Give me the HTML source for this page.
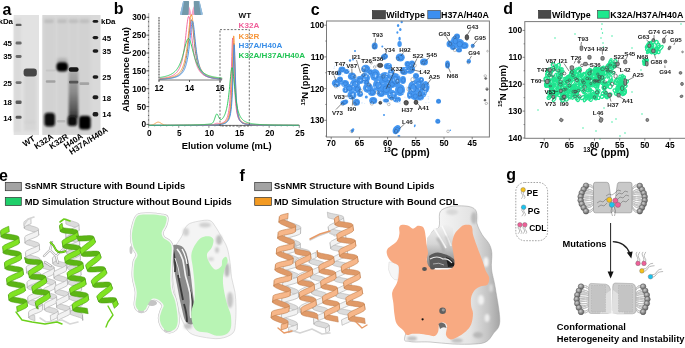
<!DOCTYPE html>
<html><head><meta charset="utf-8"><style>
html,body{margin:0;padding:0;background:#fff;width:685px;height:348px;overflow:hidden}
svg{display:block;will-change:transform}
text{font-family:"Liberation Sans",sans-serif}
</style></head><body>
<svg width="685" height="348" viewBox="0 0 685 348">
<defs>
<filter id="b1" x="-50%" y="-50%" width="200%" height="200%"><feGaussianBlur stdDeviation="1"/></filter>
<filter id="b15" x="-50%" y="-50%" width="200%" height="200%"><feGaussianBlur stdDeviation="1.5"/></filter>
<filter id="b2" x="-50%" y="-50%" width="200%" height="200%"><feGaussianBlur stdDeviation="2"/></filter>
<filter id="b05" x="-50%" y="-50%" width="200%" height="200%"><feGaussianBlur stdDeviation="0.5"/></filter>
<filter id="b07" x="-50%" y="-50%" width="200%" height="200%"><feGaussianBlur stdDeviation="0.7"/></filter>
<filter id="b03" x="-50%" y="-50%" width="200%" height="200%"><feGaussianBlur stdDeviation="0.3"/></filter>
<radialGradient id="head" cx="40%" cy="35%" r="65%"><stop offset="0" stop-color="#cfcfcf"/><stop offset="1" stop-color="#5e5e5e"/></radialGradient>
<linearGradient id="smear" x1="0" y1="0" x2="0" y2="1"><stop offset="0" stop-color="#ababab"/><stop offset="0.45" stop-color="#8a8a8a"/><stop offset="0.8" stop-color="#5a5a5a"/><stop offset="1" stop-color="#333"/></linearGradient>
</defs>

<text x="2.5" y="14.7" font-family="Liberation Sans" font-weight="bold" font-size="16">a</text>
<rect x="13.7" y="15" width="25.3" height="120" fill="#e2e2e2"/>
<rect x="42.3" y="15" width="58.2" height="120" fill="#d9d9d9"/>
<g><rect x="24" y="76" width="12.5" height="55" fill="#d6d6d6" filter="url(#b15)"/><rect x="14" y="18" width="7" height="114" fill="#dadada" filter="url(#b1)"/><rect x="15.6" y="23.7" width="6.000000000000002" height="2.3999999999999986" rx="1.3" fill="#606060" opacity="1" filter="url(#b07)"/><rect x="15.6" y="41.5" width="6.000000000000002" height="3.0" rx="1.3" fill="#6a6a6a" opacity="1" filter="url(#b07)"/><rect x="15.6" y="54.9" width="6.000000000000002" height="3.0" rx="1.3" fill="#6a6a6a" opacity="1" filter="url(#b07)"/><rect x="15.6" y="81.3" width="6.000000000000002" height="2.5999999999999943" rx="1.3" fill="#707070" opacity="1" filter="url(#b07)"/><rect x="15.6" y="100.5" width="6.000000000000002" height="3.5999999999999943" rx="1.3" fill="#5a5a5a" opacity="1" filter="url(#b07)"/><rect x="15.6" y="115.7" width="6.000000000000002" height="3.0" rx="1.3" fill="#5a5a5a" opacity="1" filter="url(#b07)"/><rect x="23.6" y="68.6" width="13.199999999999996" height="7.800000000000011" rx="3" fill="#464646" opacity="1" filter="url(#b07)"/><rect x="24.5" y="120.5" width="11.0" height="3.5" rx="2.5" fill="#d2d2d2" opacity="1" filter="url(#b1)"/><rect x="43.5" y="17" width="11.5" height="116" fill="#cdcdcd" opacity="0.55" filter="url(#b1)"/><rect x="56.5" y="17" width="11.5" height="116" fill="#cdcdcd" opacity="0.55" filter="url(#b1)"/><rect x="68.5" y="17" width="10.0" height="116" fill="#cdcdcd" opacity="0.55" filter="url(#b1)"/><rect x="79" y="17" width="11.5" height="116" fill="#cdcdcd" opacity="0.55" filter="url(#b1)"/><rect x="44" y="19.5" width="10" height="3.5" rx="2.5" fill="#bdbdbd" opacity="1" filter="url(#b1)"/><rect x="57" y="19.5" width="10" height="3.5" rx="2.5" fill="#bdbdbd" opacity="1" filter="url(#b1)"/><rect x="68.5" y="19.5" width="10.0" height="3.5" rx="2.5" fill="#bdbdbd" opacity="1" filter="url(#b1)"/><rect x="79.5" y="19.5" width="10.0" height="3.5" rx="2.5" fill="#bdbdbd" opacity="1" filter="url(#b1)"/><rect x="45.8" y="80.2" width="9.700000000000003" height="2.5999999999999943" rx="1" fill="#a2a2a2" opacity="1" filter="url(#b07)"/><rect x="45.8" y="69.5" width="9.700000000000003" height="2.0" rx="1" fill="#c6c6c6" opacity="1" filter="url(#b07)"/><rect x="44.3" y="112.8" width="10.700000000000003" height="13.700000000000003" rx="3.5" fill="#0c0c0c" opacity="1" filter="url(#b1)"/><rect x="57" y="58" width="10.5" height="6" rx="3" fill="#b0b0b0" opacity="1" filter="url(#b15)"/><rect x="56.4" y="62.2" width="11.600000000000001" height="9.200000000000003" rx="4" fill="#050505" opacity="1" filter="url(#b1)"/><rect x="57" y="120" width="8.299999999999997" height="2.5" rx="1" fill="#b8b8b8" opacity="1" filter="url(#b07)"/><rect x="68.6" y="71" width="9.8" height="47" fill="url(#smear)" filter="url(#b1)"/><rect x="68.7" y="67.3" width="9.899999999999991" height="4.5" rx="2" fill="#151515" opacity="1" filter="url(#b07)"/><rect x="69" y="80.8" width="9.299999999999997" height="2.799999999999997" rx="1" fill="#555" opacity="1" filter="url(#b07)"/><rect x="67.6" y="116" width="9.600000000000009" height="10" rx="3" fill="#080808" opacity="1" filter="url(#b1)"/><rect x="79.5" y="82.3" width="9.700000000000003" height="2.700000000000003" rx="1" fill="#a4a4a4" opacity="1" filter="url(#b07)"/><rect x="79" y="115.8" width="11.700000000000003" height="13.600000000000009" rx="3.5" fill="#030303" opacity="1" filter="url(#b1)"/><rect x="92.6" y="20.099999999999998" width="5.700000000000003" height="2.6000000000000014" rx="1.8" fill="#1e1e1e" opacity="1" filter="url(#b07)"/><rect x="92.6" y="35.9" width="5.700000000000003" height="3.4000000000000057" rx="1.8" fill="#1e1e1e" opacity="1" filter="url(#b07)"/><rect x="92.6" y="49.3" width="5.700000000000003" height="3.4000000000000057" rx="1.8" fill="#1e1e1e" opacity="1" filter="url(#b07)"/><rect x="92.6" y="75.2" width="5.700000000000003" height="3.5999999999999943" rx="1.8" fill="#1e1e1e" opacity="1" filter="url(#b07)"/><rect x="92.6" y="95.3" width="5.700000000000003" height="4.0" rx="1.8" fill="#1e1e1e" opacity="1" filter="url(#b07)"/><rect x="92.6" y="112.1" width="5.700000000000003" height="4.400000000000006" rx="1.8" fill="#1e1e1e" opacity="1" filter="url(#b07)"/></g>
<text x="13" y="24.3" font-family="Liberation Sans" font-weight="bold" font-size="7.9" text-anchor="end">kDa</text>
<text x="12" y="46" font-family="Liberation Sans" font-weight="bold" font-size="7.9" text-anchor="end">45</text>
<text x="12" y="59.2" font-family="Liberation Sans" font-weight="bold" font-size="7.9" text-anchor="end">35</text>
<text x="12" y="86.2" font-family="Liberation Sans" font-weight="bold" font-size="7.9" text-anchor="end">25</text>
<text x="12" y="104.8" font-family="Liberation Sans" font-weight="bold" font-size="7.9" text-anchor="end">18</text>
<text x="12" y="120.6" font-family="Liberation Sans" font-weight="bold" font-size="7.9" text-anchor="end">14</text>
<text x="101" y="24.4" font-family="Liberation Sans" font-weight="bold" font-size="7.9">kDa</text>
<text x="102.3" y="41.3" font-family="Liberation Sans" font-weight="bold" font-size="7.9">45</text>
<text x="102.3" y="54.4" font-family="Liberation Sans" font-weight="bold" font-size="7.9">35</text>
<text x="102.3" y="80.2" font-family="Liberation Sans" font-weight="bold" font-size="7.9">25</text>
<text x="102.3" y="101" font-family="Liberation Sans" font-weight="bold" font-size="7.9">18</text>
<text x="102.3" y="116.6" font-family="Liberation Sans" font-weight="bold" font-size="7.9">14</text>
<text transform="translate(25,147) rotate(-33)" font-family="Liberation Sans" font-weight="bold" font-size="8.2">WT</text>
<text transform="translate(36.5,149.5) rotate(-33)" font-family="Liberation Sans" font-weight="bold" font-size="8.2">K32A</text>
<text transform="translate(51.5,149.5) rotate(-33)" font-family="Liberation Sans" font-weight="bold" font-size="8.2">K32R</text>
<text transform="translate(66,149) rotate(-33)" font-family="Liberation Sans" font-weight="bold" font-size="8.2">H40A</text>
<text transform="translate(71.5,155) rotate(-33)" font-family="Liberation Sans" font-weight="bold" font-size="8.2">H37A/H40A</text>
<text x="113.8" y="13.8" font-family="Liberation Sans" font-weight="bold" font-size="16">b</text>
<line x1="148.6" y1="13" x2="148.6" y2="125.4" stroke="#bdbdbd" stroke-width="1.4"/>
<path d="M148.10,124.40h1M148.10,119.94h1M148.10,115.48h1M148.10,111.01h1M148.10,106.55h1M148.10,102.09h1M148.10,97.62h1M148.10,93.16h1M148.10,88.70h1M148.10,84.24h1M148.10,79.78h1M148.10,75.31h1M148.10,70.85h1M148.10,66.39h1M148.10,61.93h1M148.10,57.46h1M148.10,53.00h1M148.10,48.54h1M148.10,44.08h1M148.10,39.61h1M148.10,35.15h1M148.10,30.69h1M148.10,26.23h1M148.10,21.76h1M148.10,17.30h1" stroke="#444" stroke-width="0.9"/>
<line x1="146.4" y1="124.40" x2="148.6" y2="124.40" stroke="#333" stroke-width="0.8"/>
<text x="146.0" y="127.40" font-family="Liberation Sans" font-weight="bold" font-size="8.3" text-anchor="end">0</text>
<line x1="146.4" y1="106.55" x2="148.6" y2="106.55" stroke="#333" stroke-width="0.8"/>
<text x="146.0" y="109.55" font-family="Liberation Sans" font-weight="bold" font-size="8.3" text-anchor="end">50</text>
<line x1="146.4" y1="88.70" x2="148.6" y2="88.70" stroke="#333" stroke-width="0.8"/>
<text x="146.0" y="91.70" font-family="Liberation Sans" font-weight="bold" font-size="8.3" text-anchor="end">100</text>
<line x1="146.4" y1="70.85" x2="148.6" y2="70.85" stroke="#333" stroke-width="0.8"/>
<text x="146.0" y="73.85" font-family="Liberation Sans" font-weight="bold" font-size="8.3" text-anchor="end">150</text>
<line x1="146.4" y1="53.00" x2="148.6" y2="53.00" stroke="#333" stroke-width="0.8"/>
<text x="146.0" y="56.00" font-family="Liberation Sans" font-weight="bold" font-size="8.3" text-anchor="end">200</text>
<line x1="146.4" y1="35.15" x2="148.6" y2="35.15" stroke="#333" stroke-width="0.8"/>
<text x="146.0" y="38.15" font-family="Liberation Sans" font-weight="bold" font-size="8.3" text-anchor="end">250</text>
<line x1="146.4" y1="17.30" x2="148.6" y2="17.30" stroke="#333" stroke-width="0.8"/>
<text x="146.0" y="20.30" font-family="Liberation Sans" font-weight="bold" font-size="8.3" text-anchor="end">300</text>
<line x1="148.6" y1="125.4" x2="299.80" y2="125.4" stroke="#444" stroke-width="0.8"/>
<path d="M148.60,125.4v1.2M154.63,125.4v1.2M160.66,125.4v1.2M166.68,125.4v1.2M172.71,125.4v1.2M178.74,125.4v1.2M184.77,125.4v1.2M190.80,125.4v1.2M196.82,125.4v1.2M202.85,125.4v1.2M208.88,125.4v1.2M214.91,125.4v1.2M220.94,125.4v1.2M226.96,125.4v1.2M232.99,125.4v1.2M239.02,125.4v1.2M245.05,125.4v1.2M251.08,125.4v1.2M257.10,125.4v1.2M263.13,125.4v1.2M269.16,125.4v1.2M275.19,125.4v1.2M281.22,125.4v1.2M287.24,125.4v1.2M293.27,125.4v1.2M299.30,125.4v1.2" stroke="#888" stroke-width="0.6"/>
<line x1="148.60" y1="125.4" x2="148.60" y2="128.0" stroke="#999" stroke-width="0.9"/>
<text x="149.20" y="136" font-family="Liberation Sans" font-weight="bold" font-size="8.3" text-anchor="middle">0</text>
<line x1="178.74" y1="125.4" x2="178.74" y2="128.0" stroke="#999" stroke-width="0.9"/>
<text x="179.34" y="136" font-family="Liberation Sans" font-weight="bold" font-size="8.3" text-anchor="middle">5</text>
<line x1="208.88" y1="125.4" x2="208.88" y2="128.0" stroke="#999" stroke-width="0.9"/>
<text x="209.48" y="136" font-family="Liberation Sans" font-weight="bold" font-size="8.3" text-anchor="middle">10</text>
<line x1="239.02" y1="125.4" x2="239.02" y2="128.0" stroke="#999" stroke-width="0.9"/>
<text x="239.62" y="136" font-family="Liberation Sans" font-weight="bold" font-size="8.3" text-anchor="middle">15</text>
<line x1="269.16" y1="125.4" x2="269.16" y2="128.0" stroke="#999" stroke-width="0.9"/>
<text x="269.76" y="136" font-family="Liberation Sans" font-weight="bold" font-size="8.3" text-anchor="middle">20</text>
<line x1="299.30" y1="125.4" x2="299.30" y2="128.0" stroke="#999" stroke-width="0.9"/>
<text x="299.90" y="136" font-family="Liberation Sans" font-weight="bold" font-size="8.3" text-anchor="middle">25</text>
<text x="226.7" y="149" font-family="Liberation Sans" font-weight="bold" font-size="9.4" text-anchor="middle">Elution volume (mL)</text>
<text transform="translate(129,69.6) rotate(-90)" font-family="Liberation Sans" font-weight="bold" font-size="9.5" text-anchor="middle">Absorbance (mAu)</text>
<polyline points="148.60,125.37 148.90,125.37 149.20,125.37 149.50,125.37 149.81,125.37 150.11,125.37 150.41,125.37 150.71,125.37 151.01,125.37 151.31,125.37 151.61,125.37 151.92,125.37 152.22,125.37 152.52,125.37 152.82,125.37 153.12,125.37 153.42,125.37 153.72,125.37 154.03,125.37 154.33,125.37 154.63,125.37 154.93,125.37 155.23,125.37 155.53,125.37 155.83,125.37 156.13,125.37 156.44,125.37 156.74,125.37 157.04,125.37 157.34,125.37 157.64,125.37 157.94,125.37 158.24,125.37 158.55,125.37 158.85,125.37 159.15,125.37 159.45,125.37 159.75,125.37 160.05,125.37 160.35,125.37 160.66,125.36 160.96,125.36 161.26,125.36 161.56,125.36 161.86,125.36 162.16,125.36 162.46,125.36 162.77,125.36 163.07,125.36 163.37,125.36 163.67,125.36 163.97,125.36 164.27,125.36 164.57,125.36 164.88,125.36 165.18,125.36 165.48,125.36 165.78,125.36 166.08,125.36 166.38,125.36 166.68,125.36 166.99,125.36 167.29,125.36 167.59,125.36 167.89,125.36 168.19,125.36 168.49,125.36 168.79,125.36 169.10,125.35 169.40,125.35 169.70,125.35 170.00,125.35 170.30,125.35 170.60,125.35 170.90,125.35 171.20,125.35 171.51,125.35 171.81,125.35 172.11,125.35 172.41,125.35 172.71,125.35 173.01,125.35 173.31,125.35 173.62,125.35 173.92,125.35 174.22,125.35 174.52,125.35 174.82,125.35 175.12,125.35 175.42,125.34 175.73,125.34 176.03,125.34 176.33,125.34 176.63,125.34 176.93,125.34 177.23,125.34 177.53,125.34 177.84,125.34 178.14,125.34 178.44,125.34 178.74,125.34 179.04,125.34 179.34,125.34 179.64,125.34 179.95,125.33 180.25,125.33 180.55,125.33 180.85,125.33 181.15,125.33 181.45,125.33 181.75,125.33 182.06,125.33 182.36,125.33 182.66,125.33 182.96,125.33 183.26,125.33 183.56,125.33 183.86,125.32 184.17,125.32 184.47,125.32 184.77,125.32 185.07,125.32 185.37,125.32 185.67,125.32 185.97,125.32 186.27,125.32 186.58,125.32 186.88,125.31 187.18,125.31 187.48,125.31 187.78,125.31 188.08,125.31 188.38,125.31 188.69,125.31 188.99,125.31 189.29,125.30 189.59,125.30 189.89,125.30 190.19,125.30 190.49,125.30 190.80,125.30 191.10,125.30 191.40,125.30 191.70,125.29 192.00,125.29 192.30,125.29 192.60,125.29 192.91,125.29 193.21,125.29 193.51,125.28 193.81,125.28 194.11,125.28 194.41,125.28 194.71,125.28 195.02,125.27 195.32,125.27 195.62,125.27 195.92,125.27 196.22,125.27 196.52,125.26 196.82,125.26 197.13,125.26 197.43,125.26 197.73,125.26 198.03,125.25 198.33,125.25 198.63,125.25 198.93,125.24 199.24,125.24 199.54,125.24 199.84,125.24 200.14,125.23 200.44,125.23 200.74,125.23 201.04,125.22 201.34,125.22 201.65,125.22 201.95,125.21 202.25,125.21 202.55,125.21 202.85,125.20 203.15,125.20 203.45,125.20 203.76,125.19 204.06,125.19 204.36,125.18 204.66,125.18 204.96,125.17 205.26,125.17 205.56,125.16 205.87,125.16 206.17,125.15 206.47,125.15 206.77,125.14 207.07,125.14 207.37,125.13 207.67,125.12 207.98,125.12 208.28,125.11 208.58,125.10 208.88,125.10 209.18,125.09 209.48,125.08 209.78,125.07 210.09,125.06 210.39,125.06 210.69,125.05 210.99,125.04 211.29,125.03 211.59,125.02 211.89,125.01 212.20,125.00 212.50,124.98 212.80,124.97 213.10,124.96 213.40,124.95 213.70,124.93 214.00,124.92 214.31,124.90 214.61,124.89 214.91,124.87 215.21,124.85 215.51,124.84 215.81,124.82 216.11,124.80 216.42,124.78 216.72,124.75 217.02,124.73 217.32,124.71 217.62,124.68 217.92,124.65 218.22,124.62 218.52,124.59 218.83,124.56 219.13,124.53 219.43,124.49 219.73,124.45 220.03,124.41 220.33,124.36 220.63,124.32 220.94,124.26 221.24,124.21 221.54,124.15 221.84,124.09 222.14,124.02 222.44,123.95 222.74,123.87 223.05,123.78 223.35,123.69 223.65,123.58 223.95,123.47 224.25,123.35 224.55,123.22 224.85,123.07 225.16,122.91 225.46,122.73 225.76,122.53 226.06,122.31 226.36,122.06 226.66,121.78 226.96,121.47 227.27,121.11 227.57,120.71 227.87,120.24 228.17,119.70 228.47,119.08 228.77,118.36 229.07,117.50 229.38,116.49 229.68,115.28 229.98,113.82 230.28,112.04 230.58,109.85 230.88,107.13 231.18,103.73 231.49,99.44 231.79,94.01 232.09,87.17 232.39,78.72 232.69,68.76 232.99,58.09 233.29,48.60 233.59,43.10 233.90,43.75 234.20,50.27 234.50,60.20 234.80,70.85 235.10,80.54 235.40,88.66 235.70,95.20 236.01,100.38 236.31,104.48 236.61,107.73 236.91,110.33 237.21,112.42 237.51,114.13 237.81,115.54 238.12,116.71 238.42,117.68 238.72,118.51 239.02,119.21 239.32,119.82 239.62,120.34 239.92,120.79 240.23,121.19 240.53,121.54 240.83,121.84 241.13,122.11 241.43,122.36 241.73,122.57 242.03,122.77 242.34,122.94 242.64,123.10 242.94,123.25 243.24,123.38 243.54,123.50 243.84,123.61 244.14,123.71 244.45,123.80 244.75,123.88 245.05,123.96 245.35,124.03 245.65,124.10 245.95,124.16 246.25,124.22 246.56,124.27 246.86,124.32 247.16,124.37 247.46,124.42 247.76,124.46 248.06,124.50 248.36,124.53 248.66,124.57 248.97,124.60 249.27,124.63 249.57,124.66 249.87,124.69 250.17,124.71 250.47,124.74 250.77,124.76 251.08,124.78 251.38,124.80 251.68,124.82 251.98,124.84 252.28,124.86 252.58,124.87 252.88,124.89 253.19,124.91 253.49,124.92 253.79,124.94 254.09,124.95 254.39,124.96 254.69,124.97 254.99,124.99 255.30,125.00 255.60,125.01 255.90,125.02 256.20,125.03 256.50,125.04 256.80,125.05 257.10,125.06 257.41,125.07 257.71,125.07 258.01,125.08 258.31,125.09 258.61,125.10 258.91,125.10 259.21,125.11 259.52,125.12 259.82,125.12 260.12,125.13 260.42,125.14 260.72,125.14 261.02,125.15 261.32,125.15 261.63,125.16 261.93,125.16 262.23,125.17 262.53,125.17 262.83,125.18 263.13,125.18 263.43,125.19 263.73,125.19 264.04,125.20 264.34,125.20 264.64,125.20 264.94,125.21 265.24,125.21 265.54,125.21 265.84,125.22 266.15,125.22 266.45,125.22 266.75,125.23 267.05,125.23 267.35,125.23 267.65,125.24 267.95,125.24 268.26,125.24 268.56,125.25 268.86,125.25 269.16,125.25 269.46,125.25 269.76,125.26 270.06,125.26 270.37,125.26 270.67,125.26 270.97,125.26 271.27,125.27 271.57,125.27 271.87,125.27 272.17,125.27 272.48,125.27 272.78,125.28 273.08,125.28 273.38,125.28 273.68,125.28 273.98,125.28 274.28,125.29 274.59,125.29 274.89,125.29 275.19,125.29 275.49,125.29 275.79,125.29 276.09,125.30 276.39,125.30 276.70,125.30 277.00,125.30 277.30,125.30 277.60,125.30 277.90,125.30 278.20,125.31 278.50,125.31 278.80,125.31 279.11,125.31 279.41,125.31 279.71,125.31 280.01,125.31 280.31,125.31 280.61,125.31 280.91,125.32 281.22,125.32 281.52,125.32 281.82,125.32 282.12,125.32 282.42,125.32 282.72,125.32 283.02,125.32 283.33,125.32 283.63,125.32 283.93,125.33 284.23,125.33 284.53,125.33 284.83,125.33 285.13,125.33 285.44,125.33 285.74,125.33 286.04,125.33 286.34,125.33 286.64,125.33 286.94,125.33 287.24,125.33 287.55,125.34 287.85,125.34 288.15,125.34 288.45,125.34 288.75,125.34 289.05,125.34 289.35,125.34 289.66,125.34 289.96,125.34 290.26,125.34 290.56,125.34 290.86,125.34 291.16,125.34 291.46,125.34 291.77,125.34 292.07,125.34 292.37,125.35 292.67,125.35 292.97,125.35 293.27,125.35 293.57,125.35 293.87,125.35 294.18,125.35 294.48,125.35 294.78,125.35 295.08,125.35 295.38,125.35 295.68,125.35 295.98,125.35 296.29,125.35 296.59,125.35 296.89,125.35 297.19,125.35 297.49,125.35 297.79,125.35 298.09,125.35 298.40,125.36 298.70,125.36 299.00,125.36" fill="none" stroke="#777777" stroke-width="0.9"/>
<polyline points="148.60,125.36 148.90,125.36 149.20,125.36 149.50,125.36 149.81,125.36 150.11,125.36 150.41,125.36 150.71,125.36 151.01,125.36 151.31,125.36 151.61,125.36 151.92,125.36 152.22,125.36 152.52,125.36 152.82,125.36 153.12,125.36 153.42,125.36 153.72,125.36 154.03,125.36 154.33,125.36 154.63,125.36 154.93,125.36 155.23,125.36 155.53,125.36 155.83,125.35 156.13,125.35 156.44,125.35 156.74,125.35 157.04,125.35 157.34,125.35 157.64,125.35 157.94,125.35 158.24,125.35 158.55,125.35 158.85,125.35 159.15,125.35 159.45,125.35 159.75,125.35 160.05,125.35 160.35,125.35 160.66,125.35 160.96,125.35 161.26,125.35 161.56,125.35 161.86,125.35 162.16,125.35 162.46,125.35 162.77,125.35 163.07,125.34 163.37,125.34 163.67,125.34 163.97,125.34 164.27,125.34 164.57,125.34 164.88,125.34 165.18,125.34 165.48,125.34 165.78,125.34 166.08,125.34 166.38,125.34 166.68,125.34 166.99,125.34 167.29,125.34 167.59,125.34 167.89,125.34 168.19,125.34 168.49,125.34 168.79,125.33 169.10,125.33 169.40,125.33 169.70,125.33 170.00,125.33 170.30,125.33 170.60,125.33 170.90,125.33 171.20,125.33 171.51,125.33 171.81,125.33 172.11,125.33 172.41,125.33 172.71,125.33 173.01,125.33 173.31,125.32 173.62,125.32 173.92,125.32 174.22,125.32 174.52,125.32 174.82,125.32 175.12,125.32 175.42,125.32 175.73,125.32 176.03,125.32 176.33,125.32 176.63,125.32 176.93,125.31 177.23,125.31 177.53,125.31 177.84,125.31 178.14,125.31 178.44,125.31 178.74,125.31 179.04,125.31 179.34,125.31 179.64,125.31 179.95,125.30 180.25,125.30 180.55,125.30 180.85,125.30 181.15,125.30 181.45,125.30 181.75,125.30 182.06,125.30 182.36,125.29 182.66,125.29 182.96,125.29 183.26,125.29 183.56,125.29 183.86,125.29 184.17,125.29 184.47,125.29 184.77,125.28 185.07,125.28 185.37,125.28 185.67,125.28 185.97,125.28 186.27,125.28 186.58,125.27 186.88,125.27 187.18,125.27 187.48,125.27 187.78,125.27 188.08,125.27 188.38,125.26 188.69,125.26 188.99,125.26 189.29,125.26 189.59,125.26 189.89,125.25 190.19,125.25 190.49,125.25 190.80,125.25 191.10,125.25 191.40,125.24 191.70,125.24 192.00,125.24 192.30,125.24 192.60,125.23 192.91,125.23 193.21,125.23 193.51,125.23 193.81,125.22 194.11,125.22 194.41,125.22 194.71,125.22 195.02,125.21 195.32,125.21 195.62,125.21 195.92,125.20 196.22,125.20 196.52,125.20 196.82,125.19 197.13,125.19 197.43,125.19 197.73,125.18 198.03,125.18 198.33,125.17 198.63,125.17 198.93,125.17 199.24,125.16 199.54,125.16 199.84,125.15 200.14,125.15 200.44,125.14 200.74,125.14 201.04,125.13 201.34,125.13 201.65,125.12 201.95,125.12 202.25,125.11 202.55,125.11 202.85,125.10 203.15,125.09 203.45,125.09 203.76,125.08 204.06,125.08 204.36,125.07 204.66,125.06 204.96,125.05 205.26,125.05 205.56,125.04 205.87,125.03 206.17,125.02 206.47,125.01 206.77,125.00 207.07,124.99 207.37,124.98 207.67,124.97 207.98,124.96 208.28,124.95 208.58,124.94 208.88,124.93 209.18,124.92 209.48,124.91 209.78,124.89 210.09,124.88 210.39,124.86 210.69,124.85 210.99,124.83 211.29,124.81 211.59,124.78 211.89,124.76 212.20,124.72 212.50,124.68 212.80,124.63 213.10,124.56 213.40,124.49 213.70,124.40 214.00,124.29 214.31,124.18 214.61,124.05 214.91,123.91 215.21,123.78 215.51,123.65 215.81,123.53 216.11,123.42 216.42,123.35 216.72,123.29 217.02,123.27 217.32,123.27 217.62,123.29 217.92,123.33 218.22,123.38 218.52,123.44 218.83,123.49 219.13,123.53 219.43,123.56 219.73,123.57 220.03,123.56 220.33,123.54 220.63,123.50 220.94,123.44 221.24,123.36 221.54,123.27 221.84,123.17 222.14,123.05 222.44,122.92 222.74,122.77 223.05,122.62 223.35,122.44 223.65,122.25 223.95,122.04 224.25,121.80 224.55,121.54 224.85,121.25 225.16,120.93 225.46,120.57 225.76,120.17 226.06,119.72 226.36,119.20 226.66,118.61 226.96,117.94 227.27,117.17 227.57,116.28 227.87,115.24 228.17,114.02 228.47,112.59 228.77,110.88 229.07,108.84 229.38,106.37 229.68,103.38 229.98,99.73 230.28,95.27 230.58,89.80 230.88,83.15 231.18,75.22 231.49,66.13 231.79,56.40 232.09,47.23 232.39,40.46 232.69,37.94 232.99,40.46 233.29,47.23 233.59,56.40 233.90,66.13 234.20,75.22 234.50,83.15 234.80,89.80 235.10,95.27 235.40,99.73 235.70,103.38 236.01,106.37 236.31,108.84 236.61,110.88 236.91,112.59 237.21,114.02 237.51,115.24 237.81,116.28 238.12,117.17 238.42,117.94 238.72,118.61 239.02,119.20 239.32,119.72 239.62,120.17 239.92,120.57 240.23,120.93 240.53,121.25 240.83,121.54 241.13,121.80 241.43,122.04 241.73,122.25 242.03,122.44 242.34,122.62 242.64,122.78 242.94,122.93 243.24,123.06 243.54,123.19 243.84,123.30 244.14,123.41 244.45,123.51 244.75,123.60 245.05,123.68 245.35,123.76 245.65,123.84 245.95,123.91 246.25,123.97 246.56,124.03 246.86,124.09 247.16,124.14 247.46,124.19 247.76,124.24 248.06,124.28 248.36,124.33 248.66,124.36 248.97,124.40 249.27,124.44 249.57,124.47 249.87,124.50 250.17,124.53 250.47,124.56 250.77,124.59 251.08,124.62 251.38,124.64 251.68,124.66 251.98,124.69 252.28,124.71 252.58,124.73 252.88,124.75 253.19,124.77 253.49,124.79 253.79,124.80 254.09,124.82 254.39,124.84 254.69,124.85 254.99,124.87 255.30,124.88 255.60,124.89 255.90,124.91 256.20,124.92 256.50,124.93 256.80,124.94 257.10,124.95 257.41,124.96 257.71,124.97 258.01,124.98 258.31,124.99 258.61,125.00 258.91,125.01 259.21,125.02 259.52,125.03 259.82,125.04 260.12,125.05 260.42,125.05 260.72,125.06 261.02,125.07 261.32,125.08 261.63,125.08 261.93,125.09 262.23,125.09 262.53,125.10 262.83,125.11 263.13,125.11 263.43,125.12 263.73,125.12 264.04,125.13 264.34,125.13 264.64,125.14 264.94,125.14 265.24,125.15 265.54,125.15 265.84,125.16 266.15,125.16 266.45,125.17 266.75,125.17 267.05,125.17 267.35,125.18 267.65,125.18 267.95,125.19 268.26,125.19 268.56,125.19 268.86,125.20 269.16,125.20 269.46,125.20 269.76,125.21 270.06,125.21 270.37,125.21 270.67,125.22 270.97,125.22 271.27,125.22 271.57,125.22 271.87,125.23 272.17,125.23 272.48,125.23 272.78,125.23 273.08,125.24 273.38,125.24 273.68,125.24 273.98,125.24 274.28,125.25 274.59,125.25 274.89,125.25 275.19,125.25 275.49,125.25 275.79,125.26 276.09,125.26 276.39,125.26 276.70,125.26 277.00,125.26 277.30,125.27 277.60,125.27 277.90,125.27 278.20,125.27 278.50,125.27 278.80,125.27 279.11,125.28 279.41,125.28 279.71,125.28 280.01,125.28 280.31,125.28 280.61,125.28 280.91,125.29 281.22,125.29 281.52,125.29 281.82,125.29 282.12,125.29 282.42,125.29 282.72,125.29 283.02,125.29 283.33,125.30 283.63,125.30 283.93,125.30 284.23,125.30 284.53,125.30 284.83,125.30 285.13,125.30 285.44,125.30 285.74,125.31 286.04,125.31 286.34,125.31 286.64,125.31 286.94,125.31 287.24,125.31 287.55,125.31 287.85,125.31 288.15,125.31 288.45,125.31 288.75,125.32 289.05,125.32 289.35,125.32 289.66,125.32 289.96,125.32 290.26,125.32 290.56,125.32 290.86,125.32 291.16,125.32 291.46,125.32 291.77,125.32 292.07,125.32 292.37,125.33 292.67,125.33 292.97,125.33 293.27,125.33 293.57,125.33 293.87,125.33 294.18,125.33 294.48,125.33 294.78,125.33 295.08,125.33 295.38,125.33 295.68,125.33 295.98,125.33 296.29,125.33 296.59,125.33 296.89,125.34 297.19,125.34 297.49,125.34 297.79,125.34 298.09,125.34 298.40,125.34 298.70,125.34 299.00,125.34" fill="none" stroke="#f0609a" stroke-width="0.9"/>
<polyline points="148.60,125.35 148.90,125.34 149.20,125.33 149.50,125.32 149.81,125.30 150.11,125.28 150.41,125.25 150.71,125.22 151.01,125.18 151.31,125.13 151.61,125.08 151.92,125.01 152.22,124.93 152.52,124.83 152.82,124.73 153.12,124.60 153.42,124.47 153.72,124.32 154.03,124.15 154.33,123.98 154.63,123.80 154.93,123.60 155.23,123.41 155.53,123.22 155.83,123.02 156.13,122.84 156.44,122.67 156.74,122.52 157.04,122.39 157.34,122.28 157.64,122.21 157.94,122.16 158.24,122.14 158.55,122.16 158.85,122.20 159.15,122.28 159.45,122.39 159.75,122.52 160.05,122.67 160.35,122.84 160.66,123.02 160.96,123.21 161.26,123.40 161.56,123.60 161.86,123.79 162.16,123.97 162.46,124.14 162.77,124.31 163.07,124.46 163.37,124.59 163.67,124.71 163.97,124.82 164.27,124.91 164.57,124.99 164.88,125.06 165.18,125.12 165.48,125.16 165.78,125.20 166.08,125.23 166.38,125.26 166.68,125.28 166.99,125.29 167.29,125.31 167.59,125.32 167.89,125.32 168.19,125.33 168.49,125.33 168.79,125.33 169.10,125.33 169.40,125.33 169.70,125.34 170.00,125.34 170.30,125.34 170.60,125.33 170.90,125.33 171.20,125.33 171.51,125.33 171.81,125.33 172.11,125.33 172.41,125.33 172.71,125.33 173.01,125.33 173.31,125.33 173.62,125.33 173.92,125.33 174.22,125.33 174.52,125.33 174.82,125.33 175.12,125.33 175.42,125.32 175.73,125.32 176.03,125.32 176.33,125.32 176.63,125.32 176.93,125.32 177.23,125.32 177.53,125.32 177.84,125.32 178.14,125.32 178.44,125.32 178.74,125.32 179.04,125.31 179.34,125.31 179.64,125.31 179.95,125.31 180.25,125.31 180.55,125.31 180.85,125.31 181.15,125.31 181.45,125.31 181.75,125.31 182.06,125.30 182.36,125.30 182.66,125.30 182.96,125.30 183.26,125.30 183.56,125.30 183.86,125.30 184.17,125.30 184.47,125.29 184.77,125.29 185.07,125.29 185.37,125.29 185.67,125.29 185.97,125.29 186.27,125.29 186.58,125.28 186.88,125.28 187.18,125.28 187.48,125.28 187.78,125.28 188.08,125.28 188.38,125.28 188.69,125.27 188.99,125.27 189.29,125.27 189.59,125.27 189.89,125.27 190.19,125.26 190.49,125.26 190.80,125.26 191.10,125.26 191.40,125.26 191.70,125.26 192.00,125.25 192.30,125.25 192.60,125.25 192.91,125.25 193.21,125.24 193.51,125.24 193.81,125.24 194.11,125.24 194.41,125.23 194.71,125.23 195.02,125.23 195.32,125.23 195.62,125.22 195.92,125.22 196.22,125.22 196.52,125.22 196.82,125.21 197.13,125.21 197.43,125.21 197.73,125.20 198.03,125.20 198.33,125.20 198.63,125.19 198.93,125.19 199.24,125.18 199.54,125.18 199.84,125.18 200.14,125.17 200.44,125.17 200.74,125.16 201.04,125.16 201.34,125.16 201.65,125.15 201.95,125.15 202.25,125.14 202.55,125.14 202.85,125.13 203.15,125.13 203.45,125.12 203.76,125.12 204.06,125.11 204.36,125.10 204.66,125.10 204.96,125.09 205.26,125.08 205.56,125.08 205.87,125.07 206.17,125.06 206.47,125.06 206.77,125.05 207.07,125.04 207.37,125.03 207.67,125.02 207.98,125.01 208.28,125.01 208.58,125.00 208.88,124.99 209.18,124.98 209.48,124.97 209.78,124.95 210.09,124.94 210.39,124.93 210.69,124.92 210.99,124.91 211.29,124.89 211.59,124.88 211.89,124.86 212.20,124.85 212.50,124.83 212.80,124.82 213.10,124.80 213.40,124.78 213.70,124.76 214.00,124.75 214.31,124.72 214.61,124.70 214.91,124.68 215.21,124.66 215.51,124.63 215.81,124.61 216.11,124.58 216.42,124.55 216.72,124.52 217.02,124.49 217.32,124.46 217.62,124.42 217.92,124.38 218.22,124.34 218.52,124.30 218.83,124.26 219.13,124.21 219.43,124.16 219.73,124.11 220.03,124.05 220.33,123.99 220.63,123.93 220.94,123.86 221.24,123.78 221.54,123.70 221.84,123.62 222.14,123.53 222.44,123.43 222.74,123.32 223.05,123.20 223.35,123.08 223.65,122.94 223.95,122.79 224.25,122.63 224.55,122.45 224.85,122.25 225.16,122.03 225.46,121.79 225.76,121.53 226.06,121.23 226.36,120.90 226.66,120.53 226.96,120.11 227.27,119.63 227.57,119.10 227.87,118.48 228.17,117.77 228.47,116.96 228.77,116.01 229.07,114.89 229.38,113.58 229.68,112.02 229.98,110.16 230.28,107.91 230.58,105.18 230.88,101.83 231.18,97.72 231.49,92.64 231.79,86.39 232.09,78.78 232.39,69.78 232.69,59.67 232.99,49.40 233.29,40.73 233.59,35.89 233.90,36.46 234.20,42.23 234.50,51.39 234.80,61.74 235.10,71.68 235.40,80.42 235.70,87.74 236.01,93.74 236.31,98.61 236.61,102.56 236.91,105.77 237.21,108.40 237.51,110.56 237.81,112.36 238.12,113.86 238.42,115.13 238.72,116.21 239.02,117.13 239.32,117.92 239.62,118.61 239.92,119.21 240.23,119.73 240.53,120.20 240.83,120.60 241.13,120.97 241.43,121.29 241.73,121.58 242.03,121.84 242.34,122.08 242.64,122.29 242.94,122.48 243.24,122.66 243.54,122.82 243.84,122.97 244.14,123.10 244.45,123.23 244.75,123.34 245.05,123.45 245.35,123.55 245.65,123.64 245.95,123.72 246.25,123.80 246.56,123.87 246.86,123.94 247.16,124.00 247.46,124.06 247.76,124.12 248.06,124.17 248.36,124.22 248.66,124.27 248.97,124.31 249.27,124.35 249.57,124.39 249.87,124.43 250.17,124.46 250.47,124.50 250.77,124.53 251.08,124.56 251.38,124.59 251.68,124.61 251.98,124.64 252.28,124.66 252.58,124.69 252.88,124.71 253.19,124.73 253.49,124.75 253.79,124.77 254.09,124.79 254.39,124.80 254.69,124.82 254.99,124.84 255.30,124.85 255.60,124.87 255.90,124.88 256.20,124.90 256.50,124.91 256.80,124.92 257.10,124.93 257.41,124.95 257.71,124.96 258.01,124.97 258.31,124.98 258.61,124.99 258.91,125.00 259.21,125.01 259.52,125.02 259.82,125.03 260.12,125.03 260.42,125.04 260.72,125.05 261.02,125.06 261.32,125.07 261.63,125.07 261.93,125.08 262.23,125.09 262.53,125.09 262.83,125.10 263.13,125.10 263.43,125.11 263.73,125.12 264.04,125.12 264.34,125.13 264.64,125.13 264.94,125.14 265.24,125.14 265.54,125.15 265.84,125.15 266.15,125.16 266.45,125.16 266.75,125.17 267.05,125.17 267.35,125.17 267.65,125.18 267.95,125.18 268.26,125.19 268.56,125.19 268.86,125.19 269.16,125.20 269.46,125.20 269.76,125.20 270.06,125.21 270.37,125.21 270.67,125.21 270.97,125.22 271.27,125.22 271.57,125.22 271.87,125.22 272.17,125.23 272.48,125.23 272.78,125.23 273.08,125.23 273.38,125.24 273.68,125.24 273.98,125.24 274.28,125.24 274.59,125.25 274.89,125.25 275.19,125.25 275.49,125.25 275.79,125.26 276.09,125.26 276.39,125.26 276.70,125.26 277.00,125.26 277.30,125.27 277.60,125.27 277.90,125.27 278.20,125.27 278.50,125.27 278.80,125.27 279.11,125.28 279.41,125.28 279.71,125.28 280.01,125.28 280.31,125.28 280.61,125.28 280.91,125.29 281.22,125.29 281.52,125.29 281.82,125.29 282.12,125.29 282.42,125.29 282.72,125.29 283.02,125.29 283.33,125.30 283.63,125.30 283.93,125.30 284.23,125.30 284.53,125.30 284.83,125.30 285.13,125.30 285.44,125.30 285.74,125.31 286.04,125.31 286.34,125.31 286.64,125.31 286.94,125.31 287.24,125.31 287.55,125.31 287.85,125.31 288.15,125.31 288.45,125.31 288.75,125.32 289.05,125.32 289.35,125.32 289.66,125.32 289.96,125.32 290.26,125.32 290.56,125.32 290.86,125.32 291.16,125.32 291.46,125.32 291.77,125.32 292.07,125.32 292.37,125.33 292.67,125.33 292.97,125.33 293.27,125.33 293.57,125.33 293.87,125.33 294.18,125.33 294.48,125.33 294.78,125.33 295.08,125.33 295.38,125.33 295.68,125.33 295.98,125.33 296.29,125.33 296.59,125.34 296.89,125.34 297.19,125.34 297.49,125.34 297.79,125.34 298.09,125.34 298.40,125.34 298.70,125.34 299.00,125.34" fill="none" stroke="#f7963a" stroke-width="0.9"/>
<polyline points="148.60,125.37 148.90,125.37 149.20,125.37 149.50,125.37 149.81,125.37 150.11,125.37 150.41,125.37 150.71,125.37 151.01,125.37 151.31,125.37 151.61,125.37 151.92,125.37 152.22,125.37 152.52,125.37 152.82,125.37 153.12,125.37 153.42,125.37 153.72,125.37 154.03,125.37 154.33,125.37 154.63,125.37 154.93,125.37 155.23,125.37 155.53,125.37 155.83,125.37 156.13,125.37 156.44,125.37 156.74,125.37 157.04,125.37 157.34,125.37 157.64,125.37 157.94,125.37 158.24,125.37 158.55,125.37 158.85,125.37 159.15,125.37 159.45,125.37 159.75,125.37 160.05,125.37 160.35,125.37 160.66,125.37 160.96,125.37 161.26,125.37 161.56,125.37 161.86,125.36 162.16,125.36 162.46,125.36 162.77,125.36 163.07,125.36 163.37,125.36 163.67,125.36 163.97,125.36 164.27,125.36 164.57,125.36 164.88,125.36 165.18,125.36 165.48,125.36 165.78,125.36 166.08,125.36 166.38,125.36 166.68,125.36 166.99,125.36 167.29,125.36 167.59,125.36 167.89,125.36 168.19,125.36 168.49,125.36 168.79,125.36 169.10,125.36 169.40,125.36 169.70,125.36 170.00,125.36 170.30,125.36 170.60,125.35 170.90,125.35 171.20,125.35 171.51,125.35 171.81,125.35 172.11,125.35 172.41,125.35 172.71,125.35 173.01,125.35 173.31,125.35 173.62,125.35 173.92,125.35 174.22,125.35 174.52,125.35 174.82,125.35 175.12,125.35 175.42,125.35 175.73,125.35 176.03,125.35 176.33,125.35 176.63,125.34 176.93,125.34 177.23,125.34 177.53,125.34 177.84,125.34 178.14,125.34 178.44,125.34 178.74,125.34 179.04,125.34 179.34,125.34 179.64,125.34 179.95,125.34 180.25,125.34 180.55,125.34 180.85,125.34 181.15,125.33 181.45,125.33 181.75,125.33 182.06,125.33 182.36,125.33 182.66,125.33 182.96,125.33 183.26,125.33 183.56,125.33 183.86,125.33 184.17,125.33 184.47,125.33 184.77,125.33 185.07,125.32 185.37,125.32 185.67,125.32 185.97,125.32 186.27,125.32 186.58,125.32 186.88,125.32 187.18,125.32 187.48,125.32 187.78,125.32 188.08,125.31 188.38,125.31 188.69,125.31 188.99,125.31 189.29,125.31 189.59,125.31 189.89,125.31 190.19,125.31 190.49,125.30 190.80,125.30 191.10,125.30 191.40,125.30 191.70,125.30 192.00,125.30 192.30,125.30 192.60,125.29 192.91,125.29 193.21,125.29 193.51,125.29 193.81,125.29 194.11,125.29 194.41,125.28 194.71,125.28 195.02,125.28 195.32,125.28 195.62,125.28 195.92,125.28 196.22,125.27 196.52,125.27 196.82,125.27 197.13,125.27 197.43,125.26 197.73,125.26 198.03,125.26 198.33,125.26 198.63,125.26 198.93,125.25 199.24,125.25 199.54,125.25 199.84,125.25 200.14,125.24 200.44,125.24 200.74,125.24 201.04,125.23 201.34,125.23 201.65,125.23 201.95,125.22 202.25,125.22 202.55,125.22 202.85,125.21 203.15,125.21 203.45,125.21 203.76,125.20 204.06,125.20 204.36,125.19 204.66,125.19 204.96,125.19 205.26,125.18 205.56,125.18 205.87,125.17 206.17,125.17 206.47,125.16 206.77,125.16 207.07,125.15 207.37,125.15 207.67,125.14 207.98,125.13 208.28,125.13 208.58,125.12 208.88,125.12 209.18,125.11 209.48,125.10 209.78,125.09 210.09,125.09 210.39,125.08 210.69,125.07 210.99,125.06 211.29,125.05 211.59,125.04 211.89,125.03 212.20,125.02 212.50,125.01 212.80,125.00 213.10,124.99 213.40,124.98 213.70,124.97 214.00,124.95 214.31,124.94 214.61,124.93 214.91,124.91 215.21,124.89 215.51,124.88 215.81,124.86 216.11,124.84 216.42,124.82 216.72,124.80 217.02,124.78 217.32,124.76 217.62,124.74 217.92,124.71 218.22,124.69 218.52,124.66 218.83,124.63 219.13,124.60 219.43,124.57 219.73,124.53 220.03,124.50 220.33,124.46 220.63,124.42 220.94,124.37 221.24,124.32 221.54,124.27 221.84,124.22 222.14,124.16 222.44,124.10 222.74,124.03 223.05,123.95 223.35,123.87 223.65,123.79 223.95,123.69 224.25,123.59 224.55,123.48 224.85,123.35 225.16,123.22 225.46,123.07 225.76,122.91 226.06,122.72 226.36,122.52 226.66,122.30 226.96,122.04 227.27,121.76 227.57,121.44 227.87,121.07 228.17,120.65 228.47,120.17 228.77,119.62 229.07,118.98 229.38,118.22 229.68,117.33 229.98,116.27 230.28,115.00 230.58,113.46 230.88,111.58 231.18,109.26 231.49,106.37 231.79,102.74 232.09,98.14 232.39,92.33 232.69,85.06 232.99,76.20 233.29,66.07 233.59,55.85 233.90,47.82 234.20,44.72 234.50,47.82 234.80,55.85 235.10,66.08 235.40,76.20 235.70,85.06 236.01,92.33 236.31,98.14 236.61,102.74 236.91,106.37 237.21,109.26 237.51,111.58 237.81,113.46 238.12,115.00 238.42,116.27 238.72,117.33 239.02,118.22 239.32,118.98 239.62,119.62 239.92,120.17 240.23,120.65 240.53,121.07 240.83,121.44 241.13,121.76 241.43,122.04 241.73,122.30 242.03,122.52 242.34,122.72 242.64,122.91 242.94,123.07 243.24,123.22 243.54,123.35 243.84,123.48 244.14,123.59 244.45,123.69 244.75,123.79 245.05,123.87 245.35,123.95 245.65,124.03 245.95,124.10 246.25,124.16 246.56,124.22 246.86,124.27 247.16,124.32 247.46,124.37 247.76,124.42 248.06,124.46 248.36,124.50 248.66,124.53 248.97,124.57 249.27,124.60 249.57,124.63 249.87,124.66 250.17,124.69 250.47,124.71 250.77,124.74 251.08,124.76 251.38,124.78 251.68,124.80 251.98,124.82 252.28,124.84 252.58,124.86 252.88,124.88 253.19,124.89 253.49,124.91 253.79,124.93 254.09,124.94 254.39,124.95 254.69,124.97 254.99,124.98 255.30,124.99 255.60,125.00 255.90,125.01 256.20,125.02 256.50,125.03 256.80,125.04 257.10,125.05 257.41,125.06 257.71,125.07 258.01,125.08 258.31,125.09 258.61,125.09 258.91,125.10 259.21,125.11 259.52,125.12 259.82,125.12 260.12,125.13 260.42,125.13 260.72,125.14 261.02,125.15 261.32,125.15 261.63,125.16 261.93,125.16 262.23,125.17 262.53,125.17 262.83,125.18 263.13,125.18 263.43,125.19 263.73,125.19 264.04,125.19 264.34,125.20 264.64,125.20 264.94,125.21 265.24,125.21 265.54,125.21 265.84,125.22 266.15,125.22 266.45,125.22 266.75,125.23 267.05,125.23 267.35,125.23 267.65,125.24 267.95,125.24 268.26,125.24 268.56,125.25 268.86,125.25 269.16,125.25 269.46,125.25 269.76,125.26 270.06,125.26 270.37,125.26 270.67,125.26 270.97,125.26 271.27,125.27 271.57,125.27 271.87,125.27 272.17,125.27 272.48,125.28 272.78,125.28 273.08,125.28 273.38,125.28 273.68,125.28 273.98,125.28 274.28,125.29 274.59,125.29 274.89,125.29 275.19,125.29 275.49,125.29 275.79,125.29 276.09,125.30 276.39,125.30 276.70,125.30 277.00,125.30 277.30,125.30 277.60,125.30 277.90,125.30 278.20,125.31 278.50,125.31 278.80,125.31 279.11,125.31 279.41,125.31 279.71,125.31 280.01,125.31 280.31,125.31 280.61,125.32 280.91,125.32 281.22,125.32 281.52,125.32 281.82,125.32 282.12,125.32 282.42,125.32 282.72,125.32 283.02,125.32 283.33,125.32 283.63,125.33 283.93,125.33 284.23,125.33 284.53,125.33 284.83,125.33 285.13,125.33 285.44,125.33 285.74,125.33 286.04,125.33 286.34,125.33 286.64,125.33 286.94,125.33 287.24,125.33 287.55,125.34 287.85,125.34 288.15,125.34 288.45,125.34 288.75,125.34 289.05,125.34 289.35,125.34 289.66,125.34 289.96,125.34 290.26,125.34 290.56,125.34 290.86,125.34 291.16,125.34 291.46,125.34 291.77,125.34 292.07,125.35 292.37,125.35 292.67,125.35 292.97,125.35 293.27,125.35 293.57,125.35 293.87,125.35 294.18,125.35 294.48,125.35 294.78,125.35 295.08,125.35 295.38,125.35 295.68,125.35 295.98,125.35 296.29,125.35 296.59,125.35 296.89,125.35 297.19,125.35 297.49,125.35 297.79,125.35 298.09,125.36 298.40,125.36 298.70,125.36 299.00,125.36" fill="none" stroke="#3b8fe8" stroke-width="0.9"/>
<polyline points="148.60,125.30 148.90,125.30 149.20,125.30 149.50,125.30 149.81,125.30 150.11,125.30 150.41,125.29 150.71,125.29 151.01,125.29 151.31,125.29 151.61,125.29 151.92,125.29 152.22,125.29 152.52,125.29 152.82,125.29 153.12,125.29 153.42,125.29 153.72,125.29 154.03,125.28 154.33,125.28 154.63,125.28 154.93,125.28 155.23,125.28 155.53,125.28 155.83,125.28 156.13,125.28 156.44,125.28 156.74,125.28 157.04,125.27 157.34,125.27 157.64,125.27 157.94,125.27 158.24,125.27 158.55,125.27 158.85,125.27 159.15,125.27 159.45,125.27 159.75,125.27 160.05,125.26 160.35,125.26 160.66,125.26 160.96,125.26 161.26,125.26 161.56,125.26 161.86,125.26 162.16,125.26 162.46,125.25 162.77,125.25 163.07,125.25 163.37,125.25 163.67,125.25 163.97,125.25 164.27,125.25 164.57,125.25 164.88,125.24 165.18,125.24 165.48,125.24 165.78,125.24 166.08,125.24 166.38,125.24 166.68,125.24 166.99,125.23 167.29,125.23 167.59,125.23 167.89,125.23 168.19,125.23 168.49,125.23 168.79,125.22 169.10,125.22 169.40,125.22 169.70,125.22 170.00,125.22 170.30,125.22 170.60,125.21 170.90,125.21 171.20,125.21 171.51,125.21 171.81,125.21 172.11,125.20 172.41,125.20 172.71,125.20 173.01,125.20 173.31,125.20 173.62,125.19 173.92,125.19 174.22,125.19 174.52,125.19 174.82,125.19 175.12,125.18 175.42,125.18 175.73,125.18 176.03,125.18 176.33,125.17 176.63,125.17 176.93,125.17 177.23,125.17 177.53,125.16 177.84,125.16 178.14,125.16 178.44,125.16 178.74,125.15 179.04,125.15 179.34,125.15 179.64,125.14 179.95,125.14 180.25,125.14 180.55,125.14 180.85,125.13 181.15,125.13 181.45,125.13 181.75,125.12 182.06,125.12 182.36,125.12 182.66,125.11 182.96,125.11 183.26,125.10 183.56,125.10 183.86,125.10 184.17,125.09 184.47,125.09 184.77,125.09 185.07,125.08 185.37,125.08 185.67,125.07 185.97,125.07 186.27,125.07 186.58,125.06 186.88,125.06 187.18,125.05 187.48,125.05 187.78,125.04 188.08,125.04 188.38,125.03 188.69,125.03 188.99,125.02 189.29,125.02 189.59,125.01 189.89,125.01 190.19,125.00 190.49,124.99 190.80,124.99 191.10,124.98 191.40,124.98 191.70,124.97 192.00,124.96 192.30,124.96 192.60,124.95 192.91,124.94 193.21,124.94 193.51,124.93 193.81,124.92 194.11,124.91 194.41,124.91 194.71,124.90 195.02,124.89 195.32,124.88 195.62,124.87 195.92,124.86 196.22,124.86 196.52,124.85 196.82,124.84 197.13,124.83 197.43,124.82 197.73,124.81 198.03,124.80 198.33,124.79 198.63,124.78 198.93,124.76 199.24,124.75 199.54,124.74 199.84,124.73 200.14,124.72 200.44,124.70 200.74,124.69 201.04,124.68 201.34,124.66 201.65,124.65 201.95,124.63 202.25,124.62 202.55,124.60 202.85,124.58 203.15,124.57 203.45,124.55 203.76,124.53 204.06,124.51 204.36,124.49 204.66,124.48 204.96,124.45 205.26,124.43 205.56,124.41 205.87,124.39 206.17,124.37 206.47,124.34 206.77,124.32 207.07,124.29 207.37,124.27 207.67,124.24 207.98,124.21 208.28,124.18 208.58,124.15 208.88,124.12 209.18,124.08 209.48,124.05 209.78,124.01 210.09,123.97 210.39,123.92 210.69,123.86 210.99,123.80 211.29,123.72 211.59,123.61 211.89,123.47 212.20,123.29 212.50,123.05 212.80,122.74 213.10,122.34 213.40,121.85 213.70,121.25 214.00,120.53 214.31,119.73 214.61,118.84 214.91,117.90 215.21,116.97 215.51,116.08 215.81,115.29 216.11,114.65 216.42,114.21 216.72,113.99 217.02,114.00 217.32,114.23 217.62,114.65 217.92,115.22 218.22,115.89 218.52,116.60 218.83,117.30 219.13,117.95 219.43,118.52 219.73,118.98 220.03,119.32 220.33,119.54 220.63,119.65 220.94,119.66 221.24,119.58 221.54,119.43 221.84,119.22 222.14,118.94 222.44,118.63 222.74,118.26 223.05,117.86 223.35,117.41 223.65,116.92 223.95,116.39 224.25,115.80 224.55,115.15 224.85,114.45 225.16,113.67 225.46,112.82 225.76,111.88 226.06,110.84 226.36,109.70 226.66,108.43 226.96,107.03 227.27,105.47 227.57,103.76 227.87,101.86 228.17,99.76 228.47,97.46 228.77,94.95 229.07,92.22 229.38,89.30 229.68,86.21 229.98,83.00 230.28,79.77 230.58,76.63 230.88,73.71 231.18,71.19 231.49,69.24 231.79,67.99 232.09,67.57 232.39,67.99 232.69,69.24 232.99,71.19 233.29,73.71 233.59,76.63 233.90,79.77 234.20,83.00 234.50,86.21 234.80,89.30 235.10,92.22 235.40,94.95 235.70,97.46 236.01,99.76 236.31,101.86 236.61,103.76 236.91,105.47 237.21,107.03 237.51,108.43 237.81,109.70 238.12,110.84 238.42,111.88 238.72,112.82 239.02,113.67 239.32,114.45 239.62,115.15 239.92,115.80 240.23,116.39 240.53,116.93 240.83,117.42 241.13,117.88 241.43,118.30 241.73,118.68 242.03,119.04 242.34,119.37 242.64,119.68 242.94,119.96 243.24,120.22 243.54,120.47 243.84,120.70 244.14,120.91 244.45,121.11 244.75,121.30 245.05,121.48 245.35,121.64 245.65,121.80 245.95,121.94 246.25,122.08 246.56,122.21 246.86,122.33 247.16,122.45 247.46,122.56 247.76,122.66 248.06,122.76 248.36,122.85 248.66,122.94 248.97,123.02 249.27,123.10 249.57,123.18 249.87,123.25 250.17,123.32 250.47,123.38 250.77,123.44 251.08,123.50 251.38,123.56 251.68,123.61 251.98,123.67 252.28,123.72 252.58,123.76 252.88,123.81 253.19,123.85 253.49,123.90 253.79,123.94 254.09,123.98 254.39,124.01 254.69,124.05 254.99,124.08 255.30,124.12 255.60,124.15 255.90,124.18 256.20,124.21 256.50,124.24 256.80,124.27 257.10,124.29 257.41,124.32 257.71,124.34 258.01,124.37 258.31,124.39 258.61,124.41 258.91,124.43 259.21,124.45 259.52,124.48 259.82,124.49 260.12,124.51 260.42,124.53 260.72,124.55 261.02,124.57 261.32,124.58 261.63,124.60 261.93,124.62 262.23,124.63 262.53,124.65 262.83,124.66 263.13,124.68 263.43,124.69 263.73,124.70 264.04,124.72 264.34,124.73 264.64,124.74 264.94,124.75 265.24,124.76 265.54,124.78 265.84,124.79 266.15,124.80 266.45,124.81 266.75,124.82 267.05,124.83 267.35,124.84 267.65,124.85 267.95,124.86 268.26,124.86 268.56,124.87 268.86,124.88 269.16,124.89 269.46,124.90 269.76,124.91 270.06,124.91 270.37,124.92 270.67,124.93 270.97,124.94 271.27,124.94 271.57,124.95 271.87,124.96 272.17,124.96 272.48,124.97 272.78,124.98 273.08,124.98 273.38,124.99 273.68,124.99 273.98,125.00 274.28,125.01 274.59,125.01 274.89,125.02 275.19,125.02 275.49,125.03 275.79,125.03 276.09,125.04 276.39,125.04 276.70,125.05 277.00,125.05 277.30,125.06 277.60,125.06 277.90,125.07 278.20,125.07 278.50,125.07 278.80,125.08 279.11,125.08 279.41,125.09 279.71,125.09 280.01,125.09 280.31,125.10 280.61,125.10 280.91,125.10 281.22,125.11 281.52,125.11 281.82,125.12 282.12,125.12 282.42,125.12 282.72,125.13 283.02,125.13 283.33,125.13 283.63,125.14 283.93,125.14 284.23,125.14 284.53,125.14 284.83,125.15 285.13,125.15 285.44,125.15 285.74,125.16 286.04,125.16 286.34,125.16 286.64,125.16 286.94,125.17 287.24,125.17 287.55,125.17 287.85,125.17 288.15,125.18 288.45,125.18 288.75,125.18 289.05,125.18 289.35,125.19 289.66,125.19 289.96,125.19 290.26,125.19 290.56,125.19 290.86,125.20 291.16,125.20 291.46,125.20 291.77,125.20 292.07,125.20 292.37,125.21 292.67,125.21 292.97,125.21 293.27,125.21 293.57,125.21 293.87,125.22 294.18,125.22 294.48,125.22 294.78,125.22 295.08,125.22 295.38,125.22 295.68,125.23 295.98,125.23 296.29,125.23 296.59,125.23 296.89,125.23 297.19,125.23 297.49,125.24 297.79,125.24 298.09,125.24 298.40,125.24 298.70,125.24 299.00,125.24" fill="none" stroke="#22c455" stroke-width="0.9"/>
<polyline points="159.00,79.17 159.31,79.16 159.61,79.14 159.91,79.12 160.22,79.11 160.52,79.09 160.83,79.07 161.13,79.05 161.44,79.03 161.74,79.01 162.05,78.99 162.35,78.97 162.66,78.95 162.96,78.93 163.27,78.91 163.57,78.88 163.88,78.86 164.18,78.83 164.49,78.81 164.79,78.78 165.10,78.75 165.40,78.72 165.71,78.69 166.01,78.66 166.32,78.63 166.62,78.60 166.93,78.56 167.23,78.53 167.54,78.49 167.84,78.45 168.15,78.41 168.45,78.37 168.76,78.33 169.06,78.28 169.37,78.24 169.67,78.19 169.98,78.14 170.28,78.08 170.59,78.03 170.89,77.97 171.20,77.91 171.50,77.85 171.81,77.78 172.11,77.72 172.42,77.64 172.72,77.57 173.03,77.49 173.33,77.41 173.64,77.32 173.94,77.23 174.25,77.14 174.55,77.04 174.86,76.93 175.16,76.82 175.47,76.70 175.77,76.58 176.08,76.45 176.38,76.31 176.69,76.17 176.99,76.02 177.30,75.85 177.60,75.68 177.91,75.50 178.21,75.30 178.52,75.09 178.82,74.87 179.13,74.63 179.43,74.38 179.74,74.11 180.04,73.82 180.35,73.51 180.65,73.18 180.96,72.82 181.26,72.43 181.57,72.01 181.87,71.56 182.18,71.08 182.48,70.55 182.79,69.98 183.09,69.35 183.40,68.68 183.70,67.94 184.01,67.13 184.31,66.25 184.62,65.28 184.92,64.22 185.23,63.06 185.53,61.78 185.84,60.37 186.14,58.83 186.45,57.14 186.75,55.28 187.06,53.24 187.36,51.02 187.67,48.61 187.97,46.01 188.28,43.22 188.58,40.27 188.89,37.21 189.19,34.08 189.50,30.98 189.80,28.00 190.11,25.28 190.41,22.97 190.72,21.19 191.02,20.06 191.33,19.68 191.63,20.06 191.94,21.19 192.24,22.97 192.55,25.28 192.85,28.00 193.16,30.98 193.46,34.08 193.77,37.21 194.07,40.27 194.38,43.22 194.68,46.01 194.99,48.61 195.29,51.02 195.60,53.24 195.90,55.28 196.21,57.14 196.51,58.83 196.82,60.37 197.12,61.78 197.43,63.06 197.73,64.22 198.04,65.28 198.34,66.25 198.65,67.13 198.95,67.94 199.26,68.68 199.56,69.35 199.87,69.98 200.17,70.55 200.48,71.08 200.78,71.56 201.09,72.01 201.39,72.43 201.70,72.82 202.00,73.18 202.31,73.51 202.61,73.82 202.92,74.11 203.22,74.38 203.53,74.63 203.83,74.87 204.14,75.09 204.44,75.30 204.75,75.50 205.05,75.68 205.36,75.85 205.66,76.02 205.97,76.17 206.27,76.31 206.58,76.45 206.88,76.58 207.19,76.70 207.49,76.82 207.80,76.93 208.10,77.04 208.41,77.14 208.71,77.23 209.02,77.32 209.32,77.41 209.63,77.49 209.93,77.57 210.24,77.64 210.54,77.72 210.85,77.78 211.15,77.85 211.46,77.91 211.76,77.97 212.07,78.03 212.37,78.08 212.68,78.14 212.98,78.19 213.29,78.24 213.59,78.28 213.90,78.33 214.20,78.37 214.51,78.41 214.81,78.45 215.12,78.49 215.42,78.53 215.73,78.56 216.03,78.60 216.34,78.63 216.64,78.66 216.95,78.69 217.25,78.72 217.56,78.75 217.86,78.78 218.17,78.81 218.47,78.83 218.78,78.86 219.08,78.88 219.39,78.91 219.69,78.93 220.00,78.95 220.30,78.97 220.61,78.99 220.91,79.01 221.22,79.03 221.52,79.05 221.83,79.07 222.13,79.09" fill="none" stroke="#777777" stroke-width="0.9"/>
<polyline points="159.00,78.57 159.31,78.55 159.61,78.53 159.91,78.50 160.22,78.48 160.52,78.45 160.83,78.42 161.13,78.39 161.44,78.36 161.74,78.32 162.05,78.29 162.35,78.25 162.66,78.21 162.96,78.17 163.27,78.13 163.57,78.09 163.88,78.04 164.18,78.00 164.49,77.95 164.79,77.90 165.10,77.84 165.40,77.79 165.71,77.73 166.01,77.67 166.32,77.61 166.62,77.55 166.93,77.48 167.23,77.41 167.54,77.34 167.84,77.27 168.15,77.19 168.45,77.11 168.76,77.02 169.06,76.94 169.37,76.84 169.67,76.75 169.98,76.65 170.28,76.54 170.59,76.43 170.89,76.31 171.20,76.19 171.50,76.06 171.81,75.93 172.11,75.79 172.42,75.64 172.72,75.49 173.03,75.32 173.33,75.15 173.64,74.97 173.94,74.77 174.25,74.57 174.55,74.35 174.86,74.13 175.16,73.89 175.47,73.63 175.77,73.36 176.08,73.07 176.38,72.76 176.69,72.44 176.99,72.09 177.30,71.71 177.60,71.32 177.91,70.89 178.21,70.44 178.52,69.95 178.82,69.43 179.13,68.86 179.43,68.26 179.74,67.60 180.04,66.90 180.35,66.14 180.65,65.32 180.96,64.44 181.26,63.48 181.57,62.44 181.87,61.31 182.18,60.08 182.48,58.76 182.79,57.32 183.09,55.76 183.40,54.07 183.70,52.24 184.01,50.27 184.31,48.15 184.62,45.88 184.92,43.46 185.23,40.90 185.53,38.21 185.84,35.43 186.14,32.59 186.45,29.75 186.75,26.96 187.06,24.31 187.36,21.90 187.67,19.81 187.97,18.14 188.28,16.97 188.58,16.38 188.89,16.38 189.19,16.97 189.50,18.14 189.80,19.81 190.11,21.90 190.41,24.31 190.72,26.96 191.02,29.75 191.33,32.59 191.63,35.43 191.94,38.21 192.24,40.90 192.55,43.46 192.85,45.88 193.16,48.15 193.46,50.27 193.77,52.24 194.07,54.07 194.38,55.76 194.68,57.32 194.99,58.76 195.29,60.08 195.60,61.31 195.90,62.44 196.21,63.48 196.51,64.44 196.82,65.32 197.12,66.14 197.43,66.90 197.73,67.60 198.04,68.26 198.34,68.86 198.65,69.43 198.95,69.95 199.26,70.44 199.56,70.89 199.87,71.32 200.17,71.71 200.48,72.09 200.78,72.44 201.09,72.76 201.39,73.07 201.70,73.36 202.00,73.63 202.31,73.89 202.61,74.13 202.92,74.35 203.22,74.57 203.53,74.77 203.83,74.97 204.14,75.15 204.44,75.32 204.75,75.49 205.05,75.64 205.36,75.79 205.66,75.93 205.97,76.06 206.27,76.19 206.58,76.31 206.88,76.43 207.19,76.54 207.49,76.65 207.80,76.75 208.10,76.84 208.41,76.94 208.71,77.02 209.02,77.11 209.32,77.19 209.63,77.27 209.93,77.34 210.24,77.41 210.54,77.48 210.85,77.55 211.15,77.61 211.46,77.68 211.76,77.73 212.07,77.79 212.37,77.85 212.68,77.90 212.98,77.95 213.29,78.00 213.59,78.05 213.90,78.09 214.20,78.14 214.51,78.18 214.81,78.22 215.12,78.26 215.42,78.30 215.73,78.33 216.03,78.37 216.34,78.41 216.64,78.44 216.95,78.47 217.25,78.50 217.56,78.53 217.86,78.56 218.17,78.59 218.47,78.62 218.78,78.65 219.08,78.68 219.39,78.70 219.69,78.73 220.00,78.75 220.30,78.77 220.61,78.80 220.91,78.82 221.22,78.84 221.52,78.86 221.83,78.88 222.13,78.90" fill="none" stroke="#f0609a" stroke-width="0.9"/>
<polyline points="159.00,78.88 159.31,78.86 159.61,78.83 159.91,78.81 160.22,78.79 160.52,78.76 160.83,78.74 161.13,78.72 161.44,78.69 161.74,78.66 162.05,78.64 162.35,78.61 162.66,78.58 162.96,78.55 163.27,78.52 163.57,78.49 163.88,78.45 164.18,78.42 164.49,78.38 164.79,78.35 165.10,78.31 165.40,78.27 165.71,78.23 166.01,78.19 166.32,78.14 166.62,78.10 166.93,78.05 167.23,78.00 167.54,77.96 167.84,77.90 168.15,77.85 168.45,77.79 168.76,77.74 169.06,77.68 169.37,77.61 169.67,77.55 169.98,77.48 170.28,77.41 170.59,77.34 170.89,77.26 171.20,77.18 171.50,77.10 171.81,77.01 172.11,76.92 172.42,76.82 172.72,76.72 173.03,76.62 173.33,76.51 173.64,76.39 173.94,76.27 174.25,76.15 174.55,76.01 174.86,75.87 175.16,75.73 175.47,75.57 175.77,75.41 176.08,75.24 176.38,75.06 176.69,74.86 176.99,74.66 177.30,74.45 177.60,74.22 177.91,73.98 178.21,73.72 178.52,73.45 178.82,73.16 179.13,72.85 179.43,72.52 179.74,72.17 180.04,71.79 180.35,71.39 180.65,70.96 180.96,70.50 181.26,70.01 181.57,69.47 181.87,68.90 182.18,68.28 182.48,67.62 182.79,66.90 183.09,66.12 183.40,65.27 183.70,64.36 184.01,63.37 184.31,62.29 184.62,61.11 184.92,59.84 185.23,58.45 185.53,56.94 185.84,55.30 186.14,53.52 186.45,51.59 186.75,49.50 187.06,47.24 187.36,44.82 187.67,42.23 187.97,39.49 188.28,36.62 188.58,33.64 188.89,30.61 189.19,27.58 189.50,24.65 189.80,21.89 190.11,19.42 190.41,17.36 190.72,15.79 191.02,14.81 191.33,14.48 191.63,14.81 191.94,15.79 192.24,17.36 192.55,19.42 192.85,21.89 193.16,24.65 193.46,27.58 193.77,30.61 194.07,33.64 194.38,36.62 194.68,39.49 194.99,42.23 195.29,44.82 195.60,47.24 195.90,49.50 196.21,51.59 196.51,53.52 196.82,55.30 197.12,56.94 197.43,58.45 197.73,59.84 198.04,61.11 198.34,62.29 198.65,63.37 198.95,64.36 199.26,65.27 199.56,66.12 199.87,66.90 200.17,67.62 200.48,68.28 200.78,68.90 201.09,69.47 201.39,70.01 201.70,70.50 202.00,70.96 202.31,71.39 202.61,71.79 202.92,72.17 203.22,72.52 203.53,72.85 203.83,73.16 204.14,73.45 204.44,73.72 204.75,73.98 205.05,74.22 205.36,74.45 205.66,74.66 205.97,74.86 206.27,75.06 206.58,75.24 206.88,75.41 207.19,75.57 207.49,75.73 207.80,75.87 208.10,76.01 208.41,76.15 208.71,76.27 209.02,76.39 209.32,76.51 209.63,76.62 209.93,76.72 210.24,76.82 210.54,76.92 210.85,77.01 211.15,77.10 211.46,77.18 211.76,77.26 212.07,77.34 212.37,77.41 212.68,77.48 212.98,77.55 213.29,77.61 213.59,77.68 213.90,77.74 214.20,77.79 214.51,77.85 214.81,77.90 215.12,77.96 215.42,78.00 215.73,78.05 216.03,78.10 216.34,78.14 216.64,78.19 216.95,78.23 217.25,78.27 217.56,78.31 217.86,78.35 218.17,78.38 218.47,78.42 218.78,78.45 219.08,78.49 219.39,78.52 219.69,78.55 220.00,78.58 220.30,78.61 220.61,78.64 220.91,78.66 221.22,78.69 221.52,78.72 221.83,78.74 222.13,78.76" fill="none" stroke="#f7963a" stroke-width="0.9"/>
<polyline points="159.00,79.25 159.31,79.24 159.61,79.22 159.91,79.21 160.22,79.19 160.52,79.18 160.83,79.16 161.13,79.15 161.44,79.13 161.74,79.11 162.05,79.10 162.35,79.08 162.66,79.06 162.96,79.04 163.27,79.02 163.57,79.00 163.88,78.98 164.18,78.96 164.49,78.93 164.79,78.91 165.10,78.89 165.40,78.86 165.71,78.84 166.01,78.81 166.32,78.78 166.62,78.76 166.93,78.73 167.23,78.70 167.54,78.67 167.84,78.63 168.15,78.60 168.45,78.56 168.76,78.53 169.06,78.49 169.37,78.45 169.67,78.41 169.98,78.37 170.28,78.33 170.59,78.28 170.89,78.23 171.20,78.18 171.50,78.13 171.81,78.08 172.11,78.02 172.42,77.97 172.72,77.90 173.03,77.84 173.33,77.77 173.64,77.70 173.94,77.63 174.25,77.56 174.55,77.48 174.86,77.39 175.16,77.30 175.47,77.21 175.77,77.11 176.08,77.01 176.38,76.90 176.69,76.79 176.99,76.67 177.30,76.54 177.60,76.41 177.91,76.27 178.21,76.12 178.52,75.96 178.82,75.79 179.13,75.61 179.43,75.42 179.74,75.22 180.04,75.00 180.35,74.77 180.65,74.53 180.96,74.26 181.26,73.98 181.57,73.68 181.87,73.35 182.18,73.00 182.48,72.63 182.79,72.22 183.09,71.78 183.40,71.31 183.70,70.79 184.01,70.24 184.31,69.63 184.62,68.97 184.92,68.25 185.23,67.46 185.53,66.60 185.84,65.66 186.14,64.63 186.45,63.49 186.75,62.25 187.06,60.88 187.36,59.38 187.67,57.73 187.97,55.92 188.28,53.94 188.58,51.77 188.89,49.42 189.19,46.88 189.50,44.17 189.80,41.30 190.11,38.31 190.41,35.27 190.72,32.24 191.02,29.34 191.33,26.70 191.63,24.44 191.94,22.71 192.24,21.61 192.55,21.24 192.85,21.61 193.16,22.71 193.46,24.44 193.77,26.70 194.07,29.34 194.38,32.24 194.68,35.27 194.99,38.31 195.29,41.30 195.60,44.17 195.90,46.88 196.21,49.42 196.51,51.77 196.82,53.94 197.12,55.92 197.43,57.73 197.73,59.38 198.04,60.88 198.34,62.25 198.65,63.49 198.95,64.63 199.26,65.66 199.56,66.60 199.87,67.46 200.17,68.25 200.48,68.97 200.78,69.63 201.09,70.24 201.39,70.79 201.70,71.31 202.00,71.78 202.31,72.22 202.61,72.63 202.92,73.00 203.22,73.35 203.53,73.68 203.83,73.98 204.14,74.26 204.44,74.53 204.75,74.77 205.05,75.00 205.36,75.22 205.66,75.42 205.97,75.61 206.27,75.79 206.58,75.96 206.88,76.12 207.19,76.27 207.49,76.41 207.80,76.54 208.10,76.67 208.41,76.79 208.71,76.90 209.02,77.01 209.32,77.11 209.63,77.21 209.93,77.30 210.24,77.39 210.54,77.48 210.85,77.56 211.15,77.63 211.46,77.70 211.76,77.77 212.07,77.84 212.37,77.90 212.68,77.97 212.98,78.02 213.29,78.08 213.59,78.13 213.90,78.18 214.20,78.23 214.51,78.28 214.81,78.33 215.12,78.37 215.42,78.41 215.73,78.45 216.03,78.49 216.34,78.53 216.64,78.56 216.95,78.60 217.25,78.63 217.56,78.67 217.86,78.70 218.17,78.73 218.47,78.76 218.78,78.78 219.08,78.81 219.39,78.84 219.69,78.86 220.00,78.89 220.30,78.91 220.61,78.93 220.91,78.96 221.22,78.98 221.52,79.00 221.83,79.02 222.13,79.04" fill="none" stroke="#3b8fe8" stroke-width="0.9"/>
<polyline points="159.00,77.58 159.31,77.54 159.61,77.50 159.91,77.45 160.22,77.41 160.52,77.36 160.83,77.32 161.13,77.27 161.44,77.22 161.74,77.17 162.05,77.11 162.35,77.06 162.66,77.00 162.96,76.94 163.27,76.88 163.57,76.82 163.88,76.76 164.18,76.69 164.49,76.62 164.79,76.55 165.10,76.47 165.40,76.39 165.71,76.32 166.01,76.23 166.32,76.15 166.62,76.06 166.93,75.96 167.23,75.87 167.54,75.77 167.84,75.67 168.15,75.56 168.45,75.45 168.76,75.33 169.06,75.21 169.37,75.08 169.67,74.95 169.98,74.81 170.28,74.67 170.59,74.52 170.89,74.36 171.20,74.20 171.50,74.03 171.81,73.85 172.11,73.67 172.42,73.47 172.72,73.27 173.03,73.06 173.33,72.83 173.64,72.60 173.94,72.35 174.25,72.10 174.55,71.83 174.86,71.54 175.16,71.24 175.47,70.93 175.77,70.60 176.08,70.25 176.38,69.88 176.69,69.50 176.99,69.09 177.30,68.66 177.60,68.21 177.91,67.73 178.21,67.23 178.52,66.70 178.82,66.14 179.13,65.55 179.43,64.93 179.74,64.27 180.04,63.58 180.35,62.85 180.65,62.08 180.96,61.27 181.26,60.42 181.57,59.53 181.87,58.60 182.18,57.62 182.48,56.60 182.79,55.55 183.09,54.45 183.40,53.32 183.70,52.16 184.01,50.97 184.31,49.77 184.62,48.56 184.92,47.35 185.23,46.15 185.53,44.99 185.84,43.87 186.14,42.81 186.45,41.83 186.75,40.95 187.06,40.18 187.36,39.54 187.67,39.05 187.97,38.72 188.28,38.55 188.58,38.55 188.89,38.72 189.19,39.05 189.50,39.54 189.80,40.18 190.11,40.95 190.41,41.83 190.72,42.81 191.02,43.87 191.33,44.99 191.63,46.15 191.94,47.35 192.24,48.56 192.55,49.77 192.85,50.97 193.16,52.16 193.46,53.32 193.77,54.45 194.07,55.55 194.38,56.60 194.68,57.62 194.99,58.60 195.29,59.53 195.60,60.42 195.90,61.27 196.21,62.08 196.51,62.85 196.82,63.58 197.12,64.27 197.43,64.93 197.73,65.55 198.04,66.14 198.34,66.70 198.65,67.23 198.95,67.73 199.26,68.21 199.56,68.66 199.87,69.09 200.17,69.50 200.48,69.88 200.78,70.25 201.09,70.60 201.39,70.93 201.70,71.24 202.00,71.54 202.31,71.83 202.61,72.10 202.92,72.35 203.22,72.60 203.53,72.83 203.83,73.06 204.14,73.27 204.44,73.47 204.75,73.67 205.05,73.85 205.36,74.03 205.66,74.20 205.97,74.36 206.27,74.52 206.58,74.67 206.88,74.81 207.19,74.95 207.49,75.08 207.80,75.21 208.10,75.33 208.41,75.45 208.71,75.56 209.02,75.67 209.32,75.77 209.63,75.87 209.93,75.96 210.24,76.06 210.54,76.15 210.85,76.23 211.15,76.32 211.46,76.39 211.76,76.47 212.07,76.55 212.37,76.62 212.68,76.69 212.98,76.76 213.29,76.82 213.59,76.88 213.90,76.94 214.20,77.00 214.51,77.06 214.81,77.11 215.12,77.17 215.42,77.22 215.73,77.27 216.03,77.32 216.34,77.36 216.64,77.41 216.95,77.45 217.25,77.50 217.56,77.54 217.86,77.58 218.17,77.62 218.47,77.66 218.78,77.70 219.08,77.73 219.39,77.77 219.69,77.80 220.00,77.83 220.30,77.87 220.61,77.90 220.91,77.93 221.22,77.96 221.52,77.99 221.83,78.02 222.13,78.04" fill="none" stroke="#22c455" stroke-width="0.9"/>
<line x1="159" y1="17" x2="159" y2="80" stroke="#bdbdbd" stroke-width="1.4"/>
<path d="M158.5,80.00h1M158.5,77.30h1M158.5,74.60h1M158.5,71.90h1M158.5,69.20h1M158.5,66.50h1M158.5,63.80h1M158.5,61.10h1M158.5,58.40h1M158.5,55.70h1M158.5,53.00h1M158.5,50.30h1M158.5,47.60h1M158.5,44.90h1M158.5,42.20h1M158.5,39.50h1M158.5,36.80h1M158.5,34.10h1M158.5,31.40h1M158.5,28.70h1M158.5,26.00h1M158.5,23.30h1M158.5,20.60h1M158.5,17.90h1" stroke="#444" stroke-width="0.9"/>
<line x1="159" y1="80" x2="222" y2="80" stroke="#555" stroke-width="0.8"/>
<line x1="159.00" y1="80" x2="159.00" y2="82" stroke="#333" stroke-width="0.8"/>
<text x="159.00" y="90.5" font-family="Liberation Sans" font-weight="bold" font-size="8.3" text-anchor="middle">12</text>
<line x1="189.50" y1="80" x2="189.50" y2="82" stroke="#333" stroke-width="0.8"/>
<text x="189.50" y="90.5" font-family="Liberation Sans" font-weight="bold" font-size="8.3" text-anchor="middle">14</text>
<line x1="220.00" y1="80" x2="220.00" y2="82" stroke="#333" stroke-width="0.8"/>
<text x="220.00" y="90.5" font-family="Liberation Sans" font-weight="bold" font-size="8.3" text-anchor="middle">16</text>
<rect x="220" y="29.6" width="29.3" height="96.4" fill="none" stroke="#333" stroke-width="0.7" stroke-dasharray="2,1.6"/>
<text x="238.6" y="18.4" font-family="Liberation Sans" font-weight="bold" font-size="8.1" fill="#111">WT</text>
<text x="238.6" y="28.3" font-family="Liberation Sans" font-weight="bold" font-size="8.1" fill="#f0609a">K32A</text>
<text x="238.6" y="38.6" font-family="Liberation Sans" font-weight="bold" font-size="8.1" fill="#f7963a">K32R</text>
<text x="238.6" y="48.1" font-family="Liberation Sans" font-weight="bold" font-size="8.1" fill="#3b8fe8">H37A/H40A</text>
<text x="238.6" y="58.1" font-family="Liberation Sans" font-weight="bold" font-size="8.1" fill="#22c455">K32A/H37A/H40A</text>
<path d="M187.5,4 Q191,9 191.2,14.9 L185,14.9 Z" fill="#f4a3c6"/>
<path d="M195.3,4 Q191.8,9 191.6,14.9 L197.8,14.9 Z" fill="#f4a3c6"/>
<path d="M183.8,1 L188.4,1 Q189.2,1 189.1,2 L188.6,14 Q188.5,14.9 187.5,14.9 L181,14.9 Q179.9,14.9 180.2,13.8 L183,1.8 Q183.2,1 183.8,1 Z" fill="#7399aa"/>
<path d="M183,1.8 L184.2,1 L181.8,14.9 L181,14.9 Q179.9,14.9 180.2,13.8 Z" fill="#94bfe6" opacity="0.9"/>
<path d="M194.3,1 L198.9,1 Q199.5,1 199.7,1.8 L202.6,13.8 Q202.9,14.9 201.8,14.9 L195.3,14.9 Q194.2,14.9 194.2,14 L193.7,2 Q193.6,1 194.3,1 Z" fill="#7399aa"/>
<path d="M199.7,1.8 L198.7,1 L201,14.9 L201.8,14.9 Q202.9,14.9 202.6,13.8 Z" fill="#94bfe6" opacity="0.9"/>
<circle cx="191.4" cy="15.3" r="0.7" fill="#f7963a"/>
<text x="310.8" y="14.7" font-family="Liberation Sans" font-weight="bold" font-size="16">c</text>
<rect x="372.4" y="10.6" width="13" height="8.3" fill="#4a4a4a" stroke="#222" stroke-width="0.6"/>
<text x="386.2" y="17.9" font-family="Liberation Sans" font-weight="bold" font-size="8.9">WildType</text>
<rect x="427.8" y="10.6" width="12.7" height="8.3" fill="#3d8ff0" stroke="#333" stroke-width="0.6"/>
<text x="441" y="17.9" font-family="Liberation Sans" font-weight="bold" font-size="8.9">H37A/H40A</text>
<g><ellipse cx="336.4" cy="83.2" rx="4.5" ry="4" transform="rotate(0 336.4 83.2)" fill="#4597f1"/><ellipse cx="340" cy="79.5" rx="3" ry="3" transform="rotate(0 340 79.5)" fill="#4597f1"/><ellipse cx="342" cy="69.5" rx="3.5" ry="3" transform="rotate(0 342 69.5)" fill="#4597f1"/><ellipse cx="346.5" cy="71.5" rx="3" ry="2.5" transform="rotate(0 346.5 71.5)" fill="#4597f1"/><ellipse cx="339" cy="73" rx="2.5" ry="2.5" transform="rotate(0 339 73)" fill="#4597f1"/><ellipse cx="351.9" cy="76.3" rx="4" ry="3.8" transform="rotate(0 351.9 76.3)" fill="#4597f1"/><ellipse cx="345" cy="83.5" rx="4" ry="3.5" transform="rotate(0 345 83.5)" fill="#4597f1"/><ellipse cx="349" cy="88" rx="5" ry="4" transform="rotate(0 349 88)" fill="#4597f1"/><ellipse cx="355" cy="84" rx="5" ry="5" transform="rotate(0 355 84)" fill="#4597f1"/><ellipse cx="360" cy="80" rx="5" ry="4" transform="rotate(0 360 80)" fill="#4597f1"/><ellipse cx="352" cy="95" rx="4.5" ry="4.5" transform="rotate(0 352 95)" fill="#4597f1"/><ellipse cx="345.5" cy="90" rx="3" ry="3" transform="rotate(0 345.5 90)" fill="#4597f1"/><ellipse cx="357" cy="89" rx="4" ry="4" transform="rotate(0 357 89)" fill="#4597f1"/><ellipse cx="344.4" cy="102.3" rx="4" ry="2.5" transform="rotate(-20 344.4 102.3)" fill="#4597f1"/><ellipse cx="356.5" cy="102.3" rx="3.5" ry="3.5" transform="rotate(0 356.5 102.3)" fill="#4597f1"/><ellipse cx="365.7" cy="68.8" rx="4.5" ry="4" transform="rotate(0 365.7 68.8)" fill="#4597f1"/><ellipse cx="365" cy="78" rx="5" ry="5" transform="rotate(0 365 78)" fill="#4597f1"/><ellipse cx="368" cy="88" rx="5" ry="5" transform="rotate(0 368 88)" fill="#4597f1"/><ellipse cx="366.3" cy="97.1" rx="1.5" ry="1.5" transform="rotate(0 366.3 97.1)" fill="#4597f1"/><ellipse cx="373.2" cy="100.5" rx="4" ry="3.5" transform="rotate(0 373.2 100.5)" fill="#4597f1"/><ellipse cx="372" cy="92" rx="4" ry="4" transform="rotate(0 372 92)" fill="#4597f1"/><ellipse cx="375" cy="75" rx="5" ry="6" transform="rotate(0 375 75)" fill="#4597f1"/><ellipse cx="378" cy="85" rx="5" ry="6" transform="rotate(0 378 85)" fill="#4597f1"/><ellipse cx="381" cy="93" rx="4" ry="4" transform="rotate(0 381 93)" fill="#4597f1"/><ellipse cx="370" cy="72" rx="3" ry="3" transform="rotate(0 370 72)" fill="#4597f1"/><ellipse cx="388" cy="66.3" rx="4" ry="3.3" transform="rotate(0 388 66.3)" fill="#4597f1"/><ellipse cx="385" cy="78" rx="6" ry="6" transform="rotate(0 385 78)" fill="#4597f1"/><ellipse cx="386" cy="89" rx="6" ry="6" transform="rotate(0 386 89)" fill="#4597f1"/><ellipse cx="392" cy="95" rx="5" ry="5" transform="rotate(0 392 95)" fill="#4597f1"/><ellipse cx="395" cy="80" rx="6" ry="7" transform="rotate(0 395 80)" fill="#4597f1"/><ellipse cx="400" cy="90" rx="5" ry="6" transform="rotate(0 400 90)" fill="#4597f1"/><ellipse cx="397" cy="99.5" rx="4" ry="3" transform="rotate(0 397 99.5)" fill="#4597f1"/><ellipse cx="391" cy="72" rx="3" ry="3" transform="rotate(0 391 72)" fill="#4597f1"/><ellipse cx="400.3" cy="57.4" rx="4.5" ry="4" transform="rotate(0 400.3 57.4)" fill="#4597f1"/><ellipse cx="384.5" cy="56.6" rx="3.5" ry="3" transform="rotate(-30 384.5 56.6)" fill="#4597f1"/><ellipse cx="374.7" cy="46.1" rx="3" ry="3.5" transform="rotate(0 374.7 46.1)" fill="#4597f1"/><ellipse cx="404" cy="71" rx="4" ry="4" transform="rotate(0 404 71)" fill="#4597f1"/><ellipse cx="410" cy="69" rx="5" ry="5" transform="rotate(0 410 69)" fill="#4597f1"/><ellipse cx="407.5" cy="64" rx="3" ry="3" transform="rotate(0 407.5 64)" fill="#4597f1"/><ellipse cx="412" cy="63.5" rx="3" ry="3" transform="rotate(0 412 63.5)" fill="#4597f1"/><ellipse cx="424" cy="61.9" rx="4" ry="3.5" transform="rotate(0 424 61.9)" fill="#4597f1"/><ellipse cx="403" cy="80" rx="3" ry="4" transform="rotate(0 403 80)" fill="#4597f1"/><ellipse cx="413" cy="88" rx="5" ry="7" transform="rotate(0 413 88)" fill="#4597f1"/><ellipse cx="418" cy="85" rx="5" ry="7" transform="rotate(0 418 85)" fill="#4597f1"/><ellipse cx="422" cy="92" rx="5" ry="6" transform="rotate(0 422 92)" fill="#4597f1"/><ellipse cx="425.5" cy="87" rx="4" ry="6" transform="rotate(0 425.5 87)" fill="#4597f1"/><ellipse cx="415" cy="96" rx="4" ry="4" transform="rotate(0 415 96)" fill="#4597f1"/><ellipse cx="420" cy="97" rx="4" ry="3.5" transform="rotate(0 420 97)" fill="#4597f1"/><ellipse cx="410" cy="95" rx="3" ry="4" transform="rotate(0 410 95)" fill="#4597f1"/><ellipse cx="416" cy="76" rx="3" ry="3" transform="rotate(0 416 76)" fill="#4597f1"/><ellipse cx="421" cy="80" rx="3" ry="3" transform="rotate(0 421 80)" fill="#4597f1"/><ellipse cx="366.3" cy="82" rx="3" ry="3" transform="rotate(0 366.3 82)" fill="#4597f1"/><ellipse cx="360" cy="94" rx="3" ry="3" transform="rotate(0 360 94)" fill="#4597f1"/><ellipse cx="386" cy="100.5" rx="3" ry="2" transform="rotate(0 386 100.5)" fill="#4597f1"/><ellipse cx="392" cy="84" rx="4" ry="4" transform="rotate(0 392 84)" fill="#4597f1"/><ellipse cx="450" cy="44" rx="3.5" ry="3.5" transform="rotate(0 450 44)" fill="#4597f1"/><ellipse cx="455" cy="41" rx="4" ry="5" transform="rotate(0 455 41)" fill="#4597f1"/><ellipse cx="459.5" cy="44" rx="5" ry="5" transform="rotate(0 459.5 44)" fill="#4597f1"/><ellipse cx="464" cy="45.5" rx="4.5" ry="3.5" transform="rotate(0 464 45.5)" fill="#4597f1"/><ellipse cx="457" cy="36.5" rx="3" ry="3" transform="rotate(0 457 36.5)" fill="#4597f1"/><ellipse cx="459" cy="50" rx="3" ry="2.5" transform="rotate(0 459 50)" fill="#4597f1"/><ellipse cx="453" cy="47" rx="3" ry="3" transform="rotate(0 453 47)" fill="#4597f1"/><ellipse cx="472.7" cy="45.7" rx="2" ry="2" transform="rotate(0 472.7 45.7)" fill="#4597f1"/><ellipse cx="468.8" cy="61.2" rx="2.2" ry="2.2" transform="rotate(0 468.8 61.2)" fill="#4597f1"/><ellipse cx="447.5" cy="64.5" rx="2.5" ry="4" transform="rotate(0 447.5 64.5)" fill="#4597f1"/><ellipse cx="438.5" cy="101.2" rx="2.5" ry="2.5" transform="rotate(0 438.5 101.2)" fill="#4597f1"/><ellipse cx="437.8" cy="121.3" rx="2.5" ry="2.5" transform="rotate(0 437.8 121.3)" fill="#4597f1"/><ellipse cx="396.6" cy="129.6" rx="3.5" ry="5" transform="rotate(35 396.6 129.6)" fill="#4597f1"/><ellipse cx="352.6" cy="130.4" rx="1.4" ry="2.3" transform="rotate(35 352.6 130.4)" fill="#4597f1"/><ellipse cx="414.8" cy="125.8" rx="0.8" ry="1.5" transform="rotate(20 414.8 125.8)" fill="#4597f1"/><ellipse cx="398.9" cy="136" rx="1.5" ry="1" transform="rotate(0 398.9 136)" fill="#4597f1"/><ellipse cx="401.7" cy="22" rx="1.2" ry="1.2" transform="rotate(0 401.7 22)" fill="#4597f1"/><ellipse cx="398.1" cy="25.5" rx="1.2" ry="1.6" transform="rotate(0 398.1 25.5)" fill="#4597f1"/><ellipse cx="400.3" cy="29.5" rx="1.2" ry="1.5" transform="rotate(0 400.3 29.5)" fill="#4597f1"/><ellipse cx="397.4" cy="32.5" rx="1" ry="1.2" transform="rotate(0 397.4 32.5)" fill="#4597f1"/><ellipse cx="399.6" cy="38.7" rx="1.2" ry="2" transform="rotate(0 399.6 38.7)" fill="#4597f1"/><ellipse cx="399.6" cy="44" rx="2.2" ry="3" transform="rotate(0 399.6 44)" fill="#4597f1"/><ellipse cx="382.3" cy="46.6" rx="1" ry="1" transform="rotate(0 382.3 46.6)" fill="#4597f1"/><ellipse cx="355" cy="50.9" rx="1" ry="1" transform="rotate(0 355 50.9)" fill="#4597f1"/><ellipse cx="350" cy="60.5" rx="1.2" ry="1.2" transform="rotate(0 350 60.5)" fill="#4597f1"/><ellipse cx="353" cy="59.5" rx="1" ry="1" transform="rotate(0 353 59.5)" fill="#4597f1"/><ellipse cx="450.3" cy="130.2" rx="0.8" ry="0.8" transform="rotate(0 450.3 130.2)" fill="#4597f1"/><ellipse cx="384" cy="115" rx="1" ry="1" transform="rotate(0 384 115)" fill="#4597f1"/></g>
<g><ellipse cx="336.7" cy="83.4" rx="2.48" ry="2.20" transform="rotate(0 336.4 83.2)" fill="none" stroke="#2b6fc4" stroke-width="0.45"/><ellipse cx="340.3" cy="79.7" rx="1.65" ry="1.65" transform="rotate(0 340 79.5)" fill="none" stroke="#2b6fc4" stroke-width="0.45"/><ellipse cx="342.3" cy="69.7" rx="1.93" ry="1.65" transform="rotate(0 342 69.5)" fill="none" stroke="#2b6fc4" stroke-width="0.45"/><ellipse cx="346.8" cy="71.7" rx="1.65" ry="1.38" transform="rotate(0 346.5 71.5)" fill="none" stroke="#2b6fc4" stroke-width="0.45"/><ellipse cx="339.3" cy="73.2" rx="1.38" ry="1.38" transform="rotate(0 339 73)" fill="none" stroke="#2b6fc4" stroke-width="0.45"/><ellipse cx="352.2" cy="76.5" rx="2.20" ry="2.09" transform="rotate(0 351.9 76.3)" fill="none" stroke="#2b6fc4" stroke-width="0.45"/><ellipse cx="345.3" cy="83.7" rx="2.20" ry="1.93" transform="rotate(0 345 83.5)" fill="none" stroke="#2b6fc4" stroke-width="0.45"/><ellipse cx="349.3" cy="88.2" rx="2.75" ry="2.20" transform="rotate(0 349 88)" fill="none" stroke="#2b6fc4" stroke-width="0.45"/><ellipse cx="355.3" cy="84.2" rx="2.75" ry="2.75" transform="rotate(0 355 84)" fill="none" stroke="#2b6fc4" stroke-width="0.45"/><ellipse cx="360.3" cy="80.2" rx="2.75" ry="2.20" transform="rotate(0 360 80)" fill="none" stroke="#2b6fc4" stroke-width="0.45"/><ellipse cx="352.3" cy="95.2" rx="2.48" ry="2.48" transform="rotate(0 352 95)" fill="none" stroke="#2b6fc4" stroke-width="0.45"/><ellipse cx="345.8" cy="90.2" rx="1.65" ry="1.65" transform="rotate(0 345.5 90)" fill="none" stroke="#2b6fc4" stroke-width="0.45"/><ellipse cx="357.3" cy="89.2" rx="2.20" ry="2.20" transform="rotate(0 357 89)" fill="none" stroke="#2b6fc4" stroke-width="0.45"/><ellipse cx="344.7" cy="102.5" rx="2.20" ry="1.38" transform="rotate(-20 344.4 102.3)" fill="none" stroke="#2b6fc4" stroke-width="0.45"/><ellipse cx="356.8" cy="102.5" rx="1.93" ry="1.93" transform="rotate(0 356.5 102.3)" fill="none" stroke="#2b6fc4" stroke-width="0.45"/><ellipse cx="366.0" cy="69.0" rx="2.48" ry="2.20" transform="rotate(0 365.7 68.8)" fill="none" stroke="#2b6fc4" stroke-width="0.45"/><ellipse cx="365.3" cy="78.2" rx="2.75" ry="2.75" transform="rotate(0 365 78)" fill="none" stroke="#2b6fc4" stroke-width="0.45"/><ellipse cx="368.3" cy="88.2" rx="2.75" ry="2.75" transform="rotate(0 368 88)" fill="none" stroke="#2b6fc4" stroke-width="0.45"/><ellipse cx="373.5" cy="100.7" rx="2.20" ry="1.93" transform="rotate(0 373.2 100.5)" fill="none" stroke="#2b6fc4" stroke-width="0.45"/><ellipse cx="372.3" cy="92.2" rx="2.20" ry="2.20" transform="rotate(0 372 92)" fill="none" stroke="#2b6fc4" stroke-width="0.45"/><ellipse cx="375.3" cy="75.2" rx="2.75" ry="3.30" transform="rotate(0 375 75)" fill="none" stroke="#2b6fc4" stroke-width="0.45"/><ellipse cx="378.3" cy="85.2" rx="2.75" ry="3.30" transform="rotate(0 378 85)" fill="none" stroke="#2b6fc4" stroke-width="0.45"/><ellipse cx="381.3" cy="93.2" rx="2.20" ry="2.20" transform="rotate(0 381 93)" fill="none" stroke="#2b6fc4" stroke-width="0.45"/><ellipse cx="370.3" cy="72.2" rx="1.65" ry="1.65" transform="rotate(0 370 72)" fill="none" stroke="#2b6fc4" stroke-width="0.45"/><ellipse cx="388.3" cy="66.5" rx="2.20" ry="1.81" transform="rotate(0 388 66.3)" fill="none" stroke="#2b6fc4" stroke-width="0.45"/><ellipse cx="385.3" cy="78.2" rx="3.30" ry="3.30" transform="rotate(0 385 78)" fill="none" stroke="#2b6fc4" stroke-width="0.45"/><ellipse cx="386.3" cy="89.2" rx="3.30" ry="3.30" transform="rotate(0 386 89)" fill="none" stroke="#2b6fc4" stroke-width="0.45"/><ellipse cx="392.3" cy="95.2" rx="2.75" ry="2.75" transform="rotate(0 392 95)" fill="none" stroke="#2b6fc4" stroke-width="0.45"/><ellipse cx="395.3" cy="80.2" rx="3.30" ry="3.85" transform="rotate(0 395 80)" fill="none" stroke="#2b6fc4" stroke-width="0.45"/><ellipse cx="400.3" cy="90.2" rx="2.75" ry="3.30" transform="rotate(0 400 90)" fill="none" stroke="#2b6fc4" stroke-width="0.45"/><ellipse cx="397.3" cy="99.7" rx="2.20" ry="1.65" transform="rotate(0 397 99.5)" fill="none" stroke="#2b6fc4" stroke-width="0.45"/><ellipse cx="391.3" cy="72.2" rx="1.65" ry="1.65" transform="rotate(0 391 72)" fill="none" stroke="#2b6fc4" stroke-width="0.45"/><ellipse cx="400.6" cy="57.6" rx="2.48" ry="2.20" transform="rotate(0 400.3 57.4)" fill="none" stroke="#2b6fc4" stroke-width="0.45"/><ellipse cx="384.8" cy="56.800000000000004" rx="1.93" ry="1.65" transform="rotate(-30 384.5 56.6)" fill="none" stroke="#2b6fc4" stroke-width="0.45"/><ellipse cx="375.0" cy="46.300000000000004" rx="1.65" ry="1.93" transform="rotate(0 374.7 46.1)" fill="none" stroke="#2b6fc4" stroke-width="0.45"/><ellipse cx="404.3" cy="71.2" rx="2.20" ry="2.20" transform="rotate(0 404 71)" fill="none" stroke="#2b6fc4" stroke-width="0.45"/><ellipse cx="410.3" cy="69.2" rx="2.75" ry="2.75" transform="rotate(0 410 69)" fill="none" stroke="#2b6fc4" stroke-width="0.45"/><ellipse cx="407.8" cy="64.2" rx="1.65" ry="1.65" transform="rotate(0 407.5 64)" fill="none" stroke="#2b6fc4" stroke-width="0.45"/><ellipse cx="412.3" cy="63.7" rx="1.65" ry="1.65" transform="rotate(0 412 63.5)" fill="none" stroke="#2b6fc4" stroke-width="0.45"/><ellipse cx="424.3" cy="62.1" rx="2.20" ry="1.93" transform="rotate(0 424 61.9)" fill="none" stroke="#2b6fc4" stroke-width="0.45"/><ellipse cx="403.3" cy="80.2" rx="1.65" ry="2.20" transform="rotate(0 403 80)" fill="none" stroke="#2b6fc4" stroke-width="0.45"/><ellipse cx="413.3" cy="88.2" rx="2.75" ry="3.85" transform="rotate(0 413 88)" fill="none" stroke="#2b6fc4" stroke-width="0.45"/><ellipse cx="418.3" cy="85.2" rx="2.75" ry="3.85" transform="rotate(0 418 85)" fill="none" stroke="#2b6fc4" stroke-width="0.45"/><ellipse cx="422.3" cy="92.2" rx="2.75" ry="3.30" transform="rotate(0 422 92)" fill="none" stroke="#2b6fc4" stroke-width="0.45"/><ellipse cx="425.8" cy="87.2" rx="2.20" ry="3.30" transform="rotate(0 425.5 87)" fill="none" stroke="#2b6fc4" stroke-width="0.45"/><ellipse cx="415.3" cy="96.2" rx="2.20" ry="2.20" transform="rotate(0 415 96)" fill="none" stroke="#2b6fc4" stroke-width="0.45"/><ellipse cx="420.3" cy="97.2" rx="2.20" ry="1.93" transform="rotate(0 420 97)" fill="none" stroke="#2b6fc4" stroke-width="0.45"/><ellipse cx="410.3" cy="95.2" rx="1.65" ry="2.20" transform="rotate(0 410 95)" fill="none" stroke="#2b6fc4" stroke-width="0.45"/><ellipse cx="416.3" cy="76.2" rx="1.65" ry="1.65" transform="rotate(0 416 76)" fill="none" stroke="#2b6fc4" stroke-width="0.45"/><ellipse cx="421.3" cy="80.2" rx="1.65" ry="1.65" transform="rotate(0 421 80)" fill="none" stroke="#2b6fc4" stroke-width="0.45"/><ellipse cx="366.6" cy="82.2" rx="1.65" ry="1.65" transform="rotate(0 366.3 82)" fill="none" stroke="#2b6fc4" stroke-width="0.45"/><ellipse cx="360.3" cy="94.2" rx="1.65" ry="1.65" transform="rotate(0 360 94)" fill="none" stroke="#2b6fc4" stroke-width="0.45"/><ellipse cx="386.3" cy="100.7" rx="1.65" ry="1.10" transform="rotate(0 386 100.5)" fill="none" stroke="#2b6fc4" stroke-width="0.45"/><ellipse cx="392.3" cy="84.2" rx="2.20" ry="2.20" transform="rotate(0 392 84)" fill="none" stroke="#2b6fc4" stroke-width="0.45"/><ellipse cx="450.3" cy="44.2" rx="1.93" ry="1.93" transform="rotate(0 450 44)" fill="none" stroke="#2b6fc4" stroke-width="0.45"/><ellipse cx="455.3" cy="41.2" rx="2.20" ry="2.75" transform="rotate(0 455 41)" fill="none" stroke="#2b6fc4" stroke-width="0.45"/><ellipse cx="459.8" cy="44.2" rx="2.75" ry="2.75" transform="rotate(0 459.5 44)" fill="none" stroke="#2b6fc4" stroke-width="0.45"/><ellipse cx="464.3" cy="45.7" rx="2.48" ry="1.93" transform="rotate(0 464 45.5)" fill="none" stroke="#2b6fc4" stroke-width="0.45"/><ellipse cx="457.3" cy="36.7" rx="1.65" ry="1.65" transform="rotate(0 457 36.5)" fill="none" stroke="#2b6fc4" stroke-width="0.45"/><ellipse cx="459.3" cy="50.2" rx="1.65" ry="1.38" transform="rotate(0 459 50)" fill="none" stroke="#2b6fc4" stroke-width="0.45"/><ellipse cx="453.3" cy="47.2" rx="1.65" ry="1.65" transform="rotate(0 453 47)" fill="none" stroke="#2b6fc4" stroke-width="0.45"/><ellipse cx="447.8" cy="64.7" rx="1.38" ry="2.20" transform="rotate(0 447.5 64.5)" fill="none" stroke="#2b6fc4" stroke-width="0.45"/><ellipse cx="438.8" cy="101.4" rx="1.38" ry="1.38" transform="rotate(0 438.5 101.2)" fill="none" stroke="#2b6fc4" stroke-width="0.45"/><ellipse cx="438.1" cy="121.5" rx="1.38" ry="1.38" transform="rotate(0 437.8 121.3)" fill="none" stroke="#2b6fc4" stroke-width="0.45"/><ellipse cx="396.90000000000003" cy="129.79999999999998" rx="1.93" ry="2.75" transform="rotate(35 396.6 129.6)" fill="none" stroke="#2b6fc4" stroke-width="0.45"/></g>
<g fill="#cfe6ff" opacity="0.85"><ellipse cx="393.8" cy="93.7" rx="1.0" ry="0.8" transform="rotate(29 393.8 93.7)"/><ellipse cx="422.5" cy="65.2" rx="0.7" ry="0.8" transform="rotate(18 422.5 65.2)"/><ellipse cx="420.5" cy="68.5" rx="0.7" ry="0.4" transform="rotate(5 420.5 68.5)"/><ellipse cx="389.1" cy="64.5" rx="0.6" ry="0.4" transform="rotate(50 389.1 64.5)"/><ellipse cx="407.5" cy="70.4" rx="1.0" ry="0.4" transform="rotate(14 407.5 70.4)"/><ellipse cx="346.2" cy="64.1" rx="1.0" ry="0.4" transform="rotate(-34 346.2 64.1)"/><ellipse cx="428.3" cy="98.9" rx="0.6" ry="0.8" transform="rotate(5 428.3 98.9)"/><ellipse cx="399.1" cy="72.2" rx="1.1" ry="0.6" transform="rotate(56 399.1 72.2)"/><ellipse cx="419.8" cy="76.0" rx="0.7" ry="0.4" transform="rotate(-43 419.8 76.0)"/><ellipse cx="340.3" cy="76.1" rx="0.8" ry="0.3" transform="rotate(21 340.3 76.1)"/><ellipse cx="366.4" cy="76.4" rx="1.0" ry="0.5" transform="rotate(-22 366.4 76.4)"/><ellipse cx="380.2" cy="92.2" rx="0.4" ry="0.8" transform="rotate(-57 380.2 92.2)"/><ellipse cx="406.0" cy="97.8" rx="0.4" ry="0.7" transform="rotate(-16 406.0 97.8)"/><ellipse cx="389.5" cy="64.4" rx="0.4" ry="0.4" transform="rotate(55 389.5 64.4)"/><ellipse cx="352.9" cy="94.2" rx="1.1" ry="0.8" transform="rotate(-19 352.9 94.2)"/><ellipse cx="368.1" cy="85.0" rx="0.9" ry="0.4" transform="rotate(30 368.1 85.0)"/><ellipse cx="410.5" cy="98.4" rx="0.4" ry="0.8" transform="rotate(-49 410.5 98.4)"/><ellipse cx="366.7" cy="88.4" rx="1.0" ry="0.5" transform="rotate(51 366.7 88.4)"/><ellipse cx="386.3" cy="76.5" rx="0.6" ry="0.4" transform="rotate(-51 386.3 76.5)"/><ellipse cx="348.3" cy="91.6" rx="1.1" ry="0.4" transform="rotate(-54 348.3 91.6)"/><ellipse cx="428.7" cy="85.3" rx="0.7" ry="0.4" transform="rotate(11 428.7 85.3)"/><ellipse cx="413.3" cy="82.2" rx="0.7" ry="0.3" transform="rotate(50 413.3 82.2)"/><ellipse cx="337.1" cy="83.7" rx="1.0" ry="0.4" transform="rotate(28 337.1 83.7)"/><ellipse cx="425.2" cy="89.2" rx="1.0" ry="0.4" transform="rotate(-8 425.2 89.2)"/><ellipse cx="348.3" cy="97.8" rx="0.6" ry="0.5" transform="rotate(60 348.3 97.8)"/><ellipse cx="415.8" cy="103.0" rx="0.7" ry="0.5" transform="rotate(28 415.8 103.0)"/><ellipse cx="380.0" cy="75.6" rx="0.7" ry="0.4" transform="rotate(-15 380.0 75.6)"/><ellipse cx="428.9" cy="102.4" rx="0.8" ry="0.5" transform="rotate(-19 428.9 102.4)"/><ellipse cx="342.6" cy="74.9" rx="0.9" ry="0.7" transform="rotate(-17 342.6 74.9)"/><ellipse cx="409.5" cy="95.0" rx="0.9" ry="0.6" transform="rotate(31 409.5 95.0)"/><ellipse cx="368.9" cy="92.2" rx="0.6" ry="0.5" transform="rotate(32 368.9 92.2)"/><ellipse cx="400.3" cy="75.8" rx="1.1" ry="0.6" transform="rotate(10 400.3 75.8)"/><ellipse cx="335.1" cy="85.9" rx="0.6" ry="0.6" transform="rotate(-4 335.1 85.9)"/><ellipse cx="412.4" cy="89.9" rx="1.0" ry="0.5" transform="rotate(17 412.4 89.9)"/><ellipse cx="404.8" cy="97.1" rx="0.6" ry="0.7" transform="rotate(44 404.8 97.1)"/><ellipse cx="400.1" cy="103.0" rx="1.1" ry="0.6" transform="rotate(4 400.1 103.0)"/><ellipse cx="350.0" cy="97.5" rx="1.1" ry="0.5" transform="rotate(23 350.0 97.5)"/><ellipse cx="403.1" cy="93.2" rx="0.5" ry="0.7" transform="rotate(10 403.1 93.2)"/><ellipse cx="397.9" cy="80.8" rx="0.8" ry="0.7" transform="rotate(16 397.9 80.8)"/><ellipse cx="403.2" cy="65.1" rx="0.5" ry="0.5" transform="rotate(18 403.2 65.1)"/><ellipse cx="355.0" cy="91.4" rx="0.8" ry="0.3" transform="rotate(-3 355.0 91.4)"/><ellipse cx="355.7" cy="66.2" rx="0.5" ry="0.5" transform="rotate(-38 355.7 66.2)"/><ellipse cx="352.6" cy="65.4" rx="0.7" ry="0.5" transform="rotate(13 352.6 65.4)"/><ellipse cx="390.7" cy="73.5" rx="1.0" ry="0.3" transform="rotate(-11 390.7 73.5)"/><ellipse cx="360.7" cy="80.4" rx="0.5" ry="0.7" transform="rotate(-15 360.7 80.4)"/><ellipse cx="337.5" cy="88.5" rx="0.5" ry="0.6" transform="rotate(-19 337.5 88.5)"/><ellipse cx="389.8" cy="102.3" rx="1.0" ry="0.5" transform="rotate(38 389.8 102.3)"/><ellipse cx="395.7" cy="78.8" rx="0.5" ry="0.6" transform="rotate(8 395.7 78.8)"/><ellipse cx="425.9" cy="102.7" rx="0.8" ry="0.5" transform="rotate(47 425.9 102.7)"/><ellipse cx="334.1" cy="68.3" rx="0.8" ry="0.6" transform="rotate(-43 334.1 68.3)"/><ellipse cx="394.4" cy="99.7" rx="0.7" ry="0.5" transform="rotate(-33 394.4 99.7)"/><ellipse cx="362.0" cy="102.9" rx="0.7" ry="0.8" transform="rotate(50 362.0 102.9)"/><ellipse cx="391.2" cy="74.4" rx="1.1" ry="0.5" transform="rotate(-10 391.2 74.4)"/><ellipse cx="364.6" cy="103.4" rx="0.7" ry="0.4" transform="rotate(-3 364.6 103.4)"/><ellipse cx="345.7" cy="88.9" rx="0.7" ry="0.4" transform="rotate(34 345.7 88.9)"/><ellipse cx="413.4" cy="64.5" rx="0.8" ry="0.4" transform="rotate(52 413.4 64.5)"/><ellipse cx="409.1" cy="73.8" rx="0.6" ry="0.4" transform="rotate(59 409.1 73.8)"/><ellipse cx="362.1" cy="88.3" rx="0.7" ry="0.6" transform="rotate(12 362.1 88.3)"/><ellipse cx="405.4" cy="68.7" rx="0.9" ry="0.5" transform="rotate(4 405.4 68.7)"/><ellipse cx="366.3" cy="75.9" rx="0.8" ry="0.5" transform="rotate(-17 366.3 75.9)"/><ellipse cx="405.5" cy="87.6" rx="0.4" ry="0.4" transform="rotate(-5 405.5 87.6)"/><ellipse cx="422.0" cy="99.5" rx="0.8" ry="0.3" transform="rotate(33 422.0 99.5)"/><ellipse cx="375.1" cy="87.0" rx="0.9" ry="0.6" transform="rotate(-2 375.1 87.0)"/><ellipse cx="421.5" cy="79.4" rx="0.7" ry="0.7" transform="rotate(-36 421.5 79.4)"/><ellipse cx="362.5" cy="97.2" rx="0.4" ry="0.7" transform="rotate(23 362.5 97.2)"/><ellipse cx="375.6" cy="75.5" rx="0.9" ry="0.8" transform="rotate(-43 375.6 75.5)"/><ellipse cx="379.9" cy="86.0" rx="0.7" ry="0.5" transform="rotate(-42 379.9 86.0)"/><ellipse cx="390.2" cy="96.5" rx="0.4" ry="0.4" transform="rotate(38 390.2 96.5)"/><ellipse cx="410.0" cy="90.5" rx="0.4" ry="0.7" transform="rotate(57 410.0 90.5)"/><ellipse cx="429.8" cy="92.0" rx="0.4" ry="0.7" transform="rotate(-34 429.8 92.0)"/><ellipse cx="396.0" cy="102.1" rx="0.9" ry="0.4" transform="rotate(-25 396.0 102.1)"/><ellipse cx="422.1" cy="70.0" rx="0.8" ry="0.5" transform="rotate(-41 422.1 70.0)"/><ellipse cx="393.8" cy="65.7" rx="0.5" ry="0.5" transform="rotate(-51 393.8 65.7)"/><ellipse cx="339.5" cy="87.0" rx="0.9" ry="0.7" transform="rotate(-44 339.5 87.0)"/><ellipse cx="375.4" cy="76.6" rx="0.8" ry="0.5" transform="rotate(53 375.4 76.6)"/><ellipse cx="369.9" cy="66.2" rx="0.9" ry="0.4" transform="rotate(16 369.9 66.2)"/><ellipse cx="382.6" cy="100.4" rx="0.8" ry="0.6" transform="rotate(-28 382.6 100.4)"/><ellipse cx="387.0" cy="74.2" rx="0.9" ry="0.6" transform="rotate(-44 387.0 74.2)"/><ellipse cx="356.5" cy="78.8" rx="0.9" ry="0.4" transform="rotate(26 356.5 78.8)"/><ellipse cx="396.9" cy="67.4" rx="0.9" ry="0.3" transform="rotate(-45 396.9 67.4)"/><ellipse cx="391.0" cy="73.5" rx="1.0" ry="0.5" transform="rotate(-21 391.0 73.5)"/><ellipse cx="410.5" cy="65.2" rx="0.9" ry="0.3" transform="rotate(-42 410.5 65.2)"/><ellipse cx="425.4" cy="91.2" rx="0.6" ry="0.4" transform="rotate(57 425.4 91.2)"/><ellipse cx="397.8" cy="96.8" rx="0.5" ry="0.6" transform="rotate(-17 397.8 96.8)"/><ellipse cx="356.6" cy="77.3" rx="0.8" ry="0.5" transform="rotate(-14 356.6 77.3)"/><ellipse cx="347.1" cy="97.2" rx="0.9" ry="0.7" transform="rotate(-8 347.1 97.2)"/><ellipse cx="415.8" cy="84.7" rx="0.8" ry="0.6" transform="rotate(29 415.8 84.7)"/><ellipse cx="372.0" cy="67.9" rx="0.4" ry="0.4" transform="rotate(-55 372.0 67.9)"/><ellipse cx="419.4" cy="83.2" rx="0.9" ry="0.3" transform="rotate(-4 419.4 83.2)"/><ellipse cx="419.4" cy="88.8" rx="0.7" ry="0.5" transform="rotate(-48 419.4 88.8)"/><ellipse cx="348.8" cy="70.4" rx="0.7" ry="0.5" transform="rotate(46 348.8 70.4)"/><ellipse cx="348.6" cy="74.2" rx="0.6" ry="0.4" transform="rotate(-26 348.6 74.2)"/><ellipse cx="356.6" cy="83.3" rx="0.4" ry="0.8" transform="rotate(-16 356.6 83.3)"/><ellipse cx="424.0" cy="91.5" rx="0.9" ry="0.5" transform="rotate(53 424.0 91.5)"/><ellipse cx="345.3" cy="90.7" rx="0.6" ry="0.6" transform="rotate(28 345.3 90.7)"/><ellipse cx="349.7" cy="72.0" rx="0.4" ry="0.4" transform="rotate(-51 349.7 72.0)"/><ellipse cx="372.5" cy="102.9" rx="0.7" ry="0.5" transform="rotate(-4 372.5 102.9)"/><ellipse cx="361.2" cy="93.3" rx="0.9" ry="0.4" transform="rotate(-31 361.2 93.3)"/><ellipse cx="398.5" cy="101.6" rx="0.9" ry="0.5" transform="rotate(57 398.5 101.6)"/><ellipse cx="334.6" cy="66.4" rx="0.9" ry="0.5" transform="rotate(-55 334.6 66.4)"/><ellipse cx="386.6" cy="103.6" rx="0.8" ry="0.5" transform="rotate(-49 386.6 103.6)"/><ellipse cx="340.8" cy="100.0" rx="0.7" ry="0.8" transform="rotate(-54 340.8 100.0)"/><ellipse cx="357.4" cy="66.0" rx="0.7" ry="0.3" transform="rotate(-29 357.4 66.0)"/><ellipse cx="373.1" cy="76.2" rx="0.4" ry="0.3" transform="rotate(57 373.1 76.2)"/><ellipse cx="351.2" cy="84.3" rx="0.7" ry="0.6" transform="rotate(-50 351.2 84.3)"/><ellipse cx="364.1" cy="68.3" rx="0.8" ry="0.8" transform="rotate(12 364.1 68.3)"/><ellipse cx="416.2" cy="72.6" rx="0.4" ry="0.6" transform="rotate(-2 416.2 72.6)"/><ellipse cx="388.9" cy="79.1" rx="0.8" ry="0.7" transform="rotate(50 388.9 79.1)"/><ellipse cx="363.5" cy="82.0" rx="1.0" ry="0.4" transform="rotate(-46 363.5 82.0)"/><ellipse cx="363.9" cy="67.5" rx="0.9" ry="0.7" transform="rotate(-22 363.9 67.5)"/><ellipse cx="346.5" cy="67.3" rx="0.6" ry="0.3" transform="rotate(-9 346.5 67.3)"/><ellipse cx="389.4" cy="73.8" rx="0.4" ry="0.7" transform="rotate(-54 389.4 73.8)"/><ellipse cx="353.2" cy="75.4" rx="0.7" ry="0.3" transform="rotate(-10 353.2 75.4)"/><ellipse cx="364.1" cy="94.1" rx="0.8" ry="0.7" transform="rotate(18 364.1 94.1)"/><ellipse cx="406.9" cy="87.0" rx="0.7" ry="0.7" transform="rotate(19 406.9 87.0)"/><ellipse cx="425.7" cy="93.1" rx="0.9" ry="0.4" transform="rotate(37 425.7 93.1)"/><ellipse cx="370.7" cy="69.2" rx="0.4" ry="0.4" transform="rotate(-28 370.7 69.2)"/><ellipse cx="398.9" cy="75.4" rx="0.4" ry="0.7" transform="rotate(7 398.9 75.4)"/><ellipse cx="336.6" cy="66.0" rx="0.5" ry="0.5" transform="rotate(43 336.6 66.0)"/><ellipse cx="425.1" cy="88.5" rx="0.6" ry="0.5" transform="rotate(-17 425.1 88.5)"/><ellipse cx="365.7" cy="64.5" rx="0.8" ry="0.7" transform="rotate(27 365.7 64.5)"/><ellipse cx="343.1" cy="85.2" rx="0.5" ry="0.7" transform="rotate(-6 343.1 85.2)"/><ellipse cx="424.1" cy="95.8" rx="0.5" ry="0.5" transform="rotate(50 424.1 95.8)"/><ellipse cx="378.3" cy="81.4" rx="0.7" ry="0.7" transform="rotate(52 378.3 81.4)"/><ellipse cx="385.1" cy="102.8" rx="0.8" ry="0.4" transform="rotate(38 385.1 102.8)"/><ellipse cx="374.3" cy="66.1" rx="1.1" ry="0.3" transform="rotate(9 374.3 66.1)"/><ellipse cx="380.3" cy="99.3" rx="0.7" ry="0.4" transform="rotate(-27 380.3 99.3)"/><ellipse cx="353.3" cy="86.5" rx="0.6" ry="0.7" transform="rotate(-31 353.3 86.5)"/><ellipse cx="367.8" cy="73.9" rx="1.1" ry="0.7" transform="rotate(42 367.8 73.9)"/><ellipse cx="393.3" cy="80.0" rx="0.5" ry="0.7" transform="rotate(-1 393.3 80.0)"/><ellipse cx="337.6" cy="70.8" rx="0.5" ry="0.7" transform="rotate(48 337.6 70.8)"/><ellipse cx="353.1" cy="95.9" rx="0.6" ry="0.6" transform="rotate(44 353.1 95.9)"/><ellipse cx="393.8" cy="96.0" rx="0.7" ry="0.3" transform="rotate(1 393.8 96.0)"/><ellipse cx="390.3" cy="71.4" rx="0.7" ry="0.5" transform="rotate(-57 390.3 71.4)"/><ellipse cx="364.0" cy="79.3" rx="0.7" ry="0.7" transform="rotate(-12 364.0 79.3)"/><ellipse cx="428.3" cy="96.6" rx="1.0" ry="0.6" transform="rotate(20 428.3 96.6)"/><ellipse cx="385.5" cy="95.9" rx="0.7" ry="0.6" transform="rotate(22 385.5 95.9)"/><ellipse cx="384.1" cy="75.4" rx="0.5" ry="0.3" transform="rotate(-17 384.1 75.4)"/><ellipse cx="389.7" cy="94.4" rx="0.9" ry="0.5" transform="rotate(52 389.7 94.4)"/><ellipse cx="360.4" cy="92.6" rx="0.5" ry="0.7" transform="rotate(20 360.4 92.6)"/></g>
<g><ellipse cx="374.14" cy="46.72" rx="1.28" ry="2.21" transform="rotate(0 374.14 46.72)" fill="none" stroke="#3a3a3a" stroke-width="0.5" opacity="0.6"/><ellipse cx="397.82" cy="58.77" rx="1.60" ry="1.70" transform="rotate(0 397.82 58.77)" fill="none" stroke="#3a3a3a" stroke-width="0.5" opacity="0.6"/><ellipse cx="383.16" cy="57.50" rx="1.60" ry="1.70" transform="rotate(0 383.16 57.50)" fill="none" stroke="#3a3a3a" stroke-width="0.5" opacity="0.6"/><ellipse cx="371.32" cy="62.89" rx="1.12" ry="1.19" transform="rotate(0 371.32 62.89)" fill="none" stroke="#3a3a3a" stroke-width="0.5" opacity="0.6"/><ellipse cx="363.42" cy="69.86" rx="1.76" ry="1.87" transform="rotate(0 363.42 69.86)" fill="none" stroke="#3a3a3a" stroke-width="0.5" opacity="0.6"/><ellipse cx="378.65" cy="65.42" rx="1.92" ry="1.53" transform="rotate(0 378.65 65.42)" fill="none" stroke="#3a3a3a" stroke-width="0.5" opacity="0.6"/><ellipse cx="414.74" cy="65.42" rx="1.60" ry="1.70" transform="rotate(0 414.74 65.42)" fill="none" stroke="#3a3a3a" stroke-width="0.5" opacity="0.6"/><ellipse cx="423.20" cy="62.89" rx="1.60" ry="1.70" transform="rotate(0 423.20 62.89)" fill="none" stroke="#3a3a3a" stroke-width="0.5" opacity="0.6"/><ellipse cx="466.63" cy="37.85" rx="1.28" ry="2.21" transform="rotate(0 466.63 37.85)" fill="none" stroke="#3a3a3a" stroke-width="0.5" opacity="0.6"/><ellipse cx="472.84" cy="46.41" rx="0.96" ry="1.87" transform="rotate(25 472.84 46.41)" fill="none" stroke="#3a3a3a" stroke-width="0.5" opacity="0.6"/><ellipse cx="468.32" cy="62.57" rx="1.28" ry="1.36" transform="rotate(0 468.32 62.57)" fill="none" stroke="#3a3a3a" stroke-width="0.5" opacity="0.6"/><ellipse cx="454.79" cy="49.89" rx="1.60" ry="1.70" transform="rotate(0 454.79 49.89)" fill="none" stroke="#3a3a3a" stroke-width="0.5" opacity="0.6"/><ellipse cx="450.28" cy="43.87" rx="1.44" ry="1.53" transform="rotate(0 450.28 43.87)" fill="none" stroke="#3a3a3a" stroke-width="0.5" opacity="0.6"/><ellipse cx="454.79" cy="37.21" rx="1.28" ry="1.36" transform="rotate(0 454.79 37.21)" fill="none" stroke="#3a3a3a" stroke-width="0.5" opacity="0.6"/><ellipse cx="447.46" cy="65.11" rx="1.28" ry="2.04" transform="rotate(0 447.46 65.11)" fill="none" stroke="#3a3a3a" stroke-width="0.5" opacity="0.6"/><ellipse cx="423.20" cy="86.66" rx="1.28" ry="3.06" transform="rotate(0 423.20 86.66)" fill="none" stroke="#3a3a3a" stroke-width="0.5" opacity="0.6"/><ellipse cx="415.87" cy="102.20" rx="1.60" ry="1.70" transform="rotate(0 415.87 102.20)" fill="none" stroke="#3a3a3a" stroke-width="0.5" opacity="0.6"/><ellipse cx="405.72" cy="102.20" rx="1.60" ry="1.70" transform="rotate(0 405.72 102.20)" fill="none" stroke="#3a3a3a" stroke-width="0.5" opacity="0.6"/><ellipse cx="335.78" cy="86.03" rx="1.76" ry="1.87" transform="rotate(0 335.78 86.03)" fill="none" stroke="#3a3a3a" stroke-width="0.5" opacity="0.6"/><ellipse cx="338.60" cy="72.40" rx="1.60" ry="1.70" transform="rotate(0 338.60 72.40)" fill="none" stroke="#3a3a3a" stroke-width="0.5" opacity="0.6"/><ellipse cx="396.13" cy="131.36" rx="1.60" ry="2.04" transform="rotate(20 396.13 131.36)" fill="none" stroke="#3a3a3a" stroke-width="0.5" opacity="0.6"/><ellipse cx="351.58" cy="131.36" rx="1.60" ry="1.36" transform="rotate(30 351.58 131.36)" fill="none" stroke="#3a3a3a" stroke-width="0.5" opacity="0.6"/><ellipse cx="448.02" cy="131.36" rx="1.28" ry="1.36" transform="rotate(0 448.02 131.36)" fill="none" stroke="#3a3a3a" stroke-width="0.5" opacity="0.6"/><ellipse cx="486.94" cy="88.88" rx="1.28" ry="1.36" transform="rotate(0 486.94 88.88)" fill="none" stroke="#3a3a3a" stroke-width="0.5" opacity="0.6"/><ellipse cx="485.24" cy="75.89" rx="1.28" ry="1.19" transform="rotate(0 485.24 75.89)" fill="none" stroke="#3a3a3a" stroke-width="0.5" opacity="0.6"/><ellipse cx="486.37" cy="103.46" rx="1.44" ry="1.02" transform="rotate(-20 486.37 103.46)" fill="none" stroke="#3a3a3a" stroke-width="0.5" opacity="0.6"/><ellipse cx="351.01" cy="97.12" rx="1.44" ry="1.53" transform="rotate(0 351.01 97.12)" fill="none" stroke="#3a3a3a" stroke-width="0.5" opacity="0.6"/><ellipse cx="354.96" cy="104.10" rx="1.44" ry="1.53" transform="rotate(0 354.96 104.10)" fill="none" stroke="#3a3a3a" stroke-width="0.5" opacity="0.6"/><ellipse cx="342.55" cy="104.10" rx="1.44" ry="1.53" transform="rotate(0 342.55 104.10)" fill="none" stroke="#3a3a3a" stroke-width="0.5" opacity="0.6"/><ellipse cx="354.96" cy="76.52" rx="1.44" ry="1.53" transform="rotate(0 354.96 76.52)" fill="none" stroke="#3a3a3a" stroke-width="0.5" opacity="0.6"/><ellipse cx="363.42" cy="74.93" rx="1.44" ry="1.53" transform="rotate(0 363.42 74.93)" fill="none" stroke="#3a3a3a" stroke-width="0.5" opacity="0.6"/><ellipse cx="388.80" cy="86.03" rx="1.60" ry="1.70" transform="rotate(0 388.80 86.03)" fill="none" stroke="#3a3a3a" stroke-width="0.5" opacity="0.6"/><ellipse cx="377.52" cy="92.37" rx="1.60" ry="1.70" transform="rotate(0 377.52 92.37)" fill="none" stroke="#3a3a3a" stroke-width="0.5" opacity="0.6"/><ellipse cx="397.26" cy="81.27" rx="1.60" ry="2.04" transform="rotate(0 397.26 81.27)" fill="none" stroke="#3a3a3a" stroke-width="0.5" opacity="0.6"/><ellipse cx="408.54" cy="89.20" rx="1.60" ry="2.04" transform="rotate(0 408.54 89.20)" fill="none" stroke="#3a3a3a" stroke-width="0.5" opacity="0.6"/><ellipse cx="383.16" cy="76.52" rx="1.60" ry="1.70" transform="rotate(0 383.16 76.52)" fill="none" stroke="#3a3a3a" stroke-width="0.5" opacity="0.6"/><ellipse cx="369.06" cy="84.44" rx="1.60" ry="1.70" transform="rotate(0 369.06 84.44)" fill="none" stroke="#3a3a3a" stroke-width="0.5" opacity="0.6"/><ellipse cx="360.60" cy="90.78" rx="1.60" ry="1.70" transform="rotate(0 360.60 90.78)" fill="none" stroke="#3a3a3a" stroke-width="0.5" opacity="0.6"/><ellipse cx="402.90" cy="71.76" rx="1.60" ry="1.70" transform="rotate(0 402.90 71.76)" fill="none" stroke="#3a3a3a" stroke-width="0.5" opacity="0.6"/><ellipse cx="391.62" cy="98.71" rx="1.60" ry="1.70" transform="rotate(0 391.62 98.71)" fill="none" stroke="#3a3a3a" stroke-width="0.5" opacity="0.6"/><ellipse cx="371.88" cy="103.46" rx="1.60" ry="1.70" transform="rotate(0 371.88 103.46)" fill="none" stroke="#3a3a3a" stroke-width="0.5" opacity="0.6"/><ellipse cx="412.49" cy="79.69" rx="1.60" ry="2.21" transform="rotate(0 412.49 79.69)" fill="none" stroke="#3a3a3a" stroke-width="0.5" opacity="0.6"/><ellipse cx="419.82" cy="93.95" rx="1.60" ry="2.55" transform="rotate(0 419.82 93.95)" fill="none" stroke="#3a3a3a" stroke-width="0.5" opacity="0.6"/><ellipse cx="411.36" cy="68.59" rx="1.44" ry="1.53" transform="rotate(0 411.36 68.59)" fill="none" stroke="#3a3a3a" stroke-width="0.5" opacity="0.6"/><ellipse cx="374.70" cy="67.01" rx="1.28" ry="1.36" transform="rotate(0 374.70 67.01)" fill="none" stroke="#3a3a3a" stroke-width="0.5" opacity="0.6"/><ellipse cx="388.80" cy="104.42" rx="1.28" ry="1.36" transform="rotate(0 388.80 104.42)" fill="none" stroke="#3a3a3a" stroke-width="0.5" opacity="0.6"/><ellipse cx="487.50" cy="51.16" rx="0.80" ry="0.85" transform="rotate(0 487.50 51.16)" fill="none" stroke="#3a3a3a" stroke-width="0.5" opacity="0.6"/></g>
<ellipse cx="380.2" cy="65.4" rx="2.6" ry="2.1" fill="#5a5a5a" stroke="#222" stroke-width="0.6"/>
<ellipse cx="406.2" cy="102.8" rx="2.2" ry="2.3" fill="#5a5a5a" stroke="#222" stroke-width="0.6"/>
<ellipse cx="416" cy="102.3" rx="1.9" ry="2.2" fill="#5a5a5a" stroke="#222" stroke-width="0.6"/>
<ellipse cx="466.9" cy="37.3" rx="1.8" ry="2.8" fill="#5a5a5a" stroke="#222" stroke-width="0.6"/>
<ellipse cx="380.3" cy="102.8" rx="1.5" ry="1.5" fill="#5a5a5a" stroke="#222" stroke-width="0.6"/>
<ellipse cx="485.7" cy="78.5" rx="1.1" ry="0.9" fill="#777" stroke="#333" stroke-width="0.4"/>
<ellipse cx="487.1" cy="89.4" rx="1.1" ry="0.9" fill="#777" stroke="#333" stroke-width="0.4"/>
<ellipse cx="485" cy="100.2" rx="1.1" ry="0.9" fill="#777" stroke="#333" stroke-width="0.4"/>
<line x1="375.6" y1="38.3" x2="375" y2="43.5" stroke="#222" stroke-width="0.55"/>
<text x="377.5" y="37.400000000000006" font-family="Liberation Sans" font-weight="bold" font-size="6.2" text-anchor="middle" fill="#1a1a1a">T93</text>
<line x1="386.5" y1="52" x2="384.8" y2="55" stroke="#222" stroke-width="0.55"/>
<text x="389.5" y="51.800000000000004" font-family="Liberation Sans" font-weight="bold" font-size="6.2" text-anchor="middle" fill="#1a1a1a">Y34</text>
<line x1="403.5" y1="52.5" x2="400.8" y2="56" stroke="#222" stroke-width="0.55"/>
<text x="405" y="52.2" font-family="Liberation Sans" font-weight="bold" font-size="6.2" text-anchor="middle" fill="#1a1a1a">H92</text>
<line x1="356.5" y1="60" x2="360.5" y2="73" stroke="#222" stroke-width="0.55"/>
<text x="356.2" y="59.300000000000004" font-family="Liberation Sans" font-weight="bold" font-size="6.2" text-anchor="middle" fill="#1a1a1a">I21</text>
<text x="366.5" y="63.2" font-family="Liberation Sans" font-weight="bold" font-size="6.2" text-anchor="middle" fill="#1a1a1a">T26</text>
<text x="377.8" y="61.2" font-family="Liberation Sans" font-weight="bold" font-size="6.2" text-anchor="middle" fill="#1a1a1a">S36</text>
<text x="340.2" y="66.2" font-family="Liberation Sans" font-weight="bold" font-size="6.2" text-anchor="middle" fill="#1a1a1a">T47</text>
<line x1="351.8" y1="68.5" x2="352" y2="73.5" stroke="#222" stroke-width="0.55"/>
<text x="351.7" y="67.9" font-family="Liberation Sans" font-weight="bold" font-size="6.2" text-anchor="middle" fill="#1a1a1a">V87</text>
<line x1="334" y1="75.5" x2="336" y2="80.5" stroke="#222" stroke-width="0.55"/>
<text x="332.8" y="74.8" font-family="Liberation Sans" font-weight="bold" font-size="6.2" text-anchor="middle" fill="#1a1a1a">T60</text>
<line x1="394.5" y1="71.5" x2="386" y2="89" stroke="#222" stroke-width="0.55"/>
<text x="396.8" y="71.2" font-family="Liberation Sans" font-weight="bold" font-size="6.2" text-anchor="middle" fill="#1a1a1a">K32</text>
<line x1="417" y1="58.5" x2="413" y2="67" stroke="#222" stroke-width="0.55"/>
<text x="418" y="58.1" font-family="Liberation Sans" font-weight="bold" font-size="6.2" text-anchor="middle" fill="#1a1a1a">S22</text>
<line x1="429.5" y1="57.5" x2="425.5" y2="61" stroke="#222" stroke-width="0.55"/>
<text x="431.7" y="57.0" font-family="Liberation Sans" font-weight="bold" font-size="6.2" text-anchor="middle" fill="#1a1a1a">S45</text>
<line x1="470.5" y1="29.5" x2="467.5" y2="34.5" stroke="#222" stroke-width="0.55"/>
<text x="472.6" y="28.8" font-family="Liberation Sans" font-weight="bold" font-size="6.2" text-anchor="middle" fill="#1a1a1a">G43</text>
<line x1="446" y1="36.2" x2="449.5" y2="42" stroke="#222" stroke-width="0.55"/>
<text x="444.3" y="35.6" font-family="Liberation Sans" font-weight="bold" font-size="6.2" text-anchor="middle" fill="#1a1a1a">G63</text>
<line x1="477" y1="40.5" x2="473.5" y2="44.5" stroke="#222" stroke-width="0.55"/>
<text x="480" y="39.800000000000004" font-family="Liberation Sans" font-weight="bold" font-size="6.2" text-anchor="middle" fill="#1a1a1a">G95</text>
<line x1="471.5" y1="56" x2="469.3" y2="59.5" stroke="#222" stroke-width="0.55"/>
<text x="474" y="55.300000000000004" font-family="Liberation Sans" font-weight="bold" font-size="6.2" text-anchor="middle" fill="#1a1a1a">G94</text>
<line x1="450.5" y1="72.5" x2="448.3" y2="67.5" stroke="#222" stroke-width="0.55"/>
<text x="452.4" y="78.2" font-family="Liberation Sans" font-weight="bold" font-size="6.2" text-anchor="middle" fill="#1a1a1a">N68</text>
<line x1="420.2" y1="71.6" x2="412" y2="69.5" stroke="#222" stroke-width="0.55"/>
<text x="424.8" y="73.9" font-family="Liberation Sans" font-weight="bold" font-size="6.2" text-anchor="middle" fill="#1a1a1a">L42</text>
<line x1="431" y1="79" x2="427.5" y2="84" stroke="#222" stroke-width="0.55"/>
<text x="434.3" y="78.8" font-family="Liberation Sans" font-weight="bold" font-size="6.2" text-anchor="middle" fill="#1a1a1a">A25</text>
<line x1="343.5" y1="96.3" x2="348" y2="96" stroke="#222" stroke-width="0.55"/>
<text x="339.2" y="98.7" font-family="Liberation Sans" font-weight="bold" font-size="6.2" text-anchor="middle" fill="#1a1a1a">V83</text>
<line x1="336" y1="109.5" x2="342.5" y2="102.8" stroke="#222" stroke-width="0.55"/>
<text x="337.5" y="114.8" font-family="Liberation Sans" font-weight="bold" font-size="6.2" text-anchor="middle" fill="#1a1a1a">V73</text>
<line x1="352.3" y1="105.5" x2="353" y2="97.5" stroke="#222" stroke-width="0.55"/>
<text x="351.9" y="111.4" font-family="Liberation Sans" font-weight="bold" font-size="6.2" text-anchor="middle" fill="#1a1a1a">I90</text>
<text x="407.3" y="111.9" font-family="Liberation Sans" font-weight="bold" font-size="6.2" text-anchor="middle" fill="#1a1a1a">H37</text>
<line x1="420" y1="106" x2="417.3" y2="103.6" stroke="#222" stroke-width="0.55"/>
<text x="423.5" y="110.2" font-family="Liberation Sans" font-weight="bold" font-size="6.2" text-anchor="middle" fill="#1a1a1a">A41</text>
<line x1="404.5" y1="124" x2="399.5" y2="128.5" stroke="#222" stroke-width="0.55"/>
<text x="407.3" y="124.0" font-family="Liberation Sans" font-weight="bold" font-size="6.2" text-anchor="middle" fill="#1a1a1a">L46</text>
<rect x="326.5" y="21" width="162.89999999999998" height="116" fill="none" stroke="#7a7a7a" stroke-width="1"/>
<path d="M331.20,137v2.2M359.40,137v2.2M387.60,137v2.2M415.80,137v2.2M444.00,137v2.2M472.20,137v2.2M326.5,25.20h-2.2M326.5,56.90h-2.2M326.5,88.60h-2.2M326.5,120.30h-2.2M326.5,41.05h-1.2M326.5,72.75h-1.2M326.5,104.45h-1.2M326.5,136.15h-1.2" stroke="#555" stroke-width="0.7"/>
<text x="324.2" y="28.20" font-family="Liberation Sans" font-weight="bold" font-size="8.3" text-anchor="end">100</text>
<text x="324.2" y="59.90" font-family="Liberation Sans" font-weight="bold" font-size="8.3" text-anchor="end">110</text>
<text x="324.2" y="91.60" font-family="Liberation Sans" font-weight="bold" font-size="8.3" text-anchor="end">120</text>
<text x="324.2" y="123.30" font-family="Liberation Sans" font-weight="bold" font-size="8.3" text-anchor="end">130</text>
<text x="331.20" y="146" font-family="Liberation Sans" font-weight="bold" font-size="8.3" text-anchor="middle">70</text>
<text x="359.40" y="146" font-family="Liberation Sans" font-weight="bold" font-size="8.3" text-anchor="middle">65</text>
<text x="387.60" y="146" font-family="Liberation Sans" font-weight="bold" font-size="8.3" text-anchor="middle">60</text>
<text x="415.80" y="146" font-family="Liberation Sans" font-weight="bold" font-size="8.3" text-anchor="middle">55</text>
<text x="444.00" y="146" font-family="Liberation Sans" font-weight="bold" font-size="8.3" text-anchor="middle">50</text>
<text x="472.20" y="146" font-family="Liberation Sans" font-weight="bold" font-size="8.3" text-anchor="middle">45</text>
<text x="406.8" y="155.9" font-family="Liberation Sans" font-weight="bold" font-size="10.3" text-anchor="middle"><tspan font-size="6.3" dy="-3.8">13</tspan><tspan dy="3.8">C (ppm)</tspan></text>
<text transform="translate(308.2,84.4) rotate(-90)" font-family="Liberation Sans" font-weight="bold" font-size="9.4" text-anchor="middle"><tspan font-size="6" dy="-3.5">15</tspan><tspan dy="3.5">N (ppm)</tspan></text>
<text x="503.3" y="14.1" font-family="Liberation Sans" font-weight="bold" font-size="16">d</text>
<rect x="538.5" y="10.4" width="12.3" height="7.8" fill="#4a4a4a" stroke="#222" stroke-width="0.6"/>
<text x="552" y="17.6" font-family="Liberation Sans" font-weight="bold" font-size="8.9">WildType</text>
<rect x="597.6" y="10.4" width="11.6" height="7.8" fill="#1ee88e" stroke="#333" stroke-width="0.6"/>
<text x="610.3" y="17.6" font-family="Liberation Sans" font-weight="bold" font-size="8.9">K32A/H37A/H40A</text>
<g fill="none" stroke="#1fe590" stroke-width="1.25"><ellipse cx="577.6" cy="82.4" rx="3.0" ry="1.4" transform="rotate(-60 577.6 82.4)"/><ellipse cx="558.3" cy="80.5" rx="2.5" ry="1.8" transform="rotate(-76 558.3 80.5)"/><ellipse cx="551.5" cy="92.4" rx="2.6" ry="0.9" transform="rotate(-41 551.5 92.4)"/><ellipse cx="592.1" cy="84.6" rx="1.5" ry="0.8" transform="rotate(-59 592.1 84.6)"/><ellipse cx="576.7" cy="93.7" rx="2.2" ry="1.6" transform="rotate(-60 576.7 93.7)"/><ellipse cx="577.9" cy="71.1" rx="3.2" ry="2.0" transform="rotate(-46 577.9 71.1)"/><ellipse cx="600.2" cy="76.0" rx="2.9" ry="1.3" transform="rotate(-42 600.2 76.0)"/><ellipse cx="610.5" cy="78.8" rx="3.2" ry="1.3" transform="rotate(-77 610.5 78.8)"/><ellipse cx="601.1" cy="70.8" rx="1.4" ry="1.2" transform="rotate(-41 601.1 70.8)"/><ellipse cx="553.5" cy="69.9" rx="1.4" ry="0.9" transform="rotate(-48 553.5 69.9)"/><ellipse cx="554.4" cy="85.7" rx="1.4" ry="1.3" transform="rotate(-71 554.4 85.7)"/><ellipse cx="566.9" cy="95.4" rx="1.6" ry="1.3" transform="rotate(-46 566.9 95.4)"/><ellipse cx="560.4" cy="70.3" rx="2.7" ry="1.2" transform="rotate(-68 560.4 70.3)"/><ellipse cx="571.8" cy="78.1" rx="3.1" ry="1.4" transform="rotate(-57 571.8 78.1)"/><ellipse cx="558.2" cy="66.2" rx="3.0" ry="1.8" transform="rotate(-70 558.2 66.2)"/><ellipse cx="598.2" cy="97.6" rx="1.6" ry="1.9" transform="rotate(-45 598.2 97.6)"/><ellipse cx="562.2" cy="88.2" rx="1.7" ry="1.8" transform="rotate(-56 562.2 88.2)"/><ellipse cx="557.6" cy="88.8" rx="1.3" ry="1.1" transform="rotate(-58 557.6 88.8)"/><ellipse cx="589.2" cy="71.2" rx="3.0" ry="1.0" transform="rotate(-79 589.2 71.2)"/><ellipse cx="557.7" cy="74.8" rx="2.3" ry="1.0" transform="rotate(-66 557.7 74.8)"/><ellipse cx="594.8" cy="83.4" rx="1.5" ry="0.8" transform="rotate(-79 594.8 83.4)"/><ellipse cx="595.5" cy="98.5" rx="1.2" ry="1.6" transform="rotate(-61 595.5 98.5)"/><ellipse cx="550.4" cy="81.8" rx="2.7" ry="1.9" transform="rotate(-51 550.4 81.8)"/><ellipse cx="602.1" cy="96.6" rx="1.9" ry="1.6" transform="rotate(-44 602.1 96.6)"/><ellipse cx="575.0" cy="91.6" rx="2.9" ry="1.5" transform="rotate(-55 575.0 91.6)"/><ellipse cx="587.0" cy="84.4" rx="1.4" ry="1.6" transform="rotate(-40 587.0 84.4)"/><ellipse cx="597.4" cy="75.5" rx="2.7" ry="1.5" transform="rotate(-62 597.4 75.5)"/><ellipse cx="551.0" cy="90.0" rx="1.3" ry="1.5" transform="rotate(-61 551.0 90.0)"/><ellipse cx="595.3" cy="79.9" rx="2.4" ry="1.9" transform="rotate(-70 595.3 79.9)"/><ellipse cx="610.2" cy="86.4" rx="2.1" ry="1.9" transform="rotate(-67 610.2 86.4)"/><ellipse cx="559.3" cy="77.2" rx="2.8" ry="1.9" transform="rotate(-45 559.3 77.2)"/><ellipse cx="587.0" cy="72.7" rx="1.5" ry="1.4" transform="rotate(-47 587.0 72.7)"/><ellipse cx="596.2" cy="98.0" rx="1.8" ry="1.0" transform="rotate(-62 596.2 98.0)"/><ellipse cx="560.4" cy="76.6" rx="2.5" ry="1.4" transform="rotate(-67 560.4 76.6)"/><ellipse cx="596.0" cy="82.8" rx="1.8" ry="1.7" transform="rotate(-79 596.0 82.8)"/><ellipse cx="590.3" cy="77.9" rx="2.5" ry="1.6" transform="rotate(-48 590.3 77.9)"/><ellipse cx="545.8" cy="78.9" rx="2.6" ry="1.0" transform="rotate(-69 545.8 78.9)"/><ellipse cx="595.2" cy="80.8" rx="2.4" ry="1.7" transform="rotate(-64 595.2 80.8)"/><ellipse cx="610.2" cy="63.5" rx="3.1" ry="1.7" transform="rotate(-75 610.2 63.5)"/><ellipse cx="590.0" cy="96.4" rx="2.0" ry="1.5" transform="rotate(-45 590.0 96.4)"/><ellipse cx="597.0" cy="92.7" rx="2.5" ry="1.7" transform="rotate(-71 597.0 92.7)"/><ellipse cx="583.7" cy="91.6" rx="1.8" ry="1.9" transform="rotate(-46 583.7 91.6)"/><ellipse cx="551.0" cy="77.6" rx="2.3" ry="1.7" transform="rotate(-61 551.0 77.6)"/><ellipse cx="569.1" cy="91.5" rx="1.5" ry="1.0" transform="rotate(-59 569.1 91.5)"/><ellipse cx="605.5" cy="87.6" rx="3.1" ry="1.4" transform="rotate(-42 605.5 87.6)"/><ellipse cx="591.0" cy="80.9" rx="2.9" ry="1.5" transform="rotate(-68 591.0 80.9)"/><ellipse cx="605.9" cy="96.0" rx="1.6" ry="1.8" transform="rotate(-41 605.9 96.0)"/><ellipse cx="583.6" cy="80.1" rx="2.4" ry="0.8" transform="rotate(-41 583.6 80.1)"/><ellipse cx="573.8" cy="92.0" rx="2.3" ry="1.4" transform="rotate(-52 573.8 92.0)"/><ellipse cx="564.4" cy="78.9" rx="1.5" ry="1.3" transform="rotate(-47 564.4 78.9)"/><ellipse cx="579.3" cy="72.7" rx="1.6" ry="1.5" transform="rotate(-43 579.3 72.7)"/><ellipse cx="594.5" cy="72.9" rx="1.9" ry="1.5" transform="rotate(-76 594.5 72.9)"/><ellipse cx="553.8" cy="80.4" rx="1.7" ry="1.0" transform="rotate(-59 553.8 80.4)"/><ellipse cx="572.1" cy="76.5" rx="2.3" ry="1.0" transform="rotate(-72 572.1 76.5)"/><ellipse cx="591.0" cy="81.2" rx="2.9" ry="1.5" transform="rotate(-46 591.0 81.2)"/><ellipse cx="598.3" cy="92.4" rx="3.0" ry="1.2" transform="rotate(-67 598.3 92.4)"/><ellipse cx="608.9" cy="65.4" rx="1.7" ry="1.7" transform="rotate(-70 608.9 65.4)"/><ellipse cx="574.0" cy="87.4" rx="1.2" ry="1.0" transform="rotate(-53 574.0 87.4)"/><ellipse cx="614.7" cy="64.6" rx="2.2" ry="1.7" transform="rotate(-60 614.7 64.6)"/><ellipse cx="584.7" cy="80.6" rx="2.3" ry="1.0" transform="rotate(-73 584.7 80.6)"/><ellipse cx="611.7" cy="63.8" rx="1.3" ry="1.9" transform="rotate(-62 611.7 63.8)"/><ellipse cx="568.5" cy="78.7" rx="2.2" ry="1.3" transform="rotate(-56 568.5 78.7)"/><ellipse cx="598.2" cy="76.2" rx="1.6" ry="1.0" transform="rotate(-59 598.2 76.2)"/><ellipse cx="590.3" cy="76.2" rx="2.4" ry="1.4" transform="rotate(-41 590.3 76.2)"/><ellipse cx="563.6" cy="96.5" rx="2.7" ry="1.7" transform="rotate(-47 563.6 96.5)"/><ellipse cx="609.6" cy="95.2" rx="2.6" ry="1.7" transform="rotate(-49 609.6 95.2)"/><ellipse cx="569.6" cy="78.8" rx="1.2" ry="1.2" transform="rotate(-54 569.6 78.8)"/><ellipse cx="561.7" cy="97.8" rx="2.5" ry="1.2" transform="rotate(-54 561.7 97.8)"/><ellipse cx="583.4" cy="75.6" rx="3.2" ry="1.6" transform="rotate(-52 583.4 75.6)"/><ellipse cx="589.3" cy="89.6" rx="1.7" ry="1.3" transform="rotate(-78 589.3 89.6)"/><ellipse cx="563.1" cy="96.2" rx="2.3" ry="1.4" transform="rotate(-41 563.1 96.2)"/><ellipse cx="588.0" cy="90.4" rx="1.3" ry="1.9" transform="rotate(-74 588.0 90.4)"/><ellipse cx="557.2" cy="79.8" rx="2.4" ry="0.9" transform="rotate(-42 557.2 79.8)"/><ellipse cx="582.9" cy="83.9" rx="1.9" ry="1.1" transform="rotate(-54 582.9 83.9)"/><ellipse cx="565.4" cy="88.7" rx="1.8" ry="0.8" transform="rotate(-70 565.4 88.7)"/><ellipse cx="550.3" cy="96.2" rx="2.1" ry="1.4" transform="rotate(-41 550.3 96.2)"/><ellipse cx="582.7" cy="97.5" rx="2.6" ry="1.4" transform="rotate(-41 582.7 97.5)"/><ellipse cx="589.9" cy="78.2" rx="1.6" ry="0.9" transform="rotate(-59 589.9 78.2)"/><ellipse cx="586.9" cy="76.8" rx="2.8" ry="1.4" transform="rotate(-40 586.9 76.8)"/><ellipse cx="597.9" cy="69.5" rx="1.4" ry="1.9" transform="rotate(-49 597.9 69.5)"/><ellipse cx="594.3" cy="82.6" rx="2.4" ry="1.6" transform="rotate(-50 594.3 82.6)"/><ellipse cx="562.9" cy="99.2" rx="3.0" ry="1.9" transform="rotate(-78 562.9 99.2)"/><ellipse cx="551.2" cy="87.1" rx="2.3" ry="1.6" transform="rotate(-65 551.2 87.1)"/><ellipse cx="560.2" cy="73.7" rx="2.7" ry="1.8" transform="rotate(-77 560.2 73.7)"/><ellipse cx="575.6" cy="70.3" rx="2.8" ry="1.2" transform="rotate(-54 575.6 70.3)"/><ellipse cx="568.4" cy="81.9" rx="2.7" ry="1.9" transform="rotate(-63 568.4 81.9)"/><ellipse cx="552.0" cy="95.0" rx="1.4" ry="0.9" transform="rotate(-57 552.0 95.0)"/><ellipse cx="594.3" cy="72.0" rx="2.8" ry="0.9" transform="rotate(-71 594.3 72.0)"/><ellipse cx="550.9" cy="72.2" rx="2.6" ry="1.6" transform="rotate(-69 550.9 72.2)"/><ellipse cx="596.1" cy="82.8" rx="3.0" ry="1.9" transform="rotate(-43 596.1 82.8)"/><ellipse cx="602.8" cy="72.2" rx="1.8" ry="1.3" transform="rotate(-43 602.8 72.2)"/><ellipse cx="571.3" cy="74.5" rx="2.0" ry="1.3" transform="rotate(-72 571.3 74.5)"/><ellipse cx="602.4" cy="81.6" rx="2.9" ry="1.5" transform="rotate(-73 602.4 81.6)"/><ellipse cx="608.4" cy="71.3" rx="1.2" ry="1.4" transform="rotate(-58 608.4 71.3)"/><ellipse cx="584.4" cy="91.5" rx="1.4" ry="0.9" transform="rotate(-51 584.4 91.5)"/><ellipse cx="551.1" cy="85.4" rx="1.5" ry="1.7" transform="rotate(-54 551.1 85.4)"/><ellipse cx="560.9" cy="90.6" rx="2.2" ry="1.7" transform="rotate(-64 560.9 90.6)"/><ellipse cx="580.5" cy="81.5" rx="2.6" ry="1.6" transform="rotate(-43 580.5 81.5)"/><ellipse cx="604.5" cy="86.7" rx="2.9" ry="1.8" transform="rotate(-47 604.5 86.7)"/><ellipse cx="582.7" cy="88.4" rx="2.8" ry="1.3" transform="rotate(-63 582.7 88.4)"/><ellipse cx="559.7" cy="77.0" rx="1.8" ry="2.0" transform="rotate(-78 559.7 77.0)"/><ellipse cx="553.3" cy="85.9" rx="2.8" ry="1.0" transform="rotate(-78 553.3 85.9)"/><ellipse cx="587.1" cy="96.4" rx="1.3" ry="0.9" transform="rotate(-73 587.1 96.4)"/><ellipse cx="561.9" cy="88.7" rx="2.4" ry="1.1" transform="rotate(-73 561.9 88.7)"/><ellipse cx="557.4" cy="90.3" rx="1.8" ry="1.5" transform="rotate(-47 557.4 90.3)"/><ellipse cx="563.8" cy="95.5" rx="3.0" ry="1.2" transform="rotate(-58 563.8 95.5)"/><ellipse cx="579.7" cy="68.8" rx="1.3" ry="1.9" transform="rotate(-48 579.7 68.8)"/><ellipse cx="583.0" cy="80.6" rx="1.7" ry="2.0" transform="rotate(-54 583.0 80.6)"/><ellipse cx="545.8" cy="78.9" rx="1.9" ry="1.8" transform="rotate(-51 545.8 78.9)"/><ellipse cx="556.3" cy="66.3" rx="1.8" ry="1.1" transform="rotate(-45 556.3 66.3)"/><ellipse cx="590.9" cy="99.7" rx="1.7" ry="1.4" transform="rotate(-74 590.9 99.7)"/><ellipse cx="605.9" cy="92.9" rx="1.4" ry="1.1" transform="rotate(-51 605.9 92.9)"/><ellipse cx="606.7" cy="72.1" rx="2.8" ry="1.3" transform="rotate(-43 606.7 72.1)"/><ellipse cx="556.3" cy="93.3" rx="1.8" ry="1.2" transform="rotate(-77 556.3 93.3)"/><ellipse cx="578.6" cy="88.6" rx="1.9" ry="1.6" transform="rotate(-76 578.6 88.6)"/><ellipse cx="578.2" cy="98.7" rx="2.9" ry="1.6" transform="rotate(-80 578.2 98.7)"/><ellipse cx="596.1" cy="69.5" rx="2.3" ry="1.3" transform="rotate(-80 596.1 69.5)"/><ellipse cx="602.6" cy="68.3" rx="2.4" ry="1.1" transform="rotate(-65 602.6 68.3)"/><ellipse cx="573.2" cy="86.7" rx="1.7" ry="1.0" transform="rotate(-51 573.2 86.7)"/><ellipse cx="597.1" cy="73.3" rx="2.9" ry="0.9" transform="rotate(-74 597.1 73.3)"/><ellipse cx="605.3" cy="83.7" rx="1.4" ry="1.1" transform="rotate(-74 605.3 83.7)"/><ellipse cx="581.8" cy="85.9" rx="2.7" ry="1.8" transform="rotate(-65 581.8 85.9)"/><ellipse cx="573.9" cy="88.0" rx="3.2" ry="1.7" transform="rotate(-54 573.9 88.0)"/><ellipse cx="569.6" cy="86.0" rx="1.4" ry="1.3" transform="rotate(-60 569.6 86.0)"/><ellipse cx="604.4" cy="84.5" rx="1.5" ry="1.7" transform="rotate(-44 604.4 84.5)"/><ellipse cx="570.4" cy="80.0" rx="1.5" ry="1.7" transform="rotate(-41 570.4 80.0)"/><ellipse cx="596.5" cy="93.4" rx="1.6" ry="1.9" transform="rotate(-55 596.5 93.4)"/><ellipse cx="551.0" cy="69.8" rx="2.4" ry="1.6" transform="rotate(-67 551.0 69.8)"/><ellipse cx="571.0" cy="78.5" rx="1.4" ry="2.0" transform="rotate(-75 571.0 78.5)"/><ellipse cx="584.1" cy="82.4" rx="2.3" ry="1.1" transform="rotate(-44 584.1 82.4)"/><ellipse cx="603.9" cy="84.1" rx="1.4" ry="1.8" transform="rotate(-68 603.9 84.1)"/><ellipse cx="562.3" cy="82.9" rx="2.9" ry="1.0" transform="rotate(-58 562.3 82.9)"/><ellipse cx="592.4" cy="72.3" rx="2.5" ry="1.7" transform="rotate(-65 592.4 72.3)"/><ellipse cx="559.4" cy="78.7" rx="1.5" ry="1.3" transform="rotate(-57 559.4 78.7)"/><ellipse cx="578.8" cy="76.5" rx="2.4" ry="1.6" transform="rotate(-50 578.8 76.5)"/><ellipse cx="605.4" cy="94.2" rx="2.0" ry="1.3" transform="rotate(-57 605.4 94.2)"/><ellipse cx="582.9" cy="81.0" rx="2.1" ry="1.9" transform="rotate(-67 582.9 81.0)"/><ellipse cx="599.1" cy="72.2" rx="2.4" ry="0.9" transform="rotate(-75 599.1 72.2)"/><ellipse cx="581.2" cy="75.9" rx="1.3" ry="1.6" transform="rotate(-59 581.2 75.9)"/><ellipse cx="592.9" cy="94.7" rx="2.0" ry="1.8" transform="rotate(-71 592.9 94.7)"/><ellipse cx="585.8" cy="96.1" rx="1.4" ry="1.8" transform="rotate(-75 585.8 96.1)"/><ellipse cx="562.6" cy="72.0" rx="1.8" ry="0.9" transform="rotate(-44 562.6 72.0)"/><ellipse cx="573.6" cy="74.3" rx="2.4" ry="0.9" transform="rotate(-79 573.6 74.3)"/><ellipse cx="567.2" cy="79.9" rx="3.1" ry="2.0" transform="rotate(-61 567.2 79.9)"/><ellipse cx="566.3" cy="96.9" rx="3.0" ry="1.0" transform="rotate(-46 566.3 96.9)"/><ellipse cx="559.5" cy="85.3" rx="1.6" ry="1.9" transform="rotate(-78 559.5 85.3)"/><ellipse cx="595.1" cy="97.5" rx="2.1" ry="0.9" transform="rotate(-71 595.1 97.5)"/><ellipse cx="558.0" cy="69.4" rx="2.5" ry="1.7" transform="rotate(-65 558.0 69.4)"/><ellipse cx="608.7" cy="83.6" rx="1.7" ry="1.2" transform="rotate(-43 608.7 83.6)"/><ellipse cx="564.9" cy="85.6" rx="1.4" ry="2.0" transform="rotate(-62 564.9 85.6)"/><ellipse cx="588.2" cy="71.4" rx="1.7" ry="1.8" transform="rotate(-77 588.2 71.4)"/><ellipse cx="599.4" cy="69.8" rx="1.8" ry="1.5" transform="rotate(-73 599.4 69.8)"/><ellipse cx="578.2" cy="90.0" rx="2.0" ry="1.9" transform="rotate(-60 578.2 90.0)"/><ellipse cx="601.4" cy="80.7" rx="2.2" ry="1.8" transform="rotate(-53 601.4 80.7)"/><ellipse cx="613.5" cy="67.0" rx="2.8" ry="1.0" transform="rotate(-56 613.5 67.0)"/><ellipse cx="576.7" cy="90.9" rx="2.8" ry="1.7" transform="rotate(-71 576.7 90.9)"/><ellipse cx="560.9" cy="83.2" rx="2.2" ry="0.8" transform="rotate(-56 560.9 83.2)"/><ellipse cx="586.2" cy="94.9" rx="1.6" ry="1.0" transform="rotate(-79 586.2 94.9)"/><ellipse cx="576.3" cy="77.7" rx="1.7" ry="1.8" transform="rotate(-77 576.3 77.7)"/><ellipse cx="586.0" cy="81.7" rx="2.8" ry="1.1" transform="rotate(-74 586.0 81.7)"/><ellipse cx="548.0" cy="72.6" rx="2.4" ry="1.4" transform="rotate(-69 548.0 72.6)"/><ellipse cx="551.4" cy="92.8" rx="1.5" ry="1.1" transform="rotate(-74 551.4 92.8)"/><ellipse cx="604.8" cy="91.5" rx="1.3" ry="1.3" transform="rotate(-65 604.8 91.5)"/><ellipse cx="614.9" cy="61.7" rx="2.2" ry="1.7" transform="rotate(-41 614.9 61.7)"/><ellipse cx="609.1" cy="65.7" rx="2.0" ry="1.2" transform="rotate(-63 609.1 65.7)"/><ellipse cx="561.6" cy="70.1" rx="2.3" ry="1.1" transform="rotate(-62 561.6 70.1)"/><ellipse cx="571.2" cy="73.5" rx="3.2" ry="1.5" transform="rotate(-78 571.2 73.5)"/><ellipse cx="569.7" cy="87.8" rx="2.9" ry="1.5" transform="rotate(-45 569.7 87.8)"/><ellipse cx="573.3" cy="93.7" rx="2.0" ry="1.7" transform="rotate(-71 573.3 93.7)"/><ellipse cx="558.2" cy="82.0" rx="1.5" ry="1.0" transform="rotate(-71 558.2 82.0)"/><ellipse cx="567.2" cy="77.9" rx="3.2" ry="1.6" transform="rotate(-45 567.2 77.9)"/><ellipse cx="594.8" cy="74.5" rx="1.7" ry="0.8" transform="rotate(-73 594.8 74.5)"/><ellipse cx="573.3" cy="96.9" rx="2.6" ry="1.1" transform="rotate(-66 573.3 96.9)"/><ellipse cx="551.0" cy="95.3" rx="1.9" ry="1.7" transform="rotate(-59 551.0 95.3)"/><ellipse cx="567.5" cy="77.0" rx="2.3" ry="1.0" transform="rotate(-52 567.5 77.0)"/><ellipse cx="597.2" cy="86.6" rx="1.5" ry="1.0" transform="rotate(-69 597.2 86.6)"/><ellipse cx="574.2" cy="75.5" rx="2.9" ry="1.1" transform="rotate(-68 574.2 75.5)"/><ellipse cx="546.8" cy="85.2" rx="2.3" ry="1.8" transform="rotate(-41 546.8 85.2)"/><ellipse cx="593.3" cy="96.8" rx="1.6" ry="1.6" transform="rotate(-53 593.3 96.8)"/><ellipse cx="607.5" cy="69.4" rx="2.5" ry="0.9" transform="rotate(-63 607.5 69.4)"/><ellipse cx="549.3" cy="75.3" rx="1.9" ry="1.4" transform="rotate(-69 549.3 75.3)"/><ellipse cx="569.6" cy="76.9" rx="1.5" ry="1.5" transform="rotate(-52 569.6 76.9)"/><ellipse cx="573.2" cy="74.6" rx="1.3" ry="1.3" transform="rotate(-78 573.2 74.6)"/><ellipse cx="587.2" cy="78.8" rx="1.9" ry="1.1" transform="rotate(-79 587.2 78.8)"/><ellipse cx="609.2" cy="82.6" rx="1.7" ry="1.6" transform="rotate(-73 609.2 82.6)"/><ellipse cx="589.3" cy="98.2" rx="1.9" ry="1.5" transform="rotate(-42 589.3 98.2)"/><ellipse cx="590.2" cy="84.8" rx="2.0" ry="1.3" transform="rotate(-69 590.2 84.8)"/><ellipse cx="608.3" cy="75.3" rx="3.0" ry="0.8" transform="rotate(-75 608.3 75.3)"/><ellipse cx="615.3" cy="66.0" rx="1.6" ry="1.1" transform="rotate(-53 615.3 66.0)"/><ellipse cx="580.5" cy="86.0" rx="2.3" ry="1.5" transform="rotate(-58 580.5 86.0)"/><ellipse cx="570.0" cy="95.5" rx="1.8" ry="1.7" transform="rotate(-52 570.0 95.5)"/><ellipse cx="556.5" cy="84.9" rx="2.2" ry="1.5" transform="rotate(-65 556.5 84.9)"/><ellipse cx="598.9" cy="81.4" rx="1.7" ry="1.1" transform="rotate(-67 598.9 81.4)"/><ellipse cx="552.4" cy="88.2" rx="1.4" ry="1.3" transform="rotate(-49 552.4 88.2)"/><ellipse cx="556.7" cy="94.7" rx="2.9" ry="0.9" transform="rotate(-70 556.7 94.7)"/><ellipse cx="602.3" cy="75.7" rx="2.6" ry="1.1" transform="rotate(-51 602.3 75.7)"/><ellipse cx="569.0" cy="90.4" rx="2.9" ry="1.8" transform="rotate(-57 569.0 90.4)"/><ellipse cx="595.9" cy="84.9" rx="2.9" ry="1.8" transform="rotate(-75 595.9 84.9)"/><ellipse cx="587.2" cy="97.6" rx="3.1" ry="1.0" transform="rotate(-52 587.2 97.6)"/><ellipse cx="590.5" cy="75.9" rx="3.1" ry="2.0" transform="rotate(-78 590.5 75.9)"/><ellipse cx="565.6" cy="89.2" rx="3.2" ry="0.9" transform="rotate(-67 565.6 89.2)"/><ellipse cx="602.6" cy="93.5" rx="1.8" ry="1.3" transform="rotate(-55 602.6 93.5)"/><ellipse cx="595.0" cy="81.8" rx="2.8" ry="1.0" transform="rotate(-73 595.0 81.8)"/><ellipse cx="590.0" cy="71.0" rx="1.7" ry="1.4" transform="rotate(-65 590.0 71.0)"/><ellipse cx="609.3" cy="72.4" rx="1.4" ry="1.0" transform="rotate(-61 609.3 72.4)"/><ellipse cx="559.6" cy="94.7" rx="2.2" ry="1.3" transform="rotate(-48 559.6 94.7)"/><ellipse cx="549.2" cy="82.0" rx="2.5" ry="1.5" transform="rotate(-69 549.2 82.0)"/><ellipse cx="576.9" cy="93.3" rx="2.6" ry="1.0" transform="rotate(-79 576.9 93.3)"/><ellipse cx="567.3" cy="80.6" rx="1.2" ry="1.1" transform="rotate(-42 567.3 80.6)"/><ellipse cx="573.7" cy="92.1" rx="2.9" ry="1.7" transform="rotate(-41 573.7 92.1)"/><ellipse cx="610.5" cy="60.9" rx="2.4" ry="1.1" transform="rotate(-64 610.5 60.9)"/><ellipse cx="592.3" cy="92.4" rx="1.9" ry="1.6" transform="rotate(-66 592.3 92.4)"/><ellipse cx="610.2" cy="72.9" rx="1.4" ry="1.2" transform="rotate(-50 610.2 72.9)"/><ellipse cx="598.5" cy="81.8" rx="2.6" ry="1.0" transform="rotate(-76 598.5 81.8)"/><ellipse cx="574.0" cy="72.9" rx="2.3" ry="1.9" transform="rotate(-72 574.0 72.9)"/><ellipse cx="568.1" cy="90.2" rx="1.4" ry="2.0" transform="rotate(-63 568.1 90.2)"/><ellipse cx="560.8" cy="76.3" rx="2.6" ry="1.0" transform="rotate(-69 560.8 76.3)"/><ellipse cx="613.2" cy="72.9" rx="1.6" ry="1.2" transform="rotate(-40 613.2 72.9)"/><ellipse cx="589.4" cy="95.5" rx="2.9" ry="1.6" transform="rotate(-60 589.4 95.5)"/><ellipse cx="553.2" cy="93.5" rx="2.6" ry="1.3" transform="rotate(-53 553.2 93.5)"/><ellipse cx="588.2" cy="82.9" rx="2.2" ry="0.8" transform="rotate(-55 588.2 82.9)"/><ellipse cx="587.7" cy="83.8" rx="3.1" ry="1.0" transform="rotate(-61 587.7 83.8)"/><ellipse cx="598.1" cy="72.5" rx="2.7" ry="2.0" transform="rotate(-64 598.1 72.5)"/><ellipse cx="554.1" cy="99.6" rx="2.2" ry="1.1" transform="rotate(-46 554.1 99.6)"/><ellipse cx="602.4" cy="80.5" rx="3.2" ry="0.9" transform="rotate(-45 602.4 80.5)"/><ellipse cx="563.1" cy="92.3" rx="2.1" ry="1.4" transform="rotate(-45 563.1 92.3)"/><ellipse cx="565.1" cy="85.7" rx="1.3" ry="1.5" transform="rotate(-49 565.1 85.7)"/><ellipse cx="562.4" cy="92.0" rx="2.9" ry="1.7" transform="rotate(-58 562.4 92.0)"/><ellipse cx="547.6" cy="73.8" rx="2.9" ry="1.8" transform="rotate(-75 547.6 73.8)"/><ellipse cx="573.0" cy="94.0" rx="2.4" ry="1.9" transform="rotate(-77 573.0 94.0)"/><ellipse cx="559.9" cy="85.2" rx="3.0" ry="1.7" transform="rotate(-72 559.9 85.2)"/><ellipse cx="590.3" cy="71.1" rx="2.4" ry="1.6" transform="rotate(-73 590.3 71.1)"/><ellipse cx="598.0" cy="74.4" rx="1.8" ry="1.3" transform="rotate(-74 598.0 74.4)"/><ellipse cx="575.6" cy="92.8" rx="2.0" ry="1.3" transform="rotate(-60 575.6 92.8)"/><ellipse cx="569.9" cy="88.1" rx="1.7" ry="1.5" transform="rotate(-69 569.9 88.1)"/><ellipse cx="565.6" cy="94.2" rx="2.6" ry="1.3" transform="rotate(-43 565.6 94.2)"/><ellipse cx="598.5" cy="84.1" rx="2.1" ry="0.9" transform="rotate(-63 598.5 84.1)"/><ellipse cx="576.7" cy="98.2" rx="1.8" ry="1.6" transform="rotate(-53 576.7 98.2)"/><ellipse cx="609.5" cy="70.1" rx="2.0" ry="1.2" transform="rotate(-47 609.5 70.1)"/><ellipse cx="587.5" cy="81.8" rx="1.4" ry="1.9" transform="rotate(-76 587.5 81.8)"/><ellipse cx="572.0" cy="88.9" rx="2.5" ry="1.2" transform="rotate(-44 572.0 88.9)"/><ellipse cx="546.7" cy="85.3" rx="2.1" ry="1.2" transform="rotate(-61 546.7 85.3)"/><ellipse cx="593.3" cy="84.2" rx="3.1" ry="2.0" transform="rotate(-40 593.3 84.2)"/><ellipse cx="604.7" cy="86.0" rx="2.6" ry="2.0" transform="rotate(-77 604.7 86.0)"/><ellipse cx="573.9" cy="86.2" rx="1.6" ry="2.0" transform="rotate(-72 573.9 86.2)"/><ellipse cx="555.3" cy="75.8" rx="2.7" ry="0.9" transform="rotate(-73 555.3 75.8)"/><ellipse cx="589.9" cy="89.7" rx="1.7" ry="1.8" transform="rotate(-51 589.9 89.7)"/><ellipse cx="553.6" cy="78.7" rx="1.2" ry="1.8" transform="rotate(-42 553.6 78.7)"/><ellipse cx="583.6" cy="81.3" rx="1.4" ry="1.7" transform="rotate(-68 583.6 81.3)"/><ellipse cx="554.0" cy="82.7" rx="1.5" ry="0.9" transform="rotate(-60 554.0 82.7)"/><ellipse cx="601.0" cy="69.9" rx="2.0" ry="0.9" transform="rotate(-71 601.0 69.9)"/><ellipse cx="585.2" cy="78.4" rx="2.9" ry="0.9" transform="rotate(-46 585.2 78.4)"/><ellipse cx="556.1" cy="92.7" rx="2.7" ry="1.7" transform="rotate(-74 556.1 92.7)"/><ellipse cx="566.7" cy="98.6" rx="2.5" ry="1.8" transform="rotate(-78 566.7 98.6)"/><ellipse cx="550.6" cy="70.4" rx="1.4" ry="1.9" transform="rotate(-67 550.6 70.4)"/><ellipse cx="592.1" cy="95.5" rx="3.1" ry="1.5" transform="rotate(-60 592.1 95.5)"/><ellipse cx="573.4" cy="72.0" rx="2.7" ry="1.1" transform="rotate(-65 573.4 72.0)"/><ellipse cx="579.3" cy="74.3" rx="2.1" ry="1.3" transform="rotate(-78 579.3 74.3)"/><ellipse cx="549.4" cy="81.1" rx="2.3" ry="1.3" transform="rotate(-71 549.4 81.1)"/><ellipse cx="599.0" cy="79.5" rx="1.2" ry="1.3" transform="rotate(-41 599.0 79.5)"/><ellipse cx="588.9" cy="83.6" rx="1.8" ry="1.4" transform="rotate(-59 588.9 83.6)"/><ellipse cx="602.3" cy="77.0" rx="2.9" ry="1.3" transform="rotate(-69 602.3 77.0)"/><ellipse cx="604.9" cy="73.1" rx="1.8" ry="1.8" transform="rotate(-48 604.9 73.1)"/><ellipse cx="548.5" cy="85.0" rx="2.3" ry="1.9" transform="rotate(-54 548.5 85.0)"/><ellipse cx="598.1" cy="76.7" rx="2.6" ry="2.0" transform="rotate(-43 598.1 76.7)"/><ellipse cx="577.2" cy="77.5" rx="1.4" ry="1.2" transform="rotate(-51 577.2 77.5)"/><ellipse cx="553.2" cy="64.7" rx="1.8" ry="1.9" transform="rotate(-58 553.2 64.7)"/><ellipse cx="560.2" cy="76.6" rx="2.3" ry="1.8" transform="rotate(-75 560.2 76.6)"/><ellipse cx="576.1" cy="75.1" rx="2.5" ry="1.9" transform="rotate(-60 576.1 75.1)"/><ellipse cx="572.9" cy="91.1" rx="1.4" ry="1.7" transform="rotate(-73 572.9 91.1)"/><ellipse cx="559.6" cy="73.9" rx="1.5" ry="1.2" transform="rotate(-56 559.6 73.9)"/><ellipse cx="573.0" cy="83.0" rx="2.9" ry="1.2" transform="rotate(-57 573.0 83.0)"/><ellipse cx="595.2" cy="69.3" rx="1.7" ry="1.7" transform="rotate(-57 595.2 69.3)"/><ellipse cx="549.6" cy="93.0" rx="2.0" ry="1.7" transform="rotate(-63 549.6 93.0)"/><ellipse cx="585.3" cy="99.0" rx="3.0" ry="1.3" transform="rotate(-61 585.3 99.0)"/><ellipse cx="567.1" cy="93.9" rx="1.3" ry="1.6" transform="rotate(-57 567.1 93.9)"/><ellipse cx="601.5" cy="68.7" rx="1.6" ry="1.4" transform="rotate(-56 601.5 68.7)"/><ellipse cx="594.6" cy="74.6" rx="3.1" ry="1.7" transform="rotate(-68 594.6 74.6)"/><ellipse cx="597.3" cy="70.6" rx="1.7" ry="0.8" transform="rotate(-59 597.3 70.6)"/><ellipse cx="554.5" cy="79.4" rx="1.7" ry="1.1" transform="rotate(-69 554.5 79.4)"/><ellipse cx="607.9" cy="66.4" rx="2.9" ry="1.8" transform="rotate(-56 607.9 66.4)"/><ellipse cx="597.8" cy="81.4" rx="2.5" ry="1.9" transform="rotate(-49 597.8 81.4)"/><ellipse cx="548.9" cy="97.5" rx="1.9" ry="1.7" transform="rotate(-71 548.9 97.5)"/><ellipse cx="571.7" cy="89.2" rx="3.1" ry="1.4" transform="rotate(-57 571.7 89.2)"/><ellipse cx="561.7" cy="98.0" rx="1.4" ry="1.9" transform="rotate(-54 561.7 98.0)"/><ellipse cx="547.1" cy="82.8" rx="3.2" ry="1.6" transform="rotate(-46 547.1 82.8)"/><ellipse cx="582.9" cy="74.2" rx="2.2" ry="1.0" transform="rotate(-52 582.9 74.2)"/><ellipse cx="580.1" cy="82.3" rx="3.1" ry="1.5" transform="rotate(-75 580.1 82.3)"/><ellipse cx="569.2" cy="88.1" rx="3.1" ry="2.0" transform="rotate(-42 569.2 88.1)"/><ellipse cx="606.8" cy="97.4" rx="1.2" ry="1.4" transform="rotate(-56 606.8 97.4)"/><ellipse cx="589.1" cy="84.5" rx="3.1" ry="0.9" transform="rotate(-59 589.1 84.5)"/><ellipse cx="604.7" cy="87.5" rx="2.2" ry="1.5" transform="rotate(-50 604.7 87.5)"/><ellipse cx="605.0" cy="76.3" rx="1.9" ry="1.2" transform="rotate(-79 605.0 76.3)"/><ellipse cx="563.9" cy="83.4" rx="2.3" ry="1.2" transform="rotate(-53 563.9 83.4)"/><ellipse cx="561.9" cy="95.3" rx="1.6" ry="1.0" transform="rotate(-70 561.9 95.3)"/><ellipse cx="601.4" cy="73.3" rx="1.7" ry="1.6" transform="rotate(-70 601.4 73.3)"/><ellipse cx="563.4" cy="95.1" rx="1.6" ry="1.1" transform="rotate(-68 563.4 95.1)"/><ellipse cx="597.3" cy="87.0" rx="2.8" ry="1.4" transform="rotate(-77 597.3 87.0)"/><ellipse cx="571.7" cy="74.3" rx="3.0" ry="2.0" transform="rotate(-65 571.7 74.3)"/><ellipse cx="587.7" cy="89.7" rx="2.2" ry="1.8" transform="rotate(-79 587.7 89.7)"/><ellipse cx="610.8" cy="65.7" rx="1.6" ry="1.9" transform="rotate(-42 610.8 65.7)"/><ellipse cx="569.6" cy="97.2" rx="1.5" ry="1.7" transform="rotate(-42 569.6 97.2)"/><ellipse cx="554.8" cy="87.1" rx="3.0" ry="1.7" transform="rotate(-42 554.8 87.1)"/><ellipse cx="564.7" cy="97.6" rx="1.3" ry="1.0" transform="rotate(-66 564.7 97.6)"/><ellipse cx="583.9" cy="82.7" rx="2.7" ry="1.4" transform="rotate(-42 583.9 82.7)"/><ellipse cx="611.5" cy="80.2" rx="1.5" ry="1.2" transform="rotate(-57 611.5 80.2)"/><ellipse cx="578.1" cy="84.1" rx="2.9" ry="1.4" transform="rotate(-72 578.1 84.1)"/><ellipse cx="599.9" cy="76.0" rx="1.3" ry="1.0" transform="rotate(-73 599.9 76.0)"/><ellipse cx="560.8" cy="92.0" rx="2.2" ry="1.6" transform="rotate(-61 560.8 92.0)"/><ellipse cx="548.0" cy="70.4" rx="2.4" ry="1.2" transform="rotate(-61 548.0 70.4)"/><ellipse cx="608.6" cy="83.2" rx="2.0" ry="1.4" transform="rotate(-62 608.6 83.2)"/><ellipse cx="610.8" cy="69.3" rx="3.1" ry="1.8" transform="rotate(-45 610.8 69.3)"/><ellipse cx="597.1" cy="69.4" rx="2.4" ry="1.0" transform="rotate(-42 597.1 69.4)"/><ellipse cx="552.0" cy="87.5" rx="1.9" ry="1.5" transform="rotate(-60 552.0 87.5)"/><ellipse cx="582.0" cy="75.2" rx="1.2" ry="1.4" transform="rotate(-69 582.0 75.2)"/><ellipse cx="590.5" cy="78.5" rx="1.4" ry="1.4" transform="rotate(-61 590.5 78.5)"/><ellipse cx="602.6" cy="69.4" rx="2.9" ry="1.8" transform="rotate(-70 602.6 69.4)"/><ellipse cx="620.6" cy="85.4" rx="2.3" ry="1.9" transform="rotate(-60 620.6 85.4)"/><ellipse cx="620.3" cy="82.4" rx="2.9" ry="1.4" transform="rotate(-66 620.3 82.4)"/><ellipse cx="616.6" cy="80.7" rx="2.9" ry="1.8" transform="rotate(-41 616.6 80.7)"/><ellipse cx="624.4" cy="91.7" rx="2.8" ry="1.8" transform="rotate(-73 624.4 91.7)"/><ellipse cx="624.6" cy="82.7" rx="1.7" ry="1.9" transform="rotate(-79 624.6 82.7)"/><ellipse cx="620.7" cy="83.5" rx="2.8" ry="1.5" transform="rotate(-44 620.7 83.5)"/><ellipse cx="614.8" cy="90.7" rx="1.4" ry="2.0" transform="rotate(-45 614.8 90.7)"/><ellipse cx="618.0" cy="80.1" rx="2.6" ry="1.7" transform="rotate(-41 618.0 80.1)"/><ellipse cx="622.1" cy="78.8" rx="2.7" ry="0.9" transform="rotate(-45 622.1 78.8)"/><ellipse cx="624.0" cy="93.3" rx="2.9" ry="1.5" transform="rotate(-42 624.0 93.3)"/><ellipse cx="622.3" cy="86.8" rx="2.0" ry="1.2" transform="rotate(-79 622.3 86.8)"/><ellipse cx="616.1" cy="93.5" rx="1.7" ry="1.6" transform="rotate(-49 616.1 93.5)"/><ellipse cx="623.0" cy="87.3" rx="1.8" ry="1.1" transform="rotate(-73 623.0 87.3)"/><ellipse cx="622.4" cy="91.1" rx="3.1" ry="1.2" transform="rotate(-43 622.4 91.1)"/><ellipse cx="625.8" cy="82.4" rx="3.1" ry="1.5" transform="rotate(-41 625.8 82.4)"/><ellipse cx="624.1" cy="83.3" rx="1.8" ry="1.4" transform="rotate(-60 624.1 83.3)"/><ellipse cx="621.0" cy="86.4" rx="2.7" ry="1.1" transform="rotate(-72 621.0 86.4)"/><ellipse cx="621.6" cy="81.3" rx="1.9" ry="0.9" transform="rotate(-78 621.6 81.3)"/><ellipse cx="618.6" cy="87.6" rx="3.1" ry="1.6" transform="rotate(-63 618.6 87.6)"/><ellipse cx="619.3" cy="81.2" rx="2.1" ry="2.0" transform="rotate(-75 619.3 81.2)"/><ellipse cx="619.6" cy="91.1" rx="2.7" ry="1.5" transform="rotate(-54 619.6 91.1)"/><ellipse cx="617.3" cy="87.9" rx="3.2" ry="1.4" transform="rotate(-72 617.3 87.9)"/><ellipse cx="624.0" cy="77.3" rx="1.5" ry="1.5" transform="rotate(-69 624.0 77.3)"/><ellipse cx="623.4" cy="92.0" rx="1.8" ry="1.7" transform="rotate(-54 623.4 92.0)"/><ellipse cx="623.2" cy="86.0" rx="2.1" ry="0.9" transform="rotate(-61 623.2 86.0)"/><ellipse cx="617.5" cy="91.3" rx="2.1" ry="1.0" transform="rotate(-63 617.5 91.3)"/><ellipse cx="621.5" cy="92.4" rx="2.0" ry="1.6" transform="rotate(-53 621.5 92.4)"/><ellipse cx="622.0" cy="77.0" rx="2.6" ry="1.0" transform="rotate(-78 622.0 77.0)"/><ellipse cx="620.2" cy="76.4" rx="1.3" ry="1.3" transform="rotate(-61 620.2 76.4)"/><ellipse cx="625.1" cy="86.7" rx="2.4" ry="1.2" transform="rotate(-41 625.1 86.7)"/><ellipse cx="615.6" cy="82.7" rx="1.6" ry="1.8" transform="rotate(-60 615.6 82.7)"/><ellipse cx="619.3" cy="84.8" rx="3.0" ry="1.1" transform="rotate(-48 619.3 84.8)"/><ellipse cx="623.2" cy="85.9" rx="1.9" ry="1.3" transform="rotate(-62 623.2 85.9)"/><ellipse cx="618.1" cy="89.7" rx="2.0" ry="1.2" transform="rotate(-49 618.1 89.7)"/><ellipse cx="619.9" cy="86.4" rx="3.0" ry="1.3" transform="rotate(-65 619.9 86.4)"/><ellipse cx="658.0" cy="45.6" rx="2.5" ry="1.7" transform="rotate(-68 658.0 45.6)"/><ellipse cx="656.2" cy="49.4" rx="2.1" ry="1.6" transform="rotate(-71 656.2 49.4)"/><ellipse cx="657.8" cy="47.5" rx="3.2" ry="1.2" transform="rotate(-52 657.8 47.5)"/><ellipse cx="647.2" cy="45.8" rx="2.7" ry="1.1" transform="rotate(-55 647.2 45.8)"/><ellipse cx="650.1" cy="45.6" rx="3.2" ry="1.0" transform="rotate(-43 650.1 45.6)"/><ellipse cx="647.8" cy="48.2" rx="2.8" ry="1.8" transform="rotate(-64 647.8 48.2)"/><ellipse cx="655.3" cy="50.0" rx="2.7" ry="1.7" transform="rotate(-57 655.3 50.0)"/><ellipse cx="650.5" cy="49.9" rx="2.3" ry="1.5" transform="rotate(-41 650.5 49.9)"/><ellipse cx="648.9" cy="50.9" rx="1.8" ry="1.7" transform="rotate(-42 648.9 50.9)"/><ellipse cx="650.8" cy="47.9" rx="2.3" ry="1.4" transform="rotate(-73 650.8 47.9)"/><ellipse cx="655.8" cy="52.5" rx="2.5" ry="1.1" transform="rotate(-48 655.8 52.5)"/><ellipse cx="652.9" cy="42.0" rx="2.4" ry="1.4" transform="rotate(-59 652.9 42.0)"/><ellipse cx="660.9" cy="48.0" rx="3.1" ry="1.2" transform="rotate(-50 660.9 48.0)"/><ellipse cx="656.7" cy="49.7" rx="2.9" ry="1.3" transform="rotate(-69 656.7 49.7)"/><ellipse cx="652.0" cy="47.5" rx="1.2" ry="1.2" transform="rotate(-54 652.0 47.5)"/><ellipse cx="649.1" cy="44.4" rx="2.9" ry="1.9" transform="rotate(-70 649.1 44.4)"/><ellipse cx="648.2" cy="51.1" rx="2.7" ry="1.1" transform="rotate(-60 648.2 51.1)"/><ellipse cx="658.5" cy="52.0" rx="1.6" ry="1.6" transform="rotate(-52 658.5 52.0)"/><ellipse cx="651.7" cy="52.3" rx="1.6" ry="1.4" transform="rotate(-67 651.7 52.3)"/><ellipse cx="653.2" cy="51.4" rx="2.3" ry="1.5" transform="rotate(-41 653.2 51.4)"/><ellipse cx="650.1" cy="43.1" rx="2.4" ry="1.0" transform="rotate(-41 650.1 43.1)"/><ellipse cx="651.8" cy="46.2" rx="2.1" ry="1.8" transform="rotate(-43 651.8 46.2)"/><ellipse cx="656.5" cy="42.4" rx="1.9" ry="1.6" transform="rotate(-71 656.5 42.4)"/><ellipse cx="650.2" cy="45.1" rx="1.7" ry="1.7" transform="rotate(-78 650.2 45.1)"/><ellipse cx="646.2" cy="61.4" rx="2.9" ry="1.5" transform="rotate(-57 646.2 61.4)"/><ellipse cx="644.6" cy="61.3" rx="1.9" ry="2.0" transform="rotate(-56 644.6 61.3)"/><ellipse cx="646.6" cy="61.4" rx="1.4" ry="0.8" transform="rotate(-52 646.6 61.4)"/><ellipse cx="644.8" cy="62.9" rx="2.5" ry="1.6" transform="rotate(-67 644.8 62.9)"/><ellipse cx="645.6" cy="63.0" rx="2.3" ry="1.2" transform="rotate(-66 645.6 63.0)"/></g>
<g fill="none" stroke="#4a4a4a" stroke-width="0.6"><ellipse cx="590.8" cy="83.6" rx="1.0" ry="1.2"/><ellipse cx="553.7" cy="69.6" rx="1.2" ry="1.4"/><ellipse cx="558.7" cy="70.7" rx="1.2" ry="1.3"/><ellipse cx="594.5" cy="80.6" rx="1.2" ry="0.9"/><ellipse cx="595.8" cy="80.9" rx="1.8" ry="1.0"/><ellipse cx="552.2" cy="75.9" rx="1.8" ry="0.9"/><ellipse cx="604.4" cy="87.7" rx="1.3" ry="1.4"/><ellipse cx="574.0" cy="91.7" rx="2.0" ry="1.5"/><ellipse cx="580.4" cy="70.8" rx="1.2" ry="1.0"/><ellipse cx="610.2" cy="65.0" rx="1.8" ry="0.9"/><ellipse cx="569.3" cy="80.1" rx="1.2" ry="1.2"/><ellipse cx="599.8" cy="77.4" rx="1.7" ry="1.5"/><ellipse cx="564.0" cy="89.7" rx="1.4" ry="1.5"/><ellipse cx="589.7" cy="78.9" rx="1.5" ry="1.0"/><ellipse cx="562.0" cy="98.9" rx="1.6" ry="0.9"/><ellipse cx="561.4" cy="74.2" rx="1.8" ry="1.0"/><ellipse cx="550.3" cy="73.1" rx="1.4" ry="0.9"/><ellipse cx="583.7" cy="90.4" rx="1.4" ry="0.9"/><ellipse cx="605.8" cy="92.8" rx="2.0" ry="1.3"/><ellipse cx="608.0" cy="71.0" rx="1.5" ry="1.2"/><ellipse cx="597.8" cy="74.1" rx="1.2" ry="1.1"/><ellipse cx="604.9" cy="82.0" rx="1.9" ry="1.1"/><ellipse cx="560.5" cy="81.7" rx="2.0" ry="1.6"/><ellipse cx="559.4" cy="77.8" rx="1.6" ry="1.1"/><ellipse cx="583.8" cy="82.6" rx="1.7" ry="1.3"/><ellipse cx="560.4" cy="84.5" rx="1.9" ry="1.5"/><ellipse cx="578.5" cy="90.6" rx="1.4" ry="1.3"/><ellipse cx="614.7" cy="62.7" rx="1.0" ry="1.0"/><ellipse cx="607.2" cy="67.6" rx="1.8" ry="1.4"/><ellipse cx="575.0" cy="96.4" rx="1.8" ry="1.4"/><ellipse cx="550.6" cy="94.2" rx="1.0" ry="0.9"/><ellipse cx="548.9" cy="75.2" rx="1.2" ry="1.3"/><ellipse cx="599.0" cy="79.9" rx="1.1" ry="0.9"/><ellipse cx="565.8" cy="89.2" rx="1.4" ry="1.0"/><ellipse cx="596.7" cy="80.8" rx="1.5" ry="0.9"/><ellipse cx="575.4" cy="91.6" rx="1.4" ry="1.4"/><ellipse cx="567.4" cy="81.8" rx="1.8" ry="1.4"/><ellipse cx="575.5" cy="91.7" rx="1.7" ry="1.0"/><ellipse cx="597.9" cy="81.6" rx="1.0" ry="1.2"/><ellipse cx="613.8" cy="72.4" rx="1.6" ry="1.0"/><ellipse cx="591.1" cy="71.0" rx="1.1" ry="0.9"/><ellipse cx="587.1" cy="78.5" rx="1.4" ry="1.3"/><ellipse cx="548.9" cy="80.4" rx="1.5" ry="1.0"/><ellipse cx="599.3" cy="81.3" rx="1.4" ry="1.3"/><ellipse cx="550.2" cy="86.0" rx="1.6" ry="0.8"/><ellipse cx="599.2" cy="76.5" rx="1.8" ry="1.1"/><ellipse cx="575.7" cy="78.8" rx="1.7" ry="1.2"/><ellipse cx="602.5" cy="69.1" rx="1.9" ry="1.5"/><ellipse cx="563.3" cy="96.4" rx="1.6" ry="0.9"/><ellipse cx="572.9" cy="75.4" rx="1.3" ry="1.4"/><ellipse cx="563.9" cy="96.3" rx="1.1" ry="1.2"/><ellipse cx="582.8" cy="81.0" rx="1.3" ry="1.4"/><ellipse cx="610.8" cy="71.3" rx="1.3" ry="0.9"/></g>
<circle cx="555" cy="38" r="0.7" fill="#22e896"/>
<circle cx="575" cy="34" r="0.7" fill="#22e896"/>
<circle cx="602" cy="24" r="0.7" fill="#22e896"/>
<circle cx="601.5" cy="29" r="0.7" fill="#22e896"/>
<circle cx="602.5" cy="33" r="0.7" fill="#22e896"/>
<circle cx="601" cy="38" r="0.7" fill="#22e896"/>
<circle cx="603" cy="43" r="0.7" fill="#22e896"/>
<circle cx="603.5" cy="47" r="0.7" fill="#22e896"/>
<circle cx="612" cy="36" r="0.7" fill="#22e896"/>
<circle cx="632" cy="48" r="0.7" fill="#22e896"/>
<circle cx="641" cy="70" r="0.7" fill="#22e896"/>
<circle cx="604" cy="108" r="0.7" fill="#22e896"/>
<circle cx="596" cy="131" r="0.7" fill="#22e896"/>
<circle cx="583" cy="128" r="0.7" fill="#22e896"/>
<circle cx="612" cy="122" r="0.7" fill="#22e896"/>
<circle cx="632" cy="92" r="0.7" fill="#22e896"/>
<circle cx="642" cy="114" r="0.7" fill="#22e896"/>
<circle cx="538" cy="110" r="0.7" fill="#22e896"/>
<circle cx="600" cy="139" r="0.7" fill="#22e896"/>
<circle cx="620" cy="136" r="0.7" fill="#22e896"/>
<circle cx="616" cy="119" r="0.7" fill="#22e896"/>
<circle cx="625" cy="133" r="0.7" fill="#22e896"/>
<circle cx="681" cy="24" r="0.7" fill="#22e896"/>
<g><rect x="580.10" y="45.75" width="2.64" height="4.81" rx="1.1" transform="rotate(0 581.42 48.15)" fill="#909090" stroke="#3a3a3a" stroke-width="0.65"/><rect x="600.90" y="56.53" width="3.30" height="3.70" rx="1.1" transform="rotate(0 602.55 58.38)" fill="#909090" stroke="#3a3a3a" stroke-width="0.65"/><rect x="587.82" y="55.45" width="3.30" height="3.70" rx="1.1" transform="rotate(0 589.47 57.30)" fill="#909090" stroke="#3a3a3a" stroke-width="0.65"/><rect x="577.75" y="60.58" width="2.31" height="2.59" rx="1.1" transform="rotate(0 578.91 61.87)" fill="#909090" stroke="#3a3a3a" stroke-width="0.65"/><rect x="570.05" y="65.76" width="3.63" height="4.07" rx="1.1" transform="rotate(0 571.87 67.79)" fill="#909090" stroke="#3a3a3a" stroke-width="0.65"/><rect x="583.47" y="62.36" width="3.96" height="3.33" rx="1.1" transform="rotate(0 585.45 64.03)" fill="#909090" stroke="#3a3a3a" stroke-width="0.65"/><rect x="615.99" y="62.18" width="3.30" height="3.70" rx="1.1" transform="rotate(0 617.64 64.03)" fill="#909090" stroke="#3a3a3a" stroke-width="0.65"/><rect x="623.53" y="60.02" width="3.30" height="3.70" rx="1.1" transform="rotate(0 625.18 61.87)" fill="#909090" stroke="#3a3a3a" stroke-width="0.65"/><rect x="662.59" y="38.22" width="2.64" height="4.81" rx="1.1" transform="rotate(0 663.91 40.62)" fill="#909090" stroke="#3a3a3a" stroke-width="0.65"/><rect x="668.46" y="45.85" width="1.98" height="4.07" rx="1.1" transform="rotate(25 669.45 47.88)" fill="#909090" stroke="#3a3a3a" stroke-width="0.65"/><rect x="664.10" y="60.12" width="2.64" height="2.96" rx="1.1" transform="rotate(0 665.42 61.60)" fill="#909090" stroke="#3a3a3a" stroke-width="0.65"/><rect x="651.70" y="48.99" width="3.30" height="3.70" rx="1.1" transform="rotate(0 653.35 50.84)" fill="#909090" stroke="#3a3a3a" stroke-width="0.65"/><rect x="647.84" y="44.07" width="2.97" height="3.33" rx="1.1" transform="rotate(0 649.33 45.73)" fill="#909090" stroke="#3a3a3a" stroke-width="0.65"/><rect x="652.03" y="38.60" width="2.64" height="2.96" rx="1.1" transform="rotate(0 653.35 40.08)" fill="#909090" stroke="#3a3a3a" stroke-width="0.65"/><rect x="645.49" y="61.54" width="2.64" height="4.44" rx="1.1" transform="rotate(0 646.81 63.76)" fill="#909090" stroke="#3a3a3a" stroke-width="0.65"/><rect x="623.86" y="78.72" width="2.64" height="6.66" rx="1.1" transform="rotate(0 625.18 82.05)" fill="#909090" stroke="#3a3a3a" stroke-width="0.65"/><rect x="616.99" y="93.38" width="3.30" height="3.70" rx="1.1" transform="rotate(0 618.64 95.23)" fill="#909090" stroke="#3a3a3a" stroke-width="0.65"/><rect x="607.94" y="93.38" width="3.30" height="3.70" rx="1.1" transform="rotate(0 609.59 95.23)" fill="#909090" stroke="#3a3a3a" stroke-width="0.65"/><rect x="545.40" y="79.47" width="3.63" height="4.07" rx="1.1" transform="rotate(0 547.22 81.51)" fill="#909090" stroke="#3a3a3a" stroke-width="0.65"/><rect x="548.08" y="68.09" width="3.30" height="3.70" rx="1.1" transform="rotate(0 549.73 69.94)" fill="#909090" stroke="#3a3a3a" stroke-width="0.65"/><rect x="599.39" y="117.76" width="3.30" height="4.44" rx="1.1" transform="rotate(20 601.04 119.98)" fill="#909090" stroke="#3a3a3a" stroke-width="0.65"/><rect x="559.65" y="118.50" width="3.30" height="2.96" rx="1.1" transform="rotate(30 561.30 119.98)" fill="#909090" stroke="#3a3a3a" stroke-width="0.65"/><rect x="646.00" y="118.50" width="2.64" height="2.96" rx="1.1" transform="rotate(0 647.32 119.98)" fill="#909090" stroke="#3a3a3a" stroke-width="0.65"/><rect x="680.70" y="82.45" width="2.64" height="2.96" rx="1.1" transform="rotate(0 682.02 83.93)" fill="#909090" stroke="#3a3a3a" stroke-width="0.65"/><rect x="679.19" y="71.61" width="2.64" height="2.59" rx="1.1" transform="rotate(0 680.51 72.90)" fill="#909090" stroke="#3a3a3a" stroke-width="0.65"/><rect x="680.03" y="95.20" width="2.97" height="2.22" rx="1.1" transform="rotate(-20 681.52 96.31)" fill="#909090" stroke="#3a3a3a" stroke-width="0.65"/><rect x="559.31" y="89.26" width="2.97" height="3.33" rx="1.1" transform="rotate(0 560.80 90.92)" fill="#909090" stroke="#3a3a3a" stroke-width="0.65"/><rect x="562.84" y="95.18" width="2.97" height="3.33" rx="1.1" transform="rotate(0 564.32 96.84)" fill="#909090" stroke="#3a3a3a" stroke-width="0.65"/><rect x="551.77" y="95.18" width="2.97" height="3.33" rx="1.1" transform="rotate(0 553.25 96.84)" fill="#909090" stroke="#3a3a3a" stroke-width="0.65"/><ellipse cx="564.32" cy="73.44" rx="1.53" ry="1.44" fill="none" stroke="#4a4a4a" stroke-width="0.7"/><ellipse cx="571.87" cy="72.09" rx="1.53" ry="1.44" fill="none" stroke="#4a4a4a" stroke-width="0.7"/><ellipse cx="594.50" cy="81.51" rx="1.70" ry="1.60" fill="none" stroke="#4a4a4a" stroke-width="0.7"/><ellipse cx="584.44" cy="86.89" rx="1.70" ry="1.60" fill="none" stroke="#4a4a4a" stroke-width="0.7"/><ellipse cx="602.05" cy="77.47" rx="1.70" ry="1.92" fill="none" stroke="#4a4a4a" stroke-width="0.7"/><ellipse cx="612.11" cy="84.20" rx="1.70" ry="1.92" fill="none" stroke="#4a4a4a" stroke-width="0.7"/><ellipse cx="589.47" cy="73.44" rx="1.70" ry="1.60" fill="none" stroke="#4a4a4a" stroke-width="0.7"/><ellipse cx="576.90" cy="80.16" rx="1.70" ry="1.60" fill="none" stroke="#4a4a4a" stroke-width="0.7"/><ellipse cx="569.35" cy="85.54" rx="1.70" ry="1.60" fill="none" stroke="#4a4a4a" stroke-width="0.7"/><ellipse cx="607.08" cy="69.41" rx="1.70" ry="1.60" fill="none" stroke="#4a4a4a" stroke-width="0.7"/><ellipse cx="597.02" cy="92.27" rx="1.70" ry="1.60" fill="none" stroke="#4a4a4a" stroke-width="0.7"/><ellipse cx="579.41" cy="96.31" rx="1.70" ry="1.60" fill="none" stroke="#4a4a4a" stroke-width="0.7"/><ellipse cx="615.63" cy="76.13" rx="1.70" ry="2.08" fill="none" stroke="#4a4a4a" stroke-width="0.7"/><ellipse cx="622.17" cy="88.23" rx="1.70" ry="2.40" fill="none" stroke="#4a4a4a" stroke-width="0.7"/><ellipse cx="614.62" cy="66.72" rx="1.53" ry="1.44" fill="none" stroke="#4a4a4a" stroke-width="0.7"/><ellipse cx="581.93" cy="65.37" rx="1.36" ry="1.28" fill="none" stroke="#4a4a4a" stroke-width="0.7"/><ellipse cx="594.50" cy="97.11" rx="1.36" ry="1.28" fill="none" stroke="#4a4a4a" stroke-width="0.7"/><ellipse cx="682.53" cy="51.92" rx="0.85" ry="0.80" fill="none" stroke="#4a4a4a" stroke-width="0.7"/></g>
<line x1="581.5" y1="42" x2="581" y2="45" stroke="#222" stroke-width="0.55"/>
<text x="583.1" y="41.300000000000004" font-family="Liberation Sans" font-weight="bold" font-size="6.2" text-anchor="middle" fill="#1a1a1a">T93</text>
<text x="589" y="50.7" font-family="Liberation Sans" font-weight="bold" font-size="6.2" text-anchor="middle" fill="#1a1a1a">Y34</text>
<line x1="602.3" y1="51" x2="602.5" y2="54.5" stroke="#222" stroke-width="0.55"/>
<text x="602.2" y="50.5" font-family="Liberation Sans" font-weight="bold" font-size="6.2" text-anchor="middle" fill="#1a1a1a">H92</text>
<line x1="552.5" y1="63.5" x2="556" y2="71" stroke="#222" stroke-width="0.55"/>
<text x="550.9" y="63.1" font-family="Liberation Sans" font-weight="bold" font-size="6.2" text-anchor="middle" fill="#1a1a1a">V87</text>
<line x1="564" y1="63.5" x2="569" y2="71" stroke="#222" stroke-width="0.55"/>
<text x="563.1" y="63.1" font-family="Liberation Sans" font-weight="bold" font-size="6.2" text-anchor="middle" fill="#1a1a1a">I21</text>
<line x1="575.5" y1="60.5" x2="574" y2="63.5" stroke="#222" stroke-width="0.55"/>
<text x="576.2" y="60.1" font-family="Liberation Sans" font-weight="bold" font-size="6.2" text-anchor="middle" fill="#1a1a1a">T26</text>
<line x1="546" y1="70.1" x2="548.5" y2="70.1" stroke="#222" stroke-width="0.55"/>
<text x="542.4" y="72.3" font-family="Liberation Sans" font-weight="bold" font-size="6.2" text-anchor="middle" fill="#1a1a1a">T47</text>
<line x1="654" y1="35" x2="654" y2="40" stroke="#222" stroke-width="0.55"/>
<text x="654" y="34.400000000000006" font-family="Liberation Sans" font-weight="bold" font-size="6.2" text-anchor="middle" fill="#1a1a1a">G74</text>
<line x1="666.5" y1="35" x2="664" y2="39" stroke="#222" stroke-width="0.55"/>
<text x="667.8" y="34.400000000000006" font-family="Liberation Sans" font-weight="bold" font-size="6.2" text-anchor="middle" fill="#1a1a1a">G43</text>
<line x1="646.5" y1="40" x2="650" y2="43" stroke="#222" stroke-width="0.55"/>
<text x="643.6" y="39.400000000000006" font-family="Liberation Sans" font-weight="bold" font-size="6.2" text-anchor="middle" fill="#1a1a1a">G63</text>
<line x1="675" y1="42.5" x2="673.8" y2="45" stroke="#222" stroke-width="0.55"/>
<text x="675.8" y="41.7" font-family="Liberation Sans" font-weight="bold" font-size="6.2" text-anchor="middle" fill="#1a1a1a">G95</text>
<line x1="627.5" y1="56" x2="625.5" y2="60" stroke="#222" stroke-width="0.55"/>
<text x="629.8" y="55.5" font-family="Liberation Sans" font-weight="bold" font-size="6.2" text-anchor="middle" fill="#1a1a1a">S45</text>
<line x1="618.5" y1="59.5" x2="618" y2="62.5" stroke="#222" stroke-width="0.55"/>
<text x="619" y="59.2" font-family="Liberation Sans" font-weight="bold" font-size="6.2" text-anchor="middle" fill="#1a1a1a">S22</text>
<line x1="644.5" y1="59" x2="646" y2="62" stroke="#222" stroke-width="0.55"/>
<text x="642.5" y="58.5" font-family="Liberation Sans" font-weight="bold" font-size="6.2" text-anchor="middle" fill="#1a1a1a">N68</text>
<line x1="655.5" y1="58.5" x2="654.5" y2="54.5" stroke="#222" stroke-width="0.55"/>
<text x="656.3" y="63.800000000000004" font-family="Liberation Sans" font-weight="bold" font-size="6.2" text-anchor="middle" fill="#1a1a1a">G88</text>
<line x1="590.5" y1="65" x2="587.5" y2="64.5" stroke="#222" stroke-width="0.55"/>
<text x="595.3" y="67.2" font-family="Liberation Sans" font-weight="bold" font-size="6.2" text-anchor="middle" fill="#1a1a1a">S36</text>
<line x1="620.5" y1="68.5" x2="615.5" y2="66.5" stroke="#222" stroke-width="0.55"/>
<text x="625.2" y="71.60000000000001" font-family="Liberation Sans" font-weight="bold" font-size="6.2" text-anchor="middle" fill="#1a1a1a">L42</text>
<line x1="665" y1="68" x2="664.8" y2="65.5" stroke="#222" stroke-width="0.55"/>
<text x="665" y="73.5" font-family="Liberation Sans" font-weight="bold" font-size="6.2" text-anchor="middle" fill="#1a1a1a">G94</text>
<line x1="634" y1="77" x2="627.5" y2="80.5" stroke="#222" stroke-width="0.55"/>
<text x="637.9" y="76.9" font-family="Liberation Sans" font-weight="bold" font-size="6.2" text-anchor="middle" fill="#1a1a1a">A25</text>
<line x1="624" y1="99.5" x2="620" y2="97" stroke="#222" stroke-width="0.55"/>
<text x="627.6" y="103.4" font-family="Liberation Sans" font-weight="bold" font-size="6.2" text-anchor="middle" fill="#1a1a1a">A41</text>
<line x1="611" y1="101.5" x2="609.8" y2="97.5" stroke="#222" stroke-width="0.55"/>
<text x="612.9" y="107.0" font-family="Liberation Sans" font-weight="bold" font-size="6.2" text-anchor="middle" fill="#1a1a1a">H37</text>
<line x1="540.5" y1="80.7" x2="545" y2="81" stroke="#222" stroke-width="0.55"/>
<text x="536.2" y="82.9" font-family="Liberation Sans" font-weight="bold" font-size="6.2" text-anchor="middle" fill="#1a1a1a">T60</text>
<line x1="554.5" y1="91.4" x2="558" y2="91.4" stroke="#222" stroke-width="0.55"/>
<text x="550" y="93.60000000000001" font-family="Liberation Sans" font-weight="bold" font-size="6.2" text-anchor="middle" fill="#1a1a1a">V83</text>
<line x1="552" y1="100.5" x2="554.5" y2="97.5" stroke="#222" stroke-width="0.55"/>
<text x="550.5" y="106.0" font-family="Liberation Sans" font-weight="bold" font-size="6.2" text-anchor="middle" fill="#1a1a1a">V73</text>
<line x1="564.3" y1="100.5" x2="564.3" y2="97.5" stroke="#222" stroke-width="0.55"/>
<text x="564.3" y="106.0" font-family="Liberation Sans" font-weight="bold" font-size="6.2" text-anchor="middle" fill="#1a1a1a">I90</text>
<line x1="599" y1="115.5" x2="600.5" y2="118" stroke="#222" stroke-width="0.55"/>
<text x="598.2" y="114.9" font-family="Liberation Sans" font-weight="bold" font-size="6.2" text-anchor="middle" fill="#1a1a1a">L46</text>
<rect x="524.8" y="21.6" width="175.20000000000005" height="116.70000000000002" fill="none" stroke="#7a7a7a" stroke-width="1"/>
<path d="M544.20,138.3v2.2M569.35,138.3v2.2M594.50,138.3v2.2M619.65,138.3v2.2M644.80,138.3v2.2M669.95,138.3v2.2M524.8,30.40h-2.2M524.8,57.30h-2.2M524.8,84.20h-2.2M524.8,111.10h-2.2M524.8,138.00h-2.2M524.8,43.85h-1.2M524.8,70.75h-1.2M524.8,97.65h-1.2M524.8,124.55h-1.2" stroke="#555" stroke-width="0.7"/>
<text x="522" y="33.40" font-family="Liberation Sans" font-weight="bold" font-size="8.3" text-anchor="end">100</text>
<text x="522" y="60.30" font-family="Liberation Sans" font-weight="bold" font-size="8.3" text-anchor="end">110</text>
<text x="522" y="87.20" font-family="Liberation Sans" font-weight="bold" font-size="8.3" text-anchor="end">120</text>
<text x="522" y="114.10" font-family="Liberation Sans" font-weight="bold" font-size="8.3" text-anchor="end">130</text>
<text x="522" y="141.00" font-family="Liberation Sans" font-weight="bold" font-size="8.3" text-anchor="end">140</text>
<text x="544.20" y="148" font-family="Liberation Sans" font-weight="bold" font-size="8.3" text-anchor="middle">70</text>
<text x="569.35" y="148" font-family="Liberation Sans" font-weight="bold" font-size="8.3" text-anchor="middle">65</text>
<text x="594.50" y="148" font-family="Liberation Sans" font-weight="bold" font-size="8.3" text-anchor="middle">60</text>
<text x="619.65" y="148" font-family="Liberation Sans" font-weight="bold" font-size="8.3" text-anchor="middle">55</text>
<text x="644.80" y="148" font-family="Liberation Sans" font-weight="bold" font-size="8.3" text-anchor="middle">50</text>
<text x="669.95" y="148" font-family="Liberation Sans" font-weight="bold" font-size="8.3" text-anchor="middle">45</text>
<text x="606.3" y="156" font-family="Liberation Sans" font-weight="bold" font-size="10.3" text-anchor="middle"><tspan font-size="6.3" dy="-3.8">13</tspan><tspan dy="3.8">C (ppm)</tspan></text>
<text transform="translate(505.5,86) rotate(-90)" font-family="Liberation Sans" font-weight="bold" font-size="9.4" text-anchor="middle"><tspan font-size="6" dy="-3.5">15</tspan><tspan dy="3.5">N (ppm)</tspan></text>
<text x="-1" y="180.5" font-family="Liberation Sans" font-weight="bold" font-size="16">e</text>
<rect x="5.3" y="182.4" width="16" height="8.3" fill="#a3a3a3" stroke="#333" stroke-width="0.7"/>
<rect x="5.3" y="197.4" width="16" height="8.1" fill="#1fcf6a" stroke="#333" stroke-width="0.7"/>
<text x="24.7" y="189.1" font-family="Liberation Sans" font-weight="bold" font-size="9.35">SsNMR Structure with Bound Lipids</text>
<text x="24.7" y="204.8" font-family="Liberation Sans" font-weight="bold" font-size="9.35">MD Simulation Structure without Bound Lipids</text>
<path d="M24.4,228.4 L25.1,229.0 L26.3,229.6 L27.8,230.1 L29.6,230.6 L31.4,231.2 L33.3,231.7 L35.1,232.2 L36.6,232.8 L37.8,233.3 L38.6,233.9 L38.9,234.5 L38.7,235.2 L38.4,229.8 L38.6,229.1 L38.3,228.5 L37.5,227.9 L36.3,227.4 L34.8,226.8 L33.0,226.3 L31.2,225.8 L29.3,225.2 L27.5,224.7 L26.0,224.2 L24.9,223.6 L24.1,223.0ZM25.1,243.3 L25.8,243.9 L26.9,244.5 L28.4,245.0 L30.2,245.6 L32.0,246.1 L33.9,246.6 L35.7,247.2 L37.3,247.7 L38.5,248.3 L39.3,248.8 L39.7,249.4 L39.5,250.1 L39.3,244.7 L39.4,244.0 L39.0,243.4 L38.2,242.9 L37.0,242.3 L35.4,241.8 L33.7,241.2 L31.8,240.7 L29.9,240.2 L28.1,239.6 L26.7,239.1 L25.5,238.5 L24.9,237.9ZM25.9,258.3 L26.5,258.8 L27.6,259.4 L29.0,260.0 L30.8,260.5 L32.6,261.0 L34.5,261.6 L36.3,262.1 L37.9,262.6 L39.2,263.2 L40.0,263.8 L40.4,264.4 L40.3,265.0 L40.1,259.6 L40.2,259.0 L39.8,258.4 L38.9,257.8 L37.6,257.2 L36.1,256.7 L34.3,256.2 L32.4,255.6 L30.5,255.1 L28.8,254.6 L27.3,254.0 L26.2,253.5 L25.6,252.9ZM26.6,273.2 L27.2,273.8 L28.3,274.3 L29.7,274.9 L31.4,275.4 L33.2,276.0 L35.1,276.5 L36.9,277.0 L38.6,277.6 L39.8,278.1 L40.7,278.7 L41.2,279.3 L41.1,279.9 L40.9,274.5 L40.9,273.9 L40.5,273.3 L39.6,272.7 L38.3,272.2 L36.7,271.6 L34.9,271.1 L33.0,270.6 L31.1,270.0 L29.4,269.5 L28.0,269.0 L26.9,268.4 L26.3,267.8ZM27.3,288.1 L27.9,288.7 L28.9,289.3 L30.3,289.8 L32.0,290.4 L33.8,290.9 L35.7,291.4 L37.6,291.9 L39.2,292.5 L40.5,293.0 L41.5,293.6 L41.9,294.2 L41.9,294.8 L41.7,289.4 L41.7,288.8 L41.2,288.2 L40.2,287.6 L38.9,287.1 L37.3,286.6 L35.5,286.0 L33.5,285.5 L31.7,285.0 L30.0,284.4 L28.6,283.9 L27.6,283.3 L27.1,282.7ZM28.1,303.0 L28.6,303.6 L29.6,304.2 L30.9,304.8 L32.6,305.3 L34.4,305.8 L36.3,306.3 L38.2,306.9 L39.8,307.4 L41.2,308.0 L42.2,308.5 L42.7,309.1 L42.7,309.8 L42.5,304.4 L42.4,303.7 L41.9,303.1 L40.9,302.6 L39.5,302.0 L37.9,301.5 L36.1,301.0 L34.1,300.4 L32.3,299.9 L30.7,299.4 L29.3,298.8 L28.3,298.2 L27.8,297.6ZM28.8,318.0 L29.3,318.6 L30.2,319.1 L31.6,319.7 L33.2,320.2 L35.0,320.8 L34.7,315.4 L32.9,314.8 L31.3,314.3 L30.0,313.7 L29.0,313.2 L28.6,312.6Z" fill="#dcdcdc" stroke="#a8a8a8" stroke-width="0.5" stroke-linejoin="round"/><path d="M31.1,223.7 L29.3,224.4 L27.6,225.1 L26.2,225.8 L25.1,226.5 L24.4,227.2 L24.1,227.8 L24.4,228.4 L24.1,223.0 L23.9,222.4 L24.1,221.8 L24.8,221.1 L25.9,220.4 L27.3,219.7 L29.0,219.0 L30.9,218.3ZM38.7,235.2 L38.1,235.8 L37.0,236.5 L35.6,237.2 L33.9,237.9 L32.1,238.6 L30.3,239.3 L28.5,240.0 L27.1,240.7 L25.9,241.4 L25.2,242.1 L24.9,242.7 L25.1,243.3 L24.9,237.9 L24.6,237.3 L24.9,236.7 L25.6,236.0 L26.8,235.3 L28.3,234.6 L30.0,233.9 L31.8,233.2 L33.6,232.5 L35.3,231.8 L36.7,231.1 L37.8,230.4 L38.4,229.8ZM39.5,250.1 L38.9,250.7 L37.9,251.4 L36.5,252.1 L34.8,252.8 L33.0,253.5 L31.2,254.2 L29.5,255.0 L28.0,255.7 L26.8,256.3 L26.0,257.0 L25.7,257.6 L25.9,258.3 L25.6,252.9 L25.4,252.3 L25.7,251.6 L26.5,250.9 L27.7,250.3 L29.2,249.6 L30.9,248.8 L32.7,248.1 L34.6,247.4 L36.2,246.7 L37.6,246.0 L38.7,245.3 L39.3,244.7ZM40.3,265.0 L39.8,265.6 L38.8,266.3 L37.4,267.0 L35.8,267.7 L34.0,268.4 L32.1,269.2 L30.4,269.9 L28.9,270.6 L27.6,271.3 L26.8,271.9 L26.5,272.6 L26.6,273.2 L26.3,267.8 L26.2,267.2 L26.5,266.5 L27.4,265.9 L28.6,265.2 L30.1,264.5 L31.8,263.8 L33.7,263.0 L35.5,262.3 L37.1,261.6 L38.5,260.9 L39.5,260.3 L40.1,259.6ZM41.1,279.9 L40.6,280.6 L39.7,281.2 L38.3,281.9 L36.7,282.6 L34.9,283.4 L33.1,284.1 L31.3,284.8 L29.8,285.5 L28.5,286.2 L27.7,286.8 L27.3,287.5 L27.3,288.1 L27.1,282.7 L27.0,282.1 L27.4,281.5 L28.2,280.8 L29.5,280.1 L31.0,279.4 L32.8,278.7 L34.6,278.0 L36.4,277.2 L38.0,276.5 L39.4,275.8 L40.3,275.2 L40.9,274.5ZM41.9,294.8 L41.5,295.5 L40.5,296.2 L39.2,296.8 L37.6,297.6 L35.8,298.3 L34.0,299.0 L32.2,299.7 L30.7,300.4 L29.4,301.1 L28.5,301.8 L28.0,302.4 L28.1,303.0 L27.8,297.6 L27.8,297.0 L28.2,296.4 L29.1,295.7 L30.4,295.0 L32.0,294.3 L33.7,293.6 L35.6,292.9 L37.3,292.2 L38.9,291.5 L40.3,290.8 L41.2,290.1 L41.7,289.4ZM42.7,309.8 L42.3,310.4 L41.4,311.1 L40.1,311.8 L38.6,312.5 L36.8,313.2 L34.9,313.9 L33.2,314.6 L31.6,315.3 L30.3,316.0 L29.3,316.7 L28.8,317.3 L28.8,318.0 L28.6,312.6 L28.6,311.9 L29.0,311.3 L30.0,310.6 L31.3,309.9 L32.9,309.2 L34.7,308.5 L36.5,307.8 L38.3,307.1 L39.9,306.4 L41.1,305.7 L42.0,305.0 L42.5,304.4Z" fill="#f2f2f2" stroke="#a8a8a8" stroke-width="0.6" stroke-linejoin="round"/>
<path d="M41.0,267.1 L41.7,267.7 L42.9,268.2 L44.3,268.7 L46.0,269.2 L47.8,269.7 L49.6,270.1 L51.3,270.6 L52.7,271.1 L53.8,271.6 L54.4,272.2 L54.6,272.8 L54.1,267.4 L53.9,266.8 L53.3,266.3 L52.2,265.7 L50.8,265.2 L49.2,264.7 L47.4,264.3 L45.5,263.8 L43.8,263.3 L42.4,262.8 L41.3,262.3 L40.5,261.7ZM42.2,281.4 L42.8,282.0 L43.9,282.6 L45.3,283.1 L46.9,283.5 L48.7,284.0 L50.6,284.5 L52.3,284.9 L53.7,285.4 L54.9,286.0 L55.6,286.5 L55.9,287.1 L55.4,281.7 L55.1,281.1 L54.4,280.6 L53.3,280.1 L51.8,279.6 L50.1,279.1 L48.3,278.6 L46.5,278.2 L44.8,277.7 L43.4,277.2 L42.4,276.6 L41.7,276.1ZM43.4,295.8 L44.0,296.3 L44.9,296.9 L46.2,297.4 L47.9,297.9 L49.6,298.3 L51.5,298.8 L53.2,299.3 L54.7,299.8 L56.0,300.3 L56.8,300.8 L57.1,301.4 L57.0,302.1 L56.5,296.7 L56.7,296.1 L56.3,295.5 L55.5,294.9 L54.3,294.4 L52.7,293.9 L51.0,293.4 L49.2,293.0 L47.4,292.5 L45.8,292.0 L44.4,291.5 L43.5,291.0 L43.0,290.4ZM44.7,310.1 L45.1,310.7 L46.0,311.2 L47.2,311.7 L48.8,312.2 L50.6,312.7 L52.4,313.2 L54.2,313.6 L55.7,314.1 L57.0,314.6 L57.9,315.2 L58.4,315.7 L58.4,316.4 L57.9,311.0 L57.9,310.4 L57.5,309.8 L56.6,309.2 L55.3,308.7 L53.7,308.2 L51.9,307.8 L50.1,307.3 L48.3,306.8 L46.7,306.4 L45.5,305.8 L44.6,305.3 L44.2,304.7Z" fill="#dcdcdc" stroke="#a8a8a8" stroke-width="0.5" stroke-linejoin="round"/><path d="M41.7,265.2 L41.0,265.9 L40.8,266.5 L41.0,267.1 L40.5,261.7 L40.3,261.1 L40.5,260.5 L41.2,259.8ZM54.6,272.8 L54.3,273.5 L53.5,274.2 L52.3,274.9 L50.9,275.7 L49.2,276.4 L47.5,277.2 L45.8,278.0 L44.4,278.7 L43.2,279.5 L42.4,280.2 L42.1,280.8 L42.2,281.4 L41.7,276.1 L41.6,275.5 L41.9,274.8 L42.7,274.1 L43.9,273.4 L45.4,272.6 L47.0,271.8 L48.7,271.1 L50.4,270.3 L51.8,269.5 L53.0,268.8 L53.8,268.1 L54.1,267.4ZM55.9,287.1 L55.6,287.8 L55.0,288.5 L53.9,289.2 L52.5,289.9 L50.9,290.7 L49.1,291.5 L47.5,292.3 L45.9,293.0 L44.7,293.8 L43.8,294.5 L43.4,295.1 L43.4,295.8 L43.0,290.4 L42.9,289.8 L43.4,289.1 L44.2,288.4 L45.5,287.6 L47.0,286.9 L48.7,286.1 L50.4,285.3 L52.0,284.6 L53.4,283.8 L54.5,283.1 L55.2,282.4 L55.4,281.7ZM57.0,302.1 L56.4,302.8 L55.4,303.5 L54.1,304.2 L52.5,305.0 L50.8,305.8 L49.1,306.5 L47.5,307.3 L46.2,308.1 L45.3,308.8 L44.7,309.4 L44.7,310.1 L44.2,304.7 L44.3,304.1 L44.8,303.4 L45.7,302.7 L47.1,301.9 L48.6,301.2 L50.3,300.4 L52.0,299.6 L53.6,298.8 L55.0,298.1 L56.0,297.4 L56.5,296.7ZM58.4,316.4 L57.9,317.0 L57.0,317.8 L55.7,318.5 L54.1,319.3 L52.5,320.0 L50.7,320.8 L50.3,315.4 L52.0,314.7 L53.7,313.9 L55.2,313.1 L56.5,312.4 L57.4,311.7 L57.9,311.0Z" fill="#f2f2f2" stroke="#a8a8a8" stroke-width="0.6" stroke-linejoin="round"/>
<path d="M65.9,224.0 L66.9,224.5 L68.2,225.1 L69.8,225.7 L71.5,226.2 L73.3,226.8 L75.1,227.3 L76.6,227.9 L77.8,228.4 L78.7,229.0 L79.1,229.6 L79.1,230.3 L78.9,224.9 L78.9,224.2 L78.5,223.6 L77.6,223.0 L76.4,222.5 L74.8,221.9 L73.1,221.4 L71.3,220.8 L69.6,220.3 L68.0,219.7 L66.7,219.1 L65.7,218.6ZM66.0,238.3 L66.5,238.9 L67.4,239.5 L68.7,240.0 L70.2,240.6 L72.0,241.1 L73.8,241.7 L75.5,242.2 L77.1,242.8 L78.3,243.4 L79.2,244.0 L79.7,244.6 L79.7,245.2 L79.5,239.8 L79.5,239.2 L79.0,238.6 L78.1,238.0 L76.8,237.4 L75.3,236.8 L73.5,236.3 L71.8,235.7 L70.0,235.2 L68.5,234.6 L67.2,234.1 L66.3,233.5 L65.8,232.9ZM66.6,253.2 L67.0,253.8 L67.9,254.4 L69.2,255.0 L70.7,255.5 L72.4,256.1 L74.2,256.6 L75.9,257.2 L77.5,257.7 L78.8,258.3 L79.8,258.9 L80.3,259.5 L80.4,260.1 L80.2,254.7 L80.1,254.1 L79.6,253.5 L78.6,252.9 L77.3,252.3 L75.7,251.8 L74.0,251.2 L72.2,250.7 L70.5,250.1 L68.9,249.6 L67.7,249.0 L66.8,248.4 L66.3,247.8ZM67.2,268.1 L67.6,268.7 L68.4,269.3 L69.6,269.9 L71.1,270.5 L72.8,271.0 L74.6,271.6 L76.4,272.1 L78.0,272.7 L79.3,273.2 L80.3,273.8 L80.9,274.4 L81.0,275.0 L80.8,269.6 L80.7,269.0 L80.1,268.4 L79.1,267.8 L77.8,267.3 L76.2,266.7 L74.4,266.2 L72.6,265.6 L70.9,265.1 L69.4,264.5 L68.2,263.9 L67.3,263.3 L66.9,262.7ZM67.8,283.0 L68.1,283.7 L68.9,284.2 L70.1,284.8 L71.6,285.4 L73.3,285.9 L75.1,286.5 L76.8,287.0 L78.5,287.6 L79.8,288.2 L80.8,288.7 L81.5,289.3 L81.6,289.9 L81.4,284.6 L81.2,283.9 L80.6,283.3 L79.6,282.8 L78.2,282.2 L76.6,281.6 L74.8,281.1 L73.1,280.5 L71.4,280.0 L69.9,279.4 L68.7,278.9 L67.9,278.3 L67.5,277.7ZM68.4,298.0 L68.7,298.6 L69.4,299.2 L70.6,299.7 L72.0,300.3 L73.7,300.9 L75.5,301.4 L77.3,302.0 L78.9,302.5 L80.3,303.1 L81.4,303.7 L82.0,304.3 L82.3,304.9 L82.0,299.5 L81.8,298.9 L81.2,298.3 L80.1,297.7 L78.7,297.1 L77.0,296.6 L75.3,296.0 L73.5,295.5 L71.8,294.9 L70.4,294.4 L69.2,293.8 L68.5,293.2 L68.1,292.6ZM69.0,312.9 L69.3,313.5 L70.0,314.1 L71.1,314.7 L72.5,315.2 L74.2,315.8 L75.9,316.3 L77.7,316.9 L79.4,317.4 L80.8,318.0 L81.9,318.6 L82.6,319.2 L82.9,319.8 L82.7,320.4 L82.5,315.0 L82.7,314.4 L82.4,313.8 L81.7,313.2 L80.6,312.6 L79.1,312.1 L77.5,311.5 L75.7,310.9 L73.9,310.4 L72.3,309.8 L70.8,309.3 L69.7,308.7 L69.0,308.1 L68.8,307.5Z" fill="#dcdcdc" stroke="#a8a8a8" stroke-width="0.5" stroke-linejoin="round"/><path d="M79.1,230.3 L78.6,230.9 L77.7,231.6 L76.5,232.2 L75.0,232.9 L73.3,233.6 L71.5,234.3 L69.9,235.0 L68.4,235.7 L67.2,236.4 L66.3,237.0 L65.9,237.7 L66.0,238.3 L65.8,232.9 L65.7,232.3 L66.1,231.6 L67.0,231.0 L68.2,230.3 L69.6,229.6 L71.3,228.9 L73.1,228.2 L74.7,227.5 L76.3,226.8 L77.5,226.2 L78.4,225.5 L78.9,224.9ZM79.7,245.2 L79.3,245.8 L78.5,246.5 L77.3,247.2 L75.8,247.8 L74.1,248.5 L72.3,249.2 L70.7,249.9 L69.1,250.6 L67.9,251.3 L67.0,251.9 L66.6,252.6 L66.6,253.2 L66.3,247.8 L66.3,247.2 L66.8,246.5 L67.7,245.9 L68.9,245.2 L70.4,244.5 L72.1,243.8 L73.9,243.1 L75.5,242.4 L77.0,241.8 L78.2,241.1 L79.1,240.4 L79.5,239.8ZM80.4,260.1 L80.0,260.7 L79.2,261.4 L78.0,262.1 L76.5,262.8 L74.9,263.4 L73.1,264.1 L71.4,264.8 L69.9,265.5 L68.6,266.2 L67.7,266.9 L67.2,267.5 L67.2,268.1 L66.9,262.7 L67.0,262.1 L67.5,261.5 L68.4,260.8 L69.7,260.1 L71.2,259.4 L72.9,258.7 L74.7,258.1 L76.3,257.4 L77.8,256.7 L79.0,256.0 L79.8,255.3 L80.2,254.7ZM81.0,275.0 L80.7,275.7 L79.9,276.3 L78.8,277.0 L77.3,277.7 L75.7,278.4 L73.9,279.1 L72.2,279.7 L70.7,280.4 L69.4,281.1 L68.4,281.8 L67.9,282.4 L67.8,283.0 L67.5,277.7 L67.6,277.0 L68.2,276.4 L69.1,275.7 L70.4,275.0 L72.0,274.4 L73.7,273.7 L75.4,273.0 L77.1,272.3 L78.5,271.6 L79.7,270.9 L80.5,270.3 L80.8,269.6ZM81.6,289.9 L81.4,290.6 L80.6,291.2 L79.5,291.9 L78.1,292.6 L76.5,293.3 L74.7,294.0 L73.0,294.7 L71.4,295.4 L70.1,296.0 L69.1,296.7 L68.5,297.3 L68.4,298.0 L68.1,292.6 L68.3,291.9 L68.9,291.3 L69.9,290.6 L71.2,290.0 L72.8,289.3 L74.5,288.6 L76.2,287.9 L77.9,287.2 L79.3,286.5 L80.4,285.8 L81.1,285.2 L81.4,284.6ZM82.3,304.9 L82.0,305.5 L81.3,306.2 L80.3,306.8 L78.9,307.5 L77.3,308.2 L75.5,308.9 L73.8,309.6 L72.2,310.3 L70.8,310.9 L69.8,311.6 L69.2,312.3 L69.0,312.9 L68.8,307.5 L69.0,306.9 L69.6,306.2 L70.6,305.6 L72.0,304.9 L73.6,304.2 L75.3,303.5 L77.0,302.8 L78.7,302.1 L80.0,301.4 L81.1,300.8 L81.8,300.1 L82.0,299.5ZM82.7,320.4 L82.5,315.0Z" fill="#f2f2f2" stroke="#a8a8a8" stroke-width="0.6" stroke-linejoin="round"/>
<path d="M52.9,263.7 L53.2,264.3 L53.9,264.9 L55.1,265.4 L56.5,265.9 L58.2,266.4 L60.1,266.8 L61.8,267.3 L63.5,267.8 L64.9,268.3 L65.9,268.9 L66.5,269.4 L66.6,270.0 L66.2,264.7 L66.0,264.0 L65.4,263.5 L64.4,262.9 L63.0,262.4 L61.4,261.9 L59.6,261.5 L57.8,261.0 L56.1,260.5 L54.6,260.0 L53.5,259.5 L52.7,258.9 L52.4,258.3ZM54.2,278.5 L54.8,279.1 L55.8,279.7 L57.2,280.2 L58.8,280.7 L60.6,281.1 L62.4,281.6 L64.1,282.1 L65.6,282.6 L66.8,283.1 L67.5,283.7 L67.8,284.3 L67.6,284.9 L67.2,279.5 L67.4,278.9 L67.1,278.3 L66.3,277.7 L65.2,277.2 L63.7,276.7 L62.0,276.2 L60.2,275.7 L58.4,275.3 L56.7,274.8 L55.4,274.3 L54.3,273.7 L53.7,273.2ZM55.3,292.8 L55.7,293.4 L56.6,293.9 L57.9,294.4 L59.4,294.9 L61.2,295.4 L63.0,295.9 L64.7,296.4 L66.3,296.8 L67.6,297.4 L68.5,297.9 L69.0,298.5 L69.0,299.1 L68.5,293.7 L68.5,293.1 L68.0,292.5 L67.1,292.0 L65.9,291.5 L64.3,291.0 L62.5,290.5 L60.7,290.0 L59.0,289.6 L57.4,289.1 L56.1,288.5 L55.3,288.0 L54.8,287.4ZM56.7,307.6 L57.4,308.2 L58.6,308.7 L60.0,309.2 L61.7,309.7 L63.5,310.2 L65.3,310.6 L67.0,311.1 L68.4,311.6 L69.4,312.2 L70.1,312.7 L70.2,313.3 L69.8,308.0 L69.6,307.3 L69.0,306.8 L67.9,306.2 L66.5,305.7 L64.9,305.3 L63.1,304.8 L61.3,304.3 L59.6,303.8 L58.1,303.3 L57.0,302.8 L56.3,302.2Z" fill="#dcdcdc" stroke="#a8a8a8" stroke-width="0.5" stroke-linejoin="round"/><path d="M56.1,261.0 L54.7,261.7 L53.7,262.4 L53.0,263.1 L52.9,263.7 L52.4,258.3 L52.6,257.7 L53.2,257.0 L54.3,256.3 L55.6,255.6ZM66.6,270.0 L66.3,270.7 L65.5,271.4 L64.3,272.1 L62.8,272.8 L61.2,273.6 L59.5,274.4 L57.8,275.1 L56.4,275.9 L55.2,276.6 L54.4,277.3 L54.1,277.9 L54.2,278.5 L53.7,273.2 L53.6,272.6 L54.0,271.9 L54.7,271.2 L55.9,270.5 L57.4,269.8 L59.0,269.0 L60.7,268.2 L62.4,267.5 L63.9,266.7 L65.0,266.0 L65.8,265.3 L66.2,264.7ZM67.6,284.9 L67.0,285.6 L66.0,286.3 L64.6,287.0 L63.0,287.8 L61.3,288.5 L59.6,289.3 L58.1,290.1 L56.8,290.8 L55.9,291.5 L55.3,292.2 L55.3,292.8 L54.8,287.4 L54.9,286.8 L55.4,286.1 L56.3,285.4 L57.6,284.7 L59.2,283.9 L60.9,283.2 L62.6,282.4 L64.2,281.6 L65.5,280.9 L66.6,280.2 L67.2,279.5ZM69.0,299.1 L68.5,299.8 L67.6,300.5 L66.3,301.2 L64.8,302.0 L63.1,302.7 L61.4,303.5 L59.8,304.2 L58.4,305.0 L57.3,305.7 L56.7,306.4 L56.5,307.0 L56.7,307.6 L56.3,302.2 L56.0,301.6 L56.2,301.0 L56.9,300.3 L58.0,299.6 L59.4,298.9 L61.0,298.1 L62.7,297.3 L64.4,296.6 L65.9,295.8 L67.1,295.1 L68.0,294.4 L68.5,293.7ZM70.2,313.3 L69.9,314.0 L69.2,314.7 L68.0,315.4 L66.6,316.1 L64.9,316.9 L63.2,317.7 L61.6,318.4 L60.1,319.2 L58.9,319.9 L58.1,320.6 L57.7,321.2 L57.2,315.9 L57.6,315.2 L58.4,314.5 L59.6,313.8 L61.1,313.0 L62.8,312.3 L64.5,311.5 L66.1,310.8 L67.6,310.0 L68.7,309.3 L69.5,308.6 L69.8,308.0Z" fill="#f2f2f2" stroke="#a8a8a8" stroke-width="0.6" stroke-linejoin="round"/>
<path d="M40,318 46,322 55,321 62,320 70,324 78,322" fill="none" stroke="#d8d8d8" stroke-width="1.6" stroke-linejoin="round" stroke-linecap="round"/>
<path d="M44,256 L50,250 L56,256 L61,251 M50,250 L52,242 M56,256 L58,263 M61,251 L66,247 M45,262 L51,266" fill="none" stroke="#9c9c9c" stroke-width="2.2" stroke-linejoin="round" stroke-linecap="round"/>
<path d="M44,256 L50,250 L56,256 L61,251 M50,250 L52,242 M56,256 L58,263 M61,251 L66,247 M45,262 L51,266" fill="none" stroke="#f4f4f4" stroke-width="1.2" stroke-linejoin="round" stroke-linecap="round"/>
<path d="M24,225 28,219 34,217" fill="none" stroke="#d5d5d5" stroke-width="1.6" stroke-linejoin="round" stroke-linecap="round"/>
<path d="M1.2,237.1 L1.9,237.6 L3.0,238.1 L4.6,238.6 L6.5,239.0 L8.6,239.3 L10.8,239.7 L13.0,240.0 L15.0,240.4 L16.7,240.8 L18.1,241.3 L19.1,241.8 L19.5,242.4 L19.4,243.0 L18.8,237.7 L18.9,237.0 L18.4,236.4 L17.5,235.9 L16.1,235.5 L14.3,235.1 L12.3,234.7 L10.1,234.3 L7.9,234.0 L5.8,233.6 L3.9,233.2 L2.3,232.8 L1.2,232.3 L0.6,231.7ZM3.4,253.2 L4.3,253.7 L5.6,254.2 L7.3,254.6 L9.3,255.0 L11.4,255.4 L13.6,255.7 L15.8,256.1 L17.7,256.5 L19.3,256.9 L20.6,257.4 L21.3,257.9 L21.5,258.5 L20.9,253.1 L20.6,252.5 L19.9,252.0 L18.7,251.5 L17.0,251.1 L15.1,250.7 L13.0,250.3 L10.8,250.0 L8.6,249.6 L6.6,249.3 L4.9,248.8 L3.6,248.4 L2.8,247.8ZM5.1,268.7 L5.7,269.3 L6.7,269.8 L8.2,270.2 L10.0,270.6 L12.1,271.0 L14.3,271.4 L16.5,271.7 L18.6,272.1 L20.4,272.5 L21.9,272.9 L22.9,273.4 L23.5,274.0 L23.5,274.6 L22.8,269.3 L22.8,268.6 L22.2,268.1 L21.2,267.6 L19.7,267.1 L17.9,266.7 L15.8,266.4 L13.6,266.0 L11.4,265.7 L9.4,265.3 L7.5,264.9 L6.1,264.4 L5.0,263.9 L4.5,263.4ZM7.3,284.8 L8.0,285.4 L9.2,285.9 L10.9,286.3 L12.8,286.7 L14.9,287.0 L17.2,287.4 L19.3,287.7 L21.3,288.1 L23.0,288.5 L24.3,289.0 L25.2,289.5 L25.5,290.1 L25.3,290.8 L24.7,285.4 L24.8,284.8 L24.5,284.2 L23.7,283.7 L22.3,283.2 L20.6,282.8 L18.7,282.4 L16.5,282.0 L14.3,281.7 L12.1,281.3 L10.2,280.9 L8.6,280.5 L7.4,280.0 L6.6,279.5ZM9.1,300.4 L9.5,300.9 L10.4,301.5 L11.8,301.9 L13.6,302.3 L15.6,302.7 L17.8,303.1 L20.0,303.4 L22.1,303.8 L24.0,304.2 L25.6,304.6 L26.7,305.1 L27.4,305.6 L27.5,306.3 L26.8,300.9 L26.7,300.3 L26.0,299.7 L24.9,299.2 L23.3,298.8 L21.5,298.4 L19.4,298.0 L17.1,297.7 L15.0,297.3 L12.9,297.0 L11.2,296.6 L9.8,296.1 L8.8,295.6 L8.4,295.0Z" fill="#5cb514" stroke="#4a9a12" stroke-width="0.5" stroke-linejoin="round"/><path d="M9.3,231.7 L7.3,232.6 L5.4,233.4 L3.7,234.3 L2.4,235.1 L1.5,235.8 L1.1,236.5 L1.2,237.1 L0.6,231.7 L0.4,231.1 L0.8,230.4 L1.7,229.7 L3.0,228.9 L4.7,228.1 L6.6,227.2 L8.7,226.3ZM19.4,243.0 L18.9,243.7 L17.8,244.5 L16.3,245.3 L14.5,246.1 L12.6,247.0 L10.5,247.9 L8.5,248.8 L6.7,249.6 L5.1,250.5 L4.0,251.2 L3.3,252.0 L3.1,252.6 L3.4,253.2 L2.8,247.8 L2.4,247.3 L2.6,246.6 L3.3,245.9 L4.4,245.1 L6.0,244.3 L7.8,243.4 L9.8,242.6 L11.9,241.7 L13.9,240.8 L15.7,239.9 L17.1,239.1 L18.2,238.4 L18.8,237.7ZM21.5,258.5 L21.3,259.2 L20.5,259.9 L19.2,260.7 L17.6,261.5 L15.7,262.4 L13.7,263.3 L11.7,264.1 L9.7,265.0 L8.0,265.9 L6.6,266.7 L5.6,267.4 L5.1,268.1 L5.1,268.7 L4.5,263.4 L4.4,262.7 L4.9,262.1 L5.9,261.3 L7.3,260.5 L9.0,259.7 L11.0,258.8 L13.1,257.9 L15.1,257.0 L17.0,256.1 L18.6,255.3 L19.8,254.5 L20.6,253.8 L20.9,253.1ZM23.5,274.6 L23.0,275.3 L22.0,276.1 L20.6,276.9 L18.9,277.7 L16.9,278.6 L14.9,279.5 L12.9,280.4 L11.0,281.2 L9.4,282.1 L8.1,282.8 L7.3,283.6 L7.0,284.2 L7.3,284.8 L6.6,279.5 L6.4,278.9 L6.7,278.2 L7.5,277.5 L8.7,276.7 L10.3,275.9 L12.2,275.0 L14.2,274.1 L16.3,273.2 L18.2,272.4 L19.9,271.5 L21.3,270.7 L22.3,270.0 L22.8,269.3ZM25.3,290.8 L24.6,291.5 L23.5,292.3 L21.9,293.1 L20.1,293.9 L18.1,294.8 L16.0,295.7 L14.1,296.6 L12.3,297.4 L10.8,298.3 L9.7,299.0 L9.1,299.7 L9.1,300.4 L8.4,295.0 L8.5,294.4 L9.1,293.7 L10.1,292.9 L11.6,292.1 L13.4,291.2 L15.4,290.4 L17.4,289.5 L19.4,288.6 L21.3,287.7 L22.8,286.9 L24.0,286.1 L24.7,285.4ZM27.5,306.3 L27.1,306.9 L26.2,307.7 L24.9,308.5 L23.2,309.3 L21.3,310.2 L19.3,311.1 L17.2,311.9 L16.6,306.6 L18.6,305.7 L20.6,304.8 L22.6,303.9 L24.2,303.1 L25.5,302.3 L26.4,301.6 L26.8,300.9Z" fill="#80e322" stroke="#4a9a12" stroke-width="0.6" stroke-linejoin="round"/>
<path d="M26.1,263.0 L26.8,263.5 L28.0,263.9 L29.5,264.1 L31.4,264.3 L33.4,264.5 L35.5,264.6 L37.5,264.8 L39.4,265.0 L41.0,265.3 L42.2,265.6 L42.9,266.1 L43.2,266.6 L42.0,261.4 L41.7,260.8 L40.9,260.4 L39.7,260.0 L38.2,259.7 L36.3,259.5 L34.3,259.4 L32.2,259.2 L30.1,259.1 L28.3,258.9 L26.8,258.6 L25.6,258.2 L24.9,257.8ZM29.6,278.1 L30.3,278.6 L31.5,278.9 L33.0,279.2 L34.8,279.4 L36.8,279.6 L38.9,279.7 L41.0,279.9 L42.8,280.1 L44.4,280.3 L45.7,280.7 L46.4,281.1 L46.8,281.7 L45.5,276.4 L45.2,275.9 L44.4,275.4 L43.2,275.1 L41.6,274.8 L39.7,274.6 L37.7,274.5 L35.6,274.3 L33.6,274.2 L31.8,273.9 L30.2,273.7 L29.1,273.3 L28.4,272.8ZM33.1,293.2 L33.8,293.6 L34.9,294.0 L36.4,294.3 L38.3,294.5 L40.3,294.7 L42.4,294.8 L44.4,295.0 L46.3,295.2 L47.9,295.4 L49.1,295.8 L50.0,296.2 L50.3,296.8 L49.1,291.5 L48.7,291.0 L47.9,290.5 L46.7,290.2 L45.1,289.9 L43.2,289.7 L41.1,289.6 L39.0,289.4 L37.0,289.2 L35.2,289.0 L33.7,288.7 L32.6,288.4 L31.9,287.9ZM36.6,308.2 L37.3,308.7 L38.4,309.1 L37.2,303.8 L36.1,303.5 L35.4,303.0Z" fill="#5cb514" stroke="#4a9a12" stroke-width="0.5" stroke-linejoin="round"/><path d="M25.8,262.4 L26.1,263.0 L24.9,257.8 L24.6,257.2ZM43.2,266.6 L43.0,267.3 L42.4,268.1 L41.3,269.0 L39.9,270.0 L38.2,271.0 L36.4,272.0 L34.6,273.1 L32.9,274.1 L31.5,275.1 L30.4,276.0 L29.6,276.8 L29.4,277.5 L29.6,278.1 L28.4,272.8 L28.1,272.3 L28.4,271.6 L29.1,270.8 L30.3,269.9 L31.7,268.9 L33.4,267.8 L35.2,266.8 L37.0,265.7 L38.6,264.7 L40.1,263.7 L41.1,262.9 L41.8,262.1 L42.0,261.4ZM46.8,281.7 L46.6,282.4 L45.9,283.2 L44.9,284.1 L43.5,285.0 L41.8,286.0 L40.0,287.1 L38.2,288.1 L36.6,289.2 L35.1,290.2 L33.9,291.1 L33.2,291.9 L32.9,292.6 L33.1,293.2 L31.9,287.9 L31.7,287.3 L32.0,286.6 L32.7,285.8 L33.9,284.9 L35.3,283.9 L37.0,282.9 L38.8,281.8 L40.6,280.8 L42.2,279.8 L43.7,278.8 L44.7,277.9 L45.4,277.1 L45.5,276.4ZM50.3,296.8 L50.1,297.4 L49.5,298.2 L48.5,299.1 L47.1,300.1 L45.4,301.1 L43.7,302.1 L41.9,303.2 L40.2,304.2 L38.7,305.2 L37.5,306.1 L36.8,306.9 L36.4,307.6 L36.6,308.2 L35.4,303.0 L35.2,302.4 L35.5,301.7 L36.3,300.9 L37.4,299.9 L38.9,299.0 L40.6,297.9 L42.4,296.9 L44.2,295.8 L45.9,294.8 L47.2,293.8 L48.3,293.0 L48.9,292.2 L49.1,291.5Z" fill="#80e322" stroke="#4a9a12" stroke-width="0.6" stroke-linejoin="round"/>
<path d="M60.4,231.5 L61.0,232.0 L62.0,232.5 L63.5,232.9 L65.3,233.2 L67.4,233.5 L69.5,233.8 L71.7,234.1 L73.7,234.4 L75.5,234.8 L76.9,235.2 L77.9,235.6 L78.5,236.2 L78.5,236.8 L77.6,231.5 L77.6,230.8 L77.1,230.3 L76.1,229.8 L74.6,229.4 L72.9,229.1 L70.8,228.8 L68.7,228.5 L66.5,228.2 L64.5,227.9 L62.6,227.6 L61.2,227.2 L60.1,226.7 L59.5,226.2ZM63.1,247.5 L63.9,248.0 L65.1,248.5 L66.7,248.8 L68.7,249.2 L70.8,249.4 L72.9,249.7 L75.1,250.0 L77.0,250.3 L78.7,250.7 L79.9,251.1 L80.8,251.6 L81.1,252.2 L80.2,246.9 L79.9,246.3 L79.1,245.8 L77.8,245.4 L76.1,245.0 L74.2,244.7 L72.1,244.4 L69.9,244.1 L67.8,243.8 L65.9,243.5 L64.3,243.1 L63.0,242.7 L62.2,242.2ZM65.4,263.0 L65.9,263.5 L66.9,264.0 L68.3,264.4 L70.0,264.8 L72.0,265.1 L74.2,265.4 L76.3,265.6 L78.4,265.9 L80.2,266.3 L81.8,266.7 L82.9,267.1 L83.5,267.7 L83.6,268.3 L82.8,262.9 L82.6,262.3 L82.0,261.8 L80.9,261.3 L79.4,260.9 L77.5,260.6 L75.5,260.3 L73.3,260.0 L71.2,259.7 L69.2,259.4 L67.4,259.1 L66.0,258.7 L65.0,258.2 L64.6,257.6ZM68.1,279.0 L68.8,279.5 L69.9,280.0 L71.5,280.4 L73.3,280.7 L75.4,281.0 L77.6,281.3 L79.7,281.6 L81.7,281.9 L83.4,282.2 L84.8,282.6 L85.7,283.1 L86.1,283.7 L86.1,284.3 L85.2,279.0 L85.3,278.4 L84.9,277.8 L83.9,277.3 L82.6,276.9 L80.9,276.5 L78.9,276.2 L76.7,275.9 L74.5,275.6 L72.5,275.4 L70.6,275.0 L69.1,274.6 L67.9,274.2 L67.2,273.7ZM70.5,294.4 L70.8,295.0 L71.7,295.5 L73.0,295.9 L74.7,296.3 L76.7,296.6 L78.8,296.9 L81.0,297.2 L83.1,297.5 L85.0,297.8 L86.6,298.2 L87.8,298.6 L88.5,299.1 L88.7,299.7 L87.9,294.4 L87.6,293.8 L86.9,293.3 L85.7,292.8 L84.1,292.5 L82.2,292.1 L80.1,291.8 L78.0,291.6 L75.8,291.3 L73.9,291.0 L72.2,290.6 L70.9,290.2 L70.0,289.7 L69.6,289.1ZM73.1,310.5 L73.7,311.0 L74.7,311.5 L76.2,311.9 L78.0,312.2 L80.1,312.5 L82.2,312.8 L84.4,313.1 L86.4,313.4 L88.2,313.7 L87.3,308.4 L85.6,308.1 L83.5,307.8 L81.4,307.5 L79.2,307.2 L77.2,306.9 L75.3,306.5 L73.9,306.1 L72.8,305.7 L72.2,305.1Z" fill="#5cb514" stroke="#4a9a12" stroke-width="0.5" stroke-linejoin="round"/><path d="M63.0,228.5 L61.6,229.4 L60.7,230.2 L60.3,230.9 L60.4,231.5 L59.5,226.2 L59.5,225.5 L59.9,224.8 L60.8,224.1 L62.1,223.2ZM78.5,236.8 L78.0,237.5 L77.1,238.3 L75.7,239.2 L74.0,240.1 L72.2,241.0 L70.2,241.9 L68.2,242.9 L66.5,243.8 L64.9,244.7 L63.8,245.5 L63.1,246.3 L62.8,246.9 L63.1,247.5 L62.2,242.2 L62.0,241.6 L62.2,240.9 L62.9,240.2 L64.1,239.4 L65.6,238.5 L67.4,237.6 L69.3,236.6 L71.3,235.7 L73.2,234.7 L74.9,233.8 L76.2,233.0 L77.2,232.2 L77.6,231.5ZM81.1,252.2 L80.9,252.9 L80.2,253.6 L79.1,254.4 L77.6,255.3 L75.9,256.2 L73.9,257.2 L71.9,258.1 L70.1,259.1 L68.4,260.0 L67.0,260.8 L66.0,261.6 L65.4,262.3 L65.4,263.0 L64.6,257.6 L64.6,257.0 L65.1,256.3 L66.1,255.5 L67.5,254.6 L69.2,253.7 L71.1,252.8 L73.1,251.8 L75.0,250.9 L76.8,250.0 L78.3,249.1 L79.4,248.3 L80.1,247.5 L80.2,246.9ZM83.6,268.3 L83.2,269.0 L82.4,269.7 L81.1,270.6 L79.5,271.5 L77.6,272.4 L75.7,273.3 L73.7,274.3 L71.9,275.2 L70.3,276.1 L69.1,276.9 L68.2,277.7 L67.9,278.4 L68.1,279.0 L67.2,273.7 L67.1,273.1 L67.4,272.4 L68.2,271.6 L69.4,270.8 L71.0,269.9 L72.9,269.0 L74.8,268.0 L76.8,267.1 L78.6,266.1 L80.2,265.2 L81.5,264.4 L82.4,263.6 L82.8,262.9ZM86.1,284.3 L85.5,285.1 L84.5,285.9 L83.0,286.7 L81.3,287.6 L79.4,288.6 L77.4,289.5 L75.5,290.5 L73.8,291.4 L72.3,292.2 L71.2,293.0 L70.6,293.8 L70.5,294.4 L69.6,289.1 L69.7,288.5 L70.4,287.7 L71.4,286.9 L72.9,286.0 L74.6,285.1 L76.6,284.2 L78.6,283.2 L80.5,282.3 L82.2,281.4 L83.6,280.5 L84.6,279.7 L85.2,279.0ZM88.7,299.7 L88.4,300.4 L87.7,301.2 L86.5,302.0 L84.9,302.9 L83.1,303.8 L81.2,304.7 L79.2,305.7 L77.3,306.6 L75.7,307.5 L74.4,308.4 L73.5,309.1 L73.0,309.8 L73.1,310.5 L72.2,305.1 L72.2,304.5 L72.6,303.8 L73.5,303.0 L74.8,302.2 L76.5,301.3 L78.3,300.4 L80.3,299.4 L82.3,298.5 L84.1,297.5 L85.6,296.7 L86.8,295.8 L87.6,295.1 L87.9,294.4Z" fill="#80e322" stroke="#4a9a12" stroke-width="0.6" stroke-linejoin="round"/>
<path d="M78.2,241.0 L79.8,241.1 L81.6,241.1 L83.7,241.0 L85.9,240.9 L88.0,240.7 L90.1,240.6 L91.9,240.6 L93.4,240.7 L94.6,241.0 L95.3,241.4 L95.5,242.0 L93.7,236.9 L93.4,236.3 L92.7,235.9 L91.6,235.7 L90.0,235.6 L88.2,235.6 L86.2,235.7 L84.0,235.8 L81.9,235.9 L79.8,236.0 L77.9,236.0 L76.4,235.9ZM81.8,255.6 L82.4,256.1 L83.4,256.4 L84.8,256.5 L86.5,256.6 L88.5,256.5 L90.7,256.4 L92.8,256.3 L94.9,256.2 L96.9,256.1 L98.5,256.2 L99.8,256.4 L100.7,256.7 L101.1,257.2 L99.3,252.1 L98.9,251.6 L98.0,251.3 L96.7,251.1 L95.0,251.1 L93.1,251.1 L91.0,251.2 L88.8,251.3 L86.7,251.4 L84.7,251.5 L82.9,251.5 L81.5,251.3 L80.5,251.0 L80.0,250.6ZM87.8,271.4 L88.6,271.8 L89.9,272.0 L91.5,272.1 L93.4,272.0 L95.5,271.9 L97.6,271.8 L99.8,271.7 L101.8,271.6 L103.6,271.6 L105.0,271.8 L106.1,272.0 L106.7,272.5 L106.9,273.1 L105.0,268.0 L104.8,267.4 L104.2,267.0 L103.2,266.7 L101.7,266.6 L99.9,266.6 L97.9,266.6 L95.8,266.7 L93.6,266.9 L91.5,267.0 L89.6,267.0 L88.0,266.9 L86.8,266.7 L85.9,266.4ZM93.3,286.7 L93.9,287.2 L95.0,287.4 L96.5,287.6 L98.3,287.6 L100.3,287.5 L102.4,287.4 L104.6,287.2 L106.7,287.1 L108.6,287.1 L110.2,287.2 L111.4,287.4 L112.2,287.8 L112.5,288.3 L110.7,283.3 L110.3,282.7 L109.5,282.3 L108.3,282.1 L106.7,282.0 L104.8,282.1 L102.7,282.2 L100.6,282.3 L98.4,282.4 L96.4,282.5 L94.6,282.5 L93.1,282.4 L92.0,282.1 L91.4,281.7ZM98.8,302.0 L99.3,302.5 L100.2,302.8 L101.5,303.0 L103.2,303.1 L105.1,303.0 L107.2,302.9 L109.4,302.8 L111.5,302.7 L113.5,302.6 L115.2,302.6 L116.6,302.8 L117.6,303.1 L118.1,303.6 L118.2,304.2 L116.3,299.1 L116.3,298.5 L115.7,298.0 L114.7,297.7 L113.4,297.6 L111.6,297.5 L109.7,297.6 L107.5,297.7 L105.4,297.8 L103.2,297.9 L101.3,298.0 L99.6,297.9 L98.3,297.8 L97.4,297.4 L96.9,296.9Z" fill="#5cb514" stroke="#4a9a12" stroke-width="0.5" stroke-linejoin="round"/><path d="M95.5,242.0 L95.3,242.7 L94.6,243.6 L93.6,244.7 L92.2,245.8 L90.6,247.1 L88.9,248.4 L87.2,249.7 L85.5,251.0 L84.1,252.2 L82.9,253.3 L82.1,254.2 L81.7,255.0 L81.8,255.6 L80.0,250.6 L79.9,249.9 L80.3,249.1 L81.0,248.2 L82.2,247.1 L83.6,245.9 L85.3,244.6 L87.0,243.3 L88.8,242.0 L90.4,240.8 L91.7,239.6 L92.8,238.6 L93.4,237.7 L93.7,236.9ZM101.1,257.2 L101.1,257.9 L100.6,258.7 L99.7,259.7 L98.5,260.9 L97.0,262.1 L95.3,263.4 L93.5,264.7 L91.8,266.0 L90.3,267.2 L89.0,268.3 L88.1,269.3 L87.5,270.2 L87.4,270.9 L87.8,271.4 L85.9,266.4 L85.6,265.8 L85.7,265.1 L86.2,264.3 L87.1,263.3 L88.4,262.1 L90.0,260.9 L91.7,259.6 L93.4,258.3 L95.1,257.0 L96.6,255.8 L97.9,254.7 L98.8,253.7 L99.3,252.8 L99.3,252.1ZM106.9,273.1 L106.5,273.9 L105.8,274.8 L104.7,275.9 L103.3,277.1 L101.6,278.3 L99.9,279.6 L98.2,280.9 L96.6,282.2 L95.2,283.4 L94.1,284.4 L93.4,285.4 L93.1,286.1 L93.3,286.7 L91.4,281.7 L91.2,281.1 L91.5,280.3 L92.2,279.4 L93.3,278.3 L94.7,277.1 L96.3,275.9 L98.1,274.6 L99.8,273.3 L101.4,272.0 L102.8,270.8 L103.9,269.7 L104.7,268.8 L105.0,268.0ZM112.5,288.3 L112.4,289.0 L111.8,289.9 L110.9,290.9 L109.6,292.1 L108.0,293.3 L106.3,294.6 L104.5,295.9 L102.9,297.2 L101.4,298.4 L100.1,299.5 L99.3,300.5 L98.8,301.3 L98.8,302.0 L96.9,296.9 L96.9,296.3 L97.4,295.4 L98.3,294.4 L99.5,293.3 L101.0,292.1 L102.7,290.8 L104.4,289.5 L106.1,288.2 L107.7,287.0 L109.0,285.9 L110.0,284.8 L110.5,284.0 L110.7,283.3ZM118.2,304.2 L117.8,305.0 L117.0,306.0 L115.8,307.1 L114.3,308.3 L112.5,303.2 L113.9,302.0 L115.1,300.9 L115.9,300.0 L116.3,299.1Z" fill="#80e322" stroke="#4a9a12" stroke-width="0.6" stroke-linejoin="round"/>
<path d="M16,312 22,320 32,322 45,324 57,322 62,324" fill="none" stroke="#6bd01a" stroke-width="1.4" stroke-linejoin="round" stroke-linecap="round"/>
<path d="M108,306 113,315 108,322 106,327" fill="none" stroke="#6bd01a" stroke-width="1.4" stroke-linejoin="round" stroke-linecap="round"/>
<path d="M50,242 Q54,245 56,250 Q58,253 63,252 L66,251" fill="none" stroke="#4a9a12" stroke-width="2"/><path d="M50,242 Q54,245 56,250 Q58,253 63,252 L66,251" fill="none" stroke="#80e322" stroke-width="1.1"/>
<path d="M60,222 64,219 70,221" fill="none" stroke="#6bd01a" stroke-width="1.6" stroke-linejoin="round" stroke-linecap="round"/>
<path d="M181.80,236.20 C184.03,232.03 184.60,227.50 187.40,225.00 C190.20,222.50 194.85,221.95 198.60,221.20 C202.35,220.45 207.08,219.57 209.90,220.50 C212.72,221.43 213.63,224.18 215.50,226.80 C217.37,229.42 219.18,232.77 221.10,236.20 C223.02,239.63 225.52,243.05 227.00,247.40 C228.48,251.75 229.25,257.32 230.00,262.30 C230.75,267.28 230.67,272.32 231.50,277.30 C232.33,282.28 234.25,287.22 235.00,292.20 C235.75,297.18 235.92,302.22 236.00,307.20 C236.08,312.18 236.00,317.80 235.50,322.10 C235.00,326.40 235.58,330.27 233.00,333.00 C230.42,335.73 225.10,337.83 220.00,338.50 C214.90,339.17 207.40,337.92 202.40,337.00 C197.40,336.08 193.07,335.17 190.00,333.00 C186.93,330.83 185.67,327.05 184.00,324.00 C182.33,320.95 181.33,318.70 180.00,314.70 C178.67,310.70 177.33,307.45 176.00,300.00 C174.67,292.55 172.33,278.33 172.00,270.00 C171.67,261.67 172.37,255.63 174.00,250.00 C175.63,244.37 179.57,240.37 181.80,236.20Z" fill="#f4f4f4" stroke="#c0c0c0" stroke-width="0.5"/>
<ellipse cx="205" cy="225" rx="6" ry="2.5" fill="#d0d0d0" filter="url(#b1)"/>
<ellipse cx="219" cy="240" rx="3" ry="5" fill="#bdbdbd" filter="url(#b1)"/>
<ellipse cx="227" cy="270" rx="2.5" ry="7" fill="#b5b5b5" filter="url(#b1)"/>
<ellipse cx="230" cy="300" rx="3" ry="8" fill="#c4c4c4" filter="url(#b1)"/>
<ellipse cx="222" cy="331" rx="6" ry="2.5" fill="#c9c9c9" filter="url(#b1)"/>
<ellipse cx="188" cy="326" rx="4" ry="3" fill="#c4c4c4" filter="url(#b1)"/>
<ellipse cx="211" cy="259" rx="3" ry="2" fill="#d6d6d6" filter="url(#b1)"/>
<ellipse cx="186" cy="232" rx="3" ry="4" fill="#d0d0d0" filter="url(#b1)"/>
<ellipse cx="217" cy="250" rx="2" ry="3" fill="#c8c8c8" filter="url(#b1)"/>
<path d="M171.50,247.00 C172.58,243.75 177.58,244.67 180.00,245.50 C182.42,246.33 184.33,247.92 186.00,252.00 C187.67,256.08 188.92,263.67 190.00,270.00 C191.08,276.33 191.67,283.33 192.50,290.00 C193.33,296.67 194.67,304.50 195.00,310.00 C195.33,315.50 196.00,321.00 194.50,323.00 C193.00,325.00 188.25,325.00 186.00,322.00 C183.75,319.00 182.50,311.17 181.00,305.00 C179.50,298.83 178.25,291.67 177.00,285.00 C175.75,278.33 174.42,271.33 173.50,265.00 C172.58,258.67 170.42,250.25 171.50,247.00Z" fill="#8a8a8a"/>
<path d="M173,250 Q176,262 175,272 M178,275 Q181,290 183,300 M184,304 Q187,314 187,322" fill="none" stroke="#3a3a3a" stroke-width="1.8"/>
<path d="M185,255 Q189,266 189,276 M190,290 Q193,300 193,312" fill="none" stroke="#444" stroke-width="1.4"/>
<path d="M177,249 Q183,256 184,266 T188,285 T190.5,304 T191,318" fill="none" stroke="#f2f2f2" stroke-width="1.7"/>
<path d="M175,258 Q179,268 180,278" fill="none" stroke="#e0e0e0" stroke-width="1"/>
<path d="M182,249 Q186,256 187,264" fill="none" stroke="#fafafa" stroke-width="1.4"/>
<path d="M138.20,215.60 C141.00,213.87 146.58,214.50 150.50,214.50 C154.42,214.50 159.03,215.10 161.70,215.60 C164.37,216.10 165.88,215.95 166.50,217.50 C167.12,219.05 166.20,222.42 165.40,224.90 C164.60,227.38 162.02,230.22 161.70,232.40 C161.38,234.58 162.27,236.45 163.50,238.00 C164.73,239.55 167.73,240.15 169.10,241.70 C170.47,243.25 171.38,243.88 171.70,247.30 C172.02,250.72 171.23,256.62 171.00,262.20 C170.77,267.78 170.18,275.83 170.30,280.80 C170.42,285.77 170.97,288.88 171.70,292.00 C172.43,295.12 173.88,296.70 174.70,299.50 C175.52,302.30 176.10,305.08 176.60,308.80 C177.10,312.52 178.02,318.38 177.70,321.80 C177.38,325.22 176.43,327.75 174.70,329.30 C172.97,330.85 169.47,331.73 167.30,331.10 C165.13,330.47 162.95,327.67 161.70,325.50 C160.45,323.33 159.80,320.58 159.80,318.10 C159.80,315.62 161.08,312.78 161.70,310.60 C162.32,308.42 164.12,306.85 163.50,305.00 C162.88,303.15 159.85,300.55 158.00,299.50 C156.15,298.45 153.97,298.08 152.40,298.70 C150.83,299.32 149.85,301.33 148.60,303.20 C147.35,305.07 146.45,308.67 144.90,309.90 C143.35,311.13 140.85,311.42 139.30,310.60 C137.75,309.78 136.03,308.10 135.60,305.00 C135.17,301.90 137.02,296.65 136.70,292.00 C136.38,287.35 134.07,282.07 133.70,277.10 C133.33,272.13 133.87,265.93 134.50,262.20 C135.13,258.47 137.63,257.18 137.50,254.70 C137.37,252.22 134.63,250.40 133.70,247.30 C132.77,244.20 131.90,239.83 131.90,236.10 C131.90,232.37 132.65,228.32 133.70,224.90 C134.75,221.48 135.40,217.33 138.20,215.60Z" fill="#f5f5f5" stroke="#c0c0c0" stroke-width="4"/>
<path d="M138.20,215.60 C141.00,213.87 146.58,214.50 150.50,214.50 C154.42,214.50 159.03,215.10 161.70,215.60 C164.37,216.10 165.88,215.95 166.50,217.50 C167.12,219.05 166.20,222.42 165.40,224.90 C164.60,227.38 162.02,230.22 161.70,232.40 C161.38,234.58 162.27,236.45 163.50,238.00 C164.73,239.55 167.73,240.15 169.10,241.70 C170.47,243.25 171.38,243.88 171.70,247.30 C172.02,250.72 171.23,256.62 171.00,262.20 C170.77,267.78 170.18,275.83 170.30,280.80 C170.42,285.77 170.97,288.88 171.70,292.00 C172.43,295.12 173.88,296.70 174.70,299.50 C175.52,302.30 176.10,305.08 176.60,308.80 C177.10,312.52 178.02,318.38 177.70,321.80 C177.38,325.22 176.43,327.75 174.70,329.30 C172.97,330.85 169.47,331.73 167.30,331.10 C165.13,330.47 162.95,327.67 161.70,325.50 C160.45,323.33 159.80,320.58 159.80,318.10 C159.80,315.62 161.08,312.78 161.70,310.60 C162.32,308.42 164.12,306.85 163.50,305.00 C162.88,303.15 159.85,300.55 158.00,299.50 C156.15,298.45 153.97,298.08 152.40,298.70 C150.83,299.32 149.85,301.33 148.60,303.20 C147.35,305.07 146.45,308.67 144.90,309.90 C143.35,311.13 140.85,311.42 139.30,310.60 C137.75,309.78 136.03,308.10 135.60,305.00 C135.17,301.90 137.02,296.65 136.70,292.00 C136.38,287.35 134.07,282.07 133.70,277.10 C133.33,272.13 133.87,265.93 134.50,262.20 C135.13,258.47 137.63,257.18 137.50,254.70 C137.37,252.22 134.63,250.40 133.70,247.30 C132.77,244.20 131.90,239.83 131.90,236.10 C131.90,232.37 132.65,228.32 133.70,224.90 C134.75,221.48 135.40,217.33 138.20,215.60Z" fill="none" stroke="#f5f5f5" stroke-width="3"/>
<ellipse cx="152" cy="303" rx="5" ry="3" fill="#c4c4c4" filter="url(#b07)"/>
<ellipse cx="141" cy="311" rx="3" ry="2" fill="#cccccc" filter="url(#b07)"/>
<ellipse cx="131" cy="250" rx="1.5" ry="4" fill="#c9c9c9" filter="url(#b07)"/>
<ellipse cx="168" cy="330" rx="4" ry="2" fill="#c8c8c8" filter="url(#b07)"/>
<path d="M138.20,215.60 C141.00,213.87 146.58,214.50 150.50,214.50 C154.42,214.50 159.03,215.10 161.70,215.60 C164.37,216.10 165.88,215.95 166.50,217.50 C167.12,219.05 166.20,222.42 165.40,224.90 C164.60,227.38 162.02,230.22 161.70,232.40 C161.38,234.58 162.27,236.45 163.50,238.00 C164.73,239.55 167.73,240.15 169.10,241.70 C170.47,243.25 171.38,243.88 171.70,247.30 C172.02,250.72 171.23,256.62 171.00,262.20 C170.77,267.78 170.18,275.83 170.30,280.80 C170.42,285.77 170.97,288.88 171.70,292.00 C172.43,295.12 173.88,296.70 174.70,299.50 C175.52,302.30 176.10,305.08 176.60,308.80 C177.10,312.52 178.02,318.38 177.70,321.80 C177.38,325.22 176.43,327.75 174.70,329.30 C172.97,330.85 169.47,331.73 167.30,331.10 C165.13,330.47 162.95,327.67 161.70,325.50 C160.45,323.33 159.80,320.58 159.80,318.10 C159.80,315.62 161.08,312.78 161.70,310.60 C162.32,308.42 164.12,306.85 163.50,305.00 C162.88,303.15 159.85,300.55 158.00,299.50 C156.15,298.45 153.97,298.08 152.40,298.70 C150.83,299.32 149.85,301.33 148.60,303.20 C147.35,305.07 146.45,308.67 144.90,309.90 C143.35,311.13 140.85,311.42 139.30,310.60 C137.75,309.78 136.03,308.10 135.60,305.00 C135.17,301.90 137.02,296.65 136.70,292.00 C136.38,287.35 134.07,282.07 133.70,277.10 C133.33,272.13 133.87,265.93 134.50,262.20 C135.13,258.47 137.63,257.18 137.50,254.70 C137.37,252.22 134.63,250.40 133.70,247.30 C132.77,244.20 131.90,239.83 131.90,236.10 C131.90,232.37 132.65,228.32 133.70,224.90 C134.75,221.48 135.40,217.33 138.20,215.60Z" fill="#b8f4b4"/>
<path d="M200.80,237.90 C203.17,236.32 206.60,236.03 208.70,236.30 C210.80,236.57 212.88,237.65 213.40,239.50 C213.92,241.35 212.85,245.03 211.80,247.40 C210.75,249.77 207.62,251.33 207.10,253.70 C206.58,256.07 207.38,258.97 208.70,261.60 C210.02,264.23 212.90,268.72 215.00,269.50 C217.10,270.28 220.08,267.88 221.30,266.30 C222.52,264.72 221.52,261.58 222.30,260.00 C223.08,258.42 225.12,256.53 226.00,256.80 C226.88,257.07 227.85,259.48 227.60,261.60 C227.35,263.72 225.28,266.35 224.50,269.50 C223.72,272.65 222.90,276.55 222.90,280.50 C222.90,284.45 223.72,288.98 224.50,293.20 C225.28,297.42 226.55,302.12 227.60,305.80 C228.65,309.48 230.27,311.62 230.80,315.30 C231.33,318.98 231.60,324.75 230.80,327.90 C230.00,331.05 228.37,332.88 226.00,334.20 C223.63,335.52 219.75,336.07 216.60,335.80 C213.45,335.53 210.27,333.40 207.10,332.60 C203.93,331.80 199.97,332.32 197.60,331.00 C195.23,329.68 193.95,327.85 192.90,324.70 C191.85,321.55 191.03,316.30 191.30,312.10 C191.57,307.90 193.97,304.23 194.50,299.50 C195.03,294.77 194.77,288.97 194.50,283.70 C194.23,278.43 193.43,272.63 192.90,267.90 C192.37,263.17 191.03,258.98 191.30,255.30 C191.57,251.62 192.92,248.70 194.50,245.80 C196.08,242.90 198.43,239.48 200.80,237.90Z" fill="#b8f4b4"/>
<text x="239.5" y="180.5" font-family="Liberation Sans" font-weight="bold" font-size="16">f</text>
<rect x="254.7" y="182.4" width="16.7" height="8.3" fill="#a3a3a3" stroke="#333" stroke-width="0.7"/>
<rect x="254.7" y="197.4" width="16.7" height="8.1" fill="#f39a22" stroke="#333" stroke-width="0.7"/>
<text x="274" y="189.1" font-family="Liberation Sans" font-weight="bold" font-size="9.35">SsNMR Structure with Bound Lipids</text>
<text x="274" y="204.8" font-family="Liberation Sans" font-weight="bold" font-size="9.35">MD Simulation Structure with Bound CDL</text>
<path d="M284.8,224.9 L285.4,225.5 L286.5,226.2 L287.9,226.9 L289.6,227.6 L291.5,228.2 L293.5,228.9 L295.4,229.6 L297.2,230.3 L298.7,231.0 L299.8,231.7 L300.5,232.3 L300.7,232.9 L300.5,233.6 L300.7,228.2 L300.9,227.5 L300.7,226.9 L300.0,226.3 L298.9,225.6 L297.4,224.9 L295.6,224.2 L293.7,223.5 L291.7,222.9 L289.8,222.2 L288.1,221.5 L286.7,220.8 L285.6,220.1 L285.0,219.5ZM284.1,240.4 L284.3,241.1 L285.1,241.7 L286.2,242.4 L287.8,243.0 L289.5,243.7 L291.5,244.4 L293.4,245.1 L295.3,245.8 L297.0,246.5 L298.4,247.2 L299.5,247.8 L300.0,248.5 L300.1,249.1 L300.3,243.7 L300.2,243.1 L299.7,242.4 L298.6,241.8 L297.2,241.1 L295.5,240.4 L293.6,239.7 L291.7,239.0 L289.7,238.3 L288.0,237.7 L286.4,237.0 L285.3,236.3 L284.5,235.7 L284.3,235.0ZM283.5,256.6 L283.9,257.2 L284.8,257.9 L286.0,258.5 L287.6,259.2 L289.5,259.9 L291.4,260.6 L293.4,261.3 L295.2,262.0 L296.9,262.7 L298.2,263.3 L299.1,264.0 L299.5,264.6 L299.5,265.3 L299.7,259.9 L299.7,259.2 L299.3,258.6 L298.4,257.9 L297.1,257.3 L295.4,256.6 L293.6,255.9 L291.6,255.2 L289.7,254.5 L287.8,253.8 L286.2,253.1 L285.0,252.5 L284.1,251.8 L283.7,251.2ZM283.0,272.7 L283.5,273.4 L284.5,274.0 L285.9,274.7 L287.5,275.4 L289.4,276.1 L291.4,276.8 L293.3,277.5 L295.1,278.2 L296.7,278.8 L297.9,279.5 L298.7,280.2 L299.0,280.8 L298.8,281.4 L299.0,276.0 L299.2,275.4 L298.9,274.8 L298.1,274.1 L296.9,273.4 L295.3,272.8 L293.5,272.1 L291.6,271.4 L289.6,270.7 L287.7,270.0 L286.1,269.3 L284.7,268.6 L283.7,268.0 L283.2,267.3ZM282.5,288.9 L283.2,289.6 L284.3,290.2 L285.7,290.9 L287.5,291.6 L289.4,292.3 L291.3,293.0 L293.3,293.7 L295.0,294.3 L296.5,295.0 L297.6,295.7 L298.2,296.3 L298.4,297.0 L298.6,291.6 L298.4,290.9 L297.8,290.3 L296.7,289.6 L295.2,288.9 L293.5,288.3 L291.5,287.6 L289.6,286.9 L287.7,286.2 L285.9,285.5 L284.4,284.8 L283.4,284.2 L282.7,283.5ZM281.7,304.4 L282.1,305.1 L282.8,305.7 L284.0,306.4 L285.6,307.1 L287.4,307.8 L289.3,308.4 L291.3,309.1 L293.2,309.8 L294.8,310.5 L296.2,311.2 L297.2,311.8 L297.7,312.5 L297.8,313.1 L298.0,307.7 L297.9,307.1 L297.4,306.4 L296.4,305.8 L295.0,305.1 L293.4,304.4 L291.5,303.7 L289.5,303.0 L287.6,302.4 L285.8,301.7 L284.2,301.0 L283.0,300.3 L282.2,299.7 L281.9,299.0ZM281.2,320.6 L281.6,321.2 L282.5,321.9 L283.8,322.6 L285.5,323.2 L287.3,323.9 L289.3,324.6 L291.2,325.3 L293.1,326.0 L294.7,326.7 L295.9,327.4 L296.8,328.0 L297.2,328.6 L297.1,329.3 L297.3,323.9 L297.4,323.2 L297.0,322.6 L296.1,322.0 L294.9,321.3 L293.3,320.6 L291.4,319.9 L289.5,319.2 L287.5,318.5 L285.7,317.8 L284.0,317.2 L282.7,316.5 L281.8,315.8 L281.4,315.2Z" fill="#dcdcdc" stroke="#a8a8a8" stroke-width="0.5" stroke-linejoin="round"/><path d="M287.0,222.5 L285.8,223.1 L285.0,223.7 L284.6,224.3 L284.8,224.9 L285.0,219.5 L284.8,218.9 L285.2,218.3 L286.0,217.7 L287.2,217.1ZM300.5,233.6 L299.8,234.1 L298.6,234.7 L297.1,235.3 L295.3,235.9 L293.3,236.4 L291.3,237.0 L289.3,237.5 L287.6,238.1 L286.1,238.6 L284.9,239.2 L284.3,239.8 L284.1,240.4 L284.3,235.0 L284.5,234.4 L285.1,233.8 L286.3,233.2 L287.8,232.7 L289.5,232.1 L291.5,231.6 L293.5,231.0 L295.5,230.5 L297.3,229.9 L298.8,229.3 L299.9,228.8 L300.7,228.2ZM300.1,249.1 L299.7,249.7 L298.9,250.3 L297.6,250.9 L296.0,251.4 L294.2,252.0 L292.2,252.5 L290.2,253.1 L288.3,253.6 L286.5,254.2 L285.1,254.8 L284.1,255.4 L283.6,256.0 L283.5,256.6 L283.7,251.2 L283.8,250.6 L284.3,250.0 L285.3,249.4 L286.7,248.8 L288.4,248.2 L290.4,247.7 L292.4,247.1 L294.4,246.6 L296.2,246.0 L297.8,245.5 L299.1,244.9 L299.9,244.3 L300.3,243.7ZM299.5,265.3 L299.0,265.9 L298.0,266.4 L296.6,267.0 L295.0,267.6 L293.1,268.1 L291.0,268.7 L289.1,269.2 L287.2,269.8 L285.5,270.3 L284.2,270.9 L283.4,271.5 L282.9,272.1 L283.0,272.7 L283.2,267.3 L283.1,266.7 L283.6,266.1 L284.4,265.5 L285.7,265.0 L287.4,264.4 L289.2,263.8 L291.2,263.3 L293.3,262.7 L295.2,262.2 L296.8,261.6 L298.2,261.0 L299.2,260.5 L299.7,259.9ZM298.8,281.4 L298.2,282.0 L297.1,282.6 L295.6,283.2 L293.9,283.7 L291.9,284.3 L289.9,284.8 L287.9,285.4 L286.1,285.9 L284.6,286.5 L283.4,287.1 L282.6,287.7 L282.3,288.3 L282.5,288.9 L282.7,283.5 L282.5,282.9 L282.8,282.3 L283.6,281.7 L284.8,281.1 L286.3,280.5 L288.1,280.0 L290.1,279.4 L292.1,278.9 L294.1,278.3 L295.8,277.8 L297.3,277.2 L298.4,276.6 L299.0,276.0ZM298.4,297.0 L298.1,297.6 L297.3,298.2 L296.1,298.7 L294.6,299.3 L292.8,299.9 L290.8,300.4 L288.8,301.0 L286.8,301.5 L285.1,302.1 L283.6,302.6 L282.5,303.2 L281.9,303.8 L281.7,304.4 L281.9,299.0 L282.1,298.4 L282.7,297.8 L283.8,297.2 L285.3,296.7 L287.0,296.1 L289.0,295.6 L291.0,295.0 L293.0,294.5 L294.8,293.9 L296.3,293.3 L297.5,292.8 L298.3,292.2 L298.6,291.6ZM297.8,313.1 L297.4,313.7 L296.5,314.3 L295.2,314.9 L293.5,315.4 L291.7,316.0 L289.7,316.5 L287.7,317.1 L285.8,317.6 L284.1,318.2 L282.7,318.8 L281.7,319.4 L281.2,320.0 L281.2,320.6 L281.4,315.2 L281.4,314.6 L281.9,314.0 L282.9,313.4 L284.3,312.8 L286.0,312.3 L287.9,311.7 L289.9,311.2 L291.9,310.6 L293.7,310.0 L295.4,309.5 L296.7,308.9 L297.6,308.3 L298.0,307.7ZM297.1,329.3 L296.6,329.9 L295.6,330.5 L294.2,331.0 L292.5,331.6 L290.6,332.1 L288.5,332.7 L288.7,327.3 L290.8,326.7 L292.7,326.2 L294.4,325.6 L295.8,325.1 L296.8,324.5 L297.3,323.9Z" fill="#f2f2f2" stroke="#a8a8a8" stroke-width="0.6" stroke-linejoin="round"/>
<path d="M309.2,262.6 L309.9,263.2 L311.0,263.7 L312.4,264.3 L314.2,264.7 L316.0,265.2 L318.0,265.7 L319.8,266.2 L321.5,266.7 L322.9,267.2 L323.9,267.7 L324.5,268.3 L324.6,268.9 L324.2,263.6 L324.1,262.9 L323.5,262.4 L322.5,261.8 L321.1,261.3 L319.4,260.8 L317.6,260.3 L315.6,259.8 L313.7,259.4 L312.0,258.9 L310.6,258.4 L309.5,257.8 L308.8,257.2ZM310.5,278.2 L311.3,278.8 L312.5,279.3 L314.0,279.8 L315.7,280.3 L317.6,280.8 L319.6,281.2 L321.4,281.7 L323.0,282.2 L324.4,282.7 L325.3,283.3 L325.8,283.9 L325.8,284.5 L325.3,279.1 L325.3,278.5 L324.9,277.9 L323.9,277.4 L322.6,276.8 L321.0,276.3 L319.1,275.9 L317.2,275.4 L315.3,274.9 L313.5,274.4 L312.0,273.9 L310.9,273.4 L310.1,272.8ZM311.5,293.2 L311.9,293.8 L312.7,294.3 L313.9,294.9 L315.5,295.4 L317.3,295.8 L319.2,296.3 L321.2,296.8 L323.0,297.3 L324.5,297.8 L325.8,298.3 L326.6,298.9 L327.0,299.5 L326.9,300.1 L326.5,294.7 L326.6,294.1 L326.2,293.5 L325.4,292.9 L324.1,292.4 L322.5,291.9 L320.7,291.4 L318.8,290.9 L316.9,290.5 L315.1,290.0 L313.5,289.5 L312.3,288.9 L311.5,288.4 L311.1,287.8ZM312.8,308.7 L313.2,309.3 L314.1,309.9 L315.5,310.4 L317.1,310.9 L318.9,311.4 L320.8,311.9 L322.8,312.3 L324.5,312.8 L326.0,313.3 L327.2,313.9 L328.0,314.4 L328.3,315.0 L328.1,315.7 L327.7,310.3 L327.8,309.7 L327.5,309.0 L326.8,308.5 L325.6,307.9 L324.1,307.4 L322.3,307.0 L320.4,306.5 L318.5,306.0 L316.6,305.5 L315.0,305.0 L313.7,304.5 L312.8,303.9 L312.3,303.4ZM314.0,324.3 L314.6,324.9 L315.6,325.4 L317.0,326.0 L318.6,326.5 L320.5,326.9 L322.4,327.4 L324.3,327.9 L326.1,328.4 L327.5,328.9 L328.6,329.4 L329.3,330.0 L329.5,330.6 L329.1,325.2 L328.9,324.6 L328.2,324.0 L327.1,323.5 L325.6,323.0 L323.9,322.5 L322.0,322.0 L320.1,321.5 L318.2,321.1 L316.5,320.6 L315.2,320.1 L314.2,319.5 L313.6,318.9Z" fill="#dcdcdc" stroke="#a8a8a8" stroke-width="0.5" stroke-linejoin="round"/><path d="M316.2,257.7 L314.4,258.5 L312.7,259.2 L311.2,260.0 L310.1,260.7 L309.3,261.4 L309.0,262.0 L309.2,262.6 L308.8,257.2 L308.6,256.6 L308.9,256.0 L309.6,255.3 L310.8,254.6 L312.3,253.8 L314.0,253.1 L315.8,252.3ZM324.6,268.9 L324.2,269.6 L323.4,270.3 L322.2,271.0 L320.6,271.8 L318.9,272.5 L317.1,273.3 L315.3,274.1 L313.6,274.8 L312.2,275.6 L311.1,276.3 L310.5,277.0 L310.3,277.6 L310.5,278.2 L310.1,272.8 L309.8,272.2 L310.0,271.6 L310.7,270.9 L311.8,270.2 L313.2,269.4 L314.8,268.7 L316.6,267.9 L318.5,267.1 L320.2,266.4 L321.7,265.6 L323.0,264.9 L323.8,264.2 L324.2,263.6ZM325.8,284.5 L325.3,285.2 L324.4,285.9 L323.1,286.6 L321.5,287.4 L319.8,288.1 L317.9,288.9 L316.1,289.7 L314.5,290.4 L313.2,291.2 L312.2,291.9 L311.6,292.5 L311.5,293.2 L311.1,287.8 L311.2,287.1 L311.7,286.5 L312.7,285.8 L314.1,285.0 L315.7,284.3 L317.5,283.5 L319.3,282.7 L321.1,282.0 L322.7,281.2 L324.0,280.5 L324.9,279.8 L325.3,279.1ZM326.9,300.1 L326.4,300.8 L325.4,301.5 L324.0,302.2 L322.4,303.0 L320.6,303.7 L318.8,304.5 L317.0,305.3 L315.4,306.0 L314.2,306.7 L313.2,307.4 L312.8,308.1 L312.8,308.7 L312.3,303.4 L312.3,302.7 L312.8,302.1 L313.7,301.4 L315.0,300.6 L316.6,299.9 L318.4,299.1 L320.2,298.3 L322.0,297.6 L323.6,296.8 L325.0,296.1 L326.0,295.4 L326.5,294.7ZM328.1,315.7 L327.4,316.4 L326.4,317.1 L325.0,317.8 L323.3,318.6 L321.5,319.3 L319.7,320.1 L317.9,320.9 L316.4,321.6 L315.2,322.3 L314.3,323.0 L313.9,323.7 L314.0,324.3 L313.6,318.9 L313.5,318.3 L313.9,317.6 L314.7,317.0 L316.0,316.2 L317.5,315.5 L319.2,314.7 L321.1,313.9 L322.9,313.2 L324.5,312.4 L326.0,311.7 L327.0,311.0 L327.7,310.3ZM329.5,330.6 L329.2,331.3 L328.5,331.9 L327.3,332.7 L325.9,333.4 L325.5,328.0 L326.9,327.3 L328.1,326.6 L328.8,325.9 L329.1,325.2Z" fill="#f2f2f2" stroke="#a8a8a8" stroke-width="0.6" stroke-linejoin="round"/>
<path d="M327.9,217.5 L329.0,218.0 L330.5,218.5 L332.3,218.9 L334.3,219.3 L336.3,219.7 L338.4,220.1 L340.2,220.5 L341.8,221.0 L343.1,221.5 L343.9,222.0 L344.2,222.6 L344.1,223.3 L343.5,217.9 L343.6,217.2 L343.3,216.6 L342.5,216.1 L341.2,215.6 L339.6,215.2 L337.8,214.7 L335.7,214.3 L333.7,213.9 L331.7,213.5 L329.9,213.1 L328.4,212.6 L327.3,212.1ZM328.8,232.5 L329.2,233.1 L330.0,233.6 L331.3,234.1 L332.9,234.5 L334.8,235.0 L336.8,235.4 L338.9,235.8 L340.9,236.2 L342.6,236.6 L344.1,237.1 L345.2,237.6 L345.8,238.1 L346.0,238.7 L345.4,233.4 L345.2,232.8 L344.6,232.2 L343.5,231.7 L342.0,231.2 L340.3,230.8 L338.3,230.4 L336.2,230.0 L334.2,229.6 L332.3,229.2 L330.7,228.7 L329.4,228.2 L328.6,227.7 L328.2,227.1ZM330.7,248.6 L331.2,249.2 L332.2,249.7 L333.6,250.2 L335.4,250.6 L337.3,251.0 L339.4,251.4 L341.4,251.8 L343.3,252.2 L345.0,252.7 L346.3,253.2 L347.2,253.7 L347.7,254.3 L347.7,254.9 L347.1,249.5 L347.1,248.9 L346.6,248.3 L345.7,247.8 L344.4,247.3 L342.7,246.9 L340.8,246.5 L338.8,246.1 L336.7,245.7 L334.8,245.2 L333.0,244.8 L331.6,244.3 L330.6,243.8 L330.1,243.2ZM332.6,264.7 L333.3,265.3 L334.5,265.8 L336.0,266.2 L337.9,266.7 L339.9,267.1 L341.9,267.5 L343.9,267.9 L345.8,268.3 L347.3,268.8 L348.5,269.3 L349.2,269.8 L349.5,270.4 L348.9,265.0 L348.6,264.4 L347.9,263.9 L346.7,263.4 L345.2,262.9 L343.3,262.5 L341.3,262.1 L339.3,261.7 L337.3,261.3 L335.4,260.9 L333.9,260.4 L332.7,259.9 L332.0,259.4ZM334.1,280.3 L334.6,280.9 L335.5,281.4 L336.8,281.9 L338.5,282.3 L340.4,282.7 L342.4,283.1 L344.5,283.5 L346.4,283.9 L348.2,284.4 L349.6,284.8 L350.6,285.4 L351.2,285.9 L351.3,286.5 L350.7,281.2 L350.6,280.6 L350.0,280.0 L349.0,279.5 L347.6,279.0 L345.8,278.6 L343.9,278.2 L341.8,277.8 L339.8,277.4 L337.9,276.9 L336.2,276.5 L334.9,276.0 L334.0,275.5 L333.5,274.9ZM336.0,296.4 L336.6,297.0 L337.7,297.5 L339.2,297.9 L340.9,298.4 L342.9,298.8 L345.0,299.2 L347.0,299.6 L348.9,300.0 L350.5,300.5 L351.8,300.9 L352.6,301.5 L353.0,302.1 L352.9,302.7 L352.3,297.3 L352.4,296.7 L352.0,296.1 L351.2,295.6 L349.9,295.1 L348.3,294.6 L346.4,294.2 L344.4,293.8 L342.3,293.4 L340.3,293.0 L338.6,292.6 L337.1,292.1 L336.0,291.6 L335.4,291.0ZM337.6,311.9 L338.0,312.5 L338.8,313.1 L340.0,313.6 L341.6,314.0 L343.4,314.4 L345.4,314.8 L347.5,315.2 L349.5,315.6 L351.3,316.1 L352.8,316.5 L353.9,317.0 L354.6,317.6 L354.8,318.2 L354.2,312.8 L354.0,312.2 L353.3,311.7 L352.2,311.2 L350.7,310.7 L348.9,310.3 L346.9,309.9 L344.8,309.5 L342.8,309.1 L341.0,308.6 L339.4,308.2 L338.2,307.7 L337.4,307.2 L337.0,306.6Z" fill="#dcdcdc" stroke="#a8a8a8" stroke-width="0.5" stroke-linejoin="round"/><path d="M344.1,223.3 L343.4,223.9 L342.4,224.7 L341.0,225.5 L339.3,226.3 L337.4,227.1 L335.5,228.0 L333.6,228.8 L331.9,229.6 L330.5,230.4 L329.5,231.2 L328.9,231.8 L328.8,232.5 L328.2,227.1 L328.3,226.5 L328.9,225.8 L329.9,225.0 L331.3,224.3 L333.0,223.4 L334.9,222.6 L336.8,221.8 L338.7,220.9 L340.4,220.1 L341.8,219.3 L342.8,218.6 L343.5,217.9ZM346.0,238.7 L345.6,239.4 L344.9,240.1 L343.7,240.9 L342.1,241.7 L340.3,242.5 L338.4,243.4 L336.5,244.2 L334.7,245.0 L333.1,245.8 L331.9,246.6 L331.0,247.3 L330.6,248.0 L330.7,248.6 L330.1,243.2 L330.0,242.6 L330.4,242.0 L331.3,241.2 L332.5,240.5 L334.1,239.7 L335.9,238.8 L337.8,238.0 L339.7,237.1 L341.5,236.3 L343.1,235.5 L344.3,234.8 L345.0,234.0 L345.4,233.4ZM347.7,254.9 L347.2,255.6 L346.2,256.3 L344.9,257.1 L343.2,257.9 L341.4,258.7 L339.5,259.6 L337.6,260.4 L335.8,261.2 L334.4,262.0 L333.3,262.8 L332.6,263.5 L332.3,264.1 L332.6,264.7 L332.0,259.4 L331.7,258.8 L332.0,258.1 L332.7,257.4 L333.8,256.7 L335.3,255.9 L337.0,255.0 L338.9,254.2 L340.8,253.4 L342.6,252.5 L344.3,251.7 L345.6,250.9 L346.6,250.2 L347.1,249.5ZM349.5,270.4 L349.3,271.1 L348.6,271.8 L347.5,272.5 L346.0,273.3 L344.3,274.1 L342.4,275.0 L340.5,275.8 L338.7,276.6 L337.0,277.4 L335.7,278.2 L334.7,279.0 L334.2,279.6 L334.1,280.3 L333.5,274.9 L333.6,274.3 L334.1,273.6 L335.1,272.9 L336.4,272.1 L338.1,271.3 L339.9,270.4 L341.8,269.6 L343.7,268.8 L345.4,267.9 L346.9,267.1 L348.0,266.4 L348.7,265.7 L348.9,265.0ZM351.3,286.5 L350.9,287.2 L350.0,287.9 L348.8,288.7 L347.2,289.5 L345.4,290.3 L343.5,291.2 L341.6,292.0 L339.8,292.8 L338.2,293.6 L337.0,294.4 L336.2,295.1 L335.9,295.8 L336.0,296.4 L335.4,291.0 L335.3,290.4 L335.6,289.8 L336.4,289.0 L337.6,288.3 L339.2,287.5 L341.0,286.7 L342.9,285.8 L344.8,285.0 L346.6,284.1 L348.2,283.3 L349.4,282.6 L350.3,281.8 L350.7,281.2ZM352.9,302.7 L352.4,303.4 L351.3,304.1 L350.0,304.9 L348.3,305.7 L346.4,306.6 L344.5,307.4 L342.6,308.2 L340.9,309.1 L339.5,309.8 L338.4,310.6 L337.8,311.3 L337.6,311.9 L337.0,306.6 L337.2,305.9 L337.8,305.2 L338.9,304.5 L340.3,303.7 L342.0,302.9 L343.9,302.0 L345.8,301.2 L347.7,300.4 L349.4,299.5 L350.7,298.8 L351.8,298.0 L352.3,297.3ZM354.8,318.2 L354.5,318.9 L353.8,319.6 L352.6,320.3 L351.1,321.1 L349.4,321.9 L347.5,322.8 L345.5,323.6 L343.7,324.5 L342.1,325.3 L341.5,319.9 L343.1,319.1 L344.9,318.3 L346.9,317.4 L348.8,316.6 L350.5,315.8 L352.0,315.0 L353.2,314.2 L353.9,313.5 L354.2,312.8Z" fill="#f2f2f2" stroke="#a8a8a8" stroke-width="0.6" stroke-linejoin="round"/>
<path d="M295.0,251.2 L295.7,251.7 L296.7,252.3 L298.2,252.8 L299.8,253.3 L301.7,253.7 L303.7,254.2 L305.5,254.6 L307.2,255.1 L308.6,255.6 L309.7,256.2 L310.3,256.7 L310.5,257.3 L310.0,252.0 L309.9,251.4 L309.2,250.8 L308.2,250.2 L306.8,249.7 L305.1,249.3 L303.2,248.8 L301.3,248.3 L299.4,247.9 L297.7,247.4 L296.3,246.9 L295.2,246.4 L294.6,245.8ZM296.4,266.7 L297.1,267.2 L298.1,267.8 L299.6,268.3 L301.3,268.7 L303.2,269.2 L305.1,269.7 L307.0,270.1 L308.7,270.6 L310.1,271.1 L311.1,271.6 L311.7,272.2 L311.8,272.8 L311.3,267.5 L311.2,266.8 L310.6,266.3 L309.6,265.7 L308.2,265.2 L306.5,264.7 L304.6,264.3 L302.7,263.8 L300.8,263.4 L299.1,262.9 L297.7,262.4 L296.6,261.8 L295.9,261.3ZM297.8,282.1 L298.4,282.7 L299.6,283.2 L301.0,283.7 L302.8,284.2 L304.6,284.7 L306.6,285.1 L308.4,285.6 L310.1,286.1 L311.5,286.6 L312.5,287.1 L313.0,287.7 L313.1,288.3 L312.7,282.9 L312.6,282.3 L312.0,281.7 L311.0,281.2 L309.6,280.7 L308.0,280.2 L306.1,279.8 L304.2,279.3 L302.3,278.8 L300.6,278.4 L299.1,277.9 L298.0,277.3 L297.3,276.8ZM299.1,297.6 L299.8,298.2 L301.0,298.7 L302.5,299.2 L304.2,299.7 L306.1,300.2 L308.0,300.6 L309.9,301.1 L311.5,301.6 L312.9,302.1 L313.8,302.6 L314.4,303.2 L314.4,303.8 L314.0,298.4 L313.9,297.8 L313.4,297.2 L312.4,296.7 L311.1,296.2 L309.4,295.7 L307.6,295.2 L305.6,294.8 L303.7,294.3 L302.0,293.8 L300.5,293.3 L299.4,292.8 L298.6,292.3ZM300.2,312.5 L300.5,313.1 L301.2,313.7 L302.4,314.2 L303.9,314.7 L305.7,315.2 L307.6,315.6 L309.5,316.1 L311.3,316.6 L312.9,317.0 L314.3,317.5 L315.2,318.1 L314.7,312.7 L313.8,312.2 L312.5,311.7 L310.9,311.2 L309.0,310.7 L307.1,310.2 L305.2,309.8 L303.4,309.3 L301.9,308.8 L300.8,308.3 L300.0,307.7 L299.7,307.1Z" fill="#dcdcdc" stroke="#a8a8a8" stroke-width="0.5" stroke-linejoin="round"/><path d="M295.9,249.2 L295.2,249.9 L294.9,250.6 L295.0,251.2 L294.6,245.8 L294.4,245.2 L294.7,244.5 L295.5,243.8ZM310.5,257.3 L310.2,258.0 L309.4,258.7 L308.3,259.4 L306.8,260.2 L305.1,260.9 L303.3,261.7 L301.5,262.5 L299.8,263.3 L298.3,264.0 L297.2,264.7 L296.5,265.4 L296.2,266.1 L296.4,266.7 L295.9,261.3 L295.7,260.7 L296.0,260.0 L296.7,259.3 L297.9,258.6 L299.3,257.9 L301.0,257.1 L302.8,256.3 L304.6,255.5 L306.3,254.8 L307.8,254.0 L309.0,253.3 L309.7,252.6 L310.0,252.0ZM311.8,272.8 L311.5,273.5 L310.7,274.2 L309.5,274.9 L308.0,275.7 L306.3,276.4 L304.5,277.2 L302.7,278.0 L301.0,278.7 L299.6,279.5 L298.5,280.2 L297.8,280.9 L297.5,281.5 L297.8,282.1 L297.3,276.8 L297.1,276.2 L297.3,275.5 L298.0,274.8 L299.1,274.1 L300.5,273.4 L302.2,272.6 L304.0,271.8 L305.8,271.0 L307.5,270.3 L309.0,269.5 L310.2,268.8 L311.0,268.1 L311.3,267.5ZM313.1,288.3 L312.7,289.0 L311.9,289.7 L310.7,290.4 L309.2,291.1 L307.5,291.9 L305.7,292.7 L303.9,293.5 L302.2,294.2 L300.8,295.0 L299.7,295.7 L299.1,296.4 L298.8,297.0 L299.1,297.6 L298.6,292.3 L298.4,291.6 L298.6,291.0 L299.3,290.3 L300.3,289.6 L301.7,288.9 L303.4,288.1 L305.2,287.3 L307.0,286.5 L308.7,285.8 L310.3,285.0 L311.5,284.3 L312.3,283.6 L312.7,282.9ZM314.4,303.8 L314.0,304.5 L313.2,305.2 L311.9,305.9 L310.4,306.6 L308.7,307.4 L306.9,308.2 L305.1,309.0 L303.4,309.7 L302.0,310.5 L301.0,311.2 L300.3,311.9 L300.2,312.5 L299.7,307.1 L299.9,306.5 L300.5,305.8 L301.6,305.1 L303.0,304.4 L304.6,303.6 L306.4,302.8 L308.2,302.0 L310.0,301.3 L311.5,300.5 L312.7,299.8 L313.6,299.1 L314.0,298.4Z" fill="#f2f2f2" stroke="#a8a8a8" stroke-width="0.6" stroke-linejoin="round"/>
<path d="M310,240 318,236 329,232 335,236" fill="none" stroke="#d0d0d0" stroke-width="1.5" stroke-linejoin="round" stroke-linecap="round"/>
<path d="M290,330 300,333 312,329 322,334 330,333" fill="none" stroke="#d5d5d5" stroke-width="1.5" stroke-linejoin="round" stroke-linecap="round"/>
<path d="M278.9,222.3 L279.4,223.0 L280.4,223.7 L281.8,224.4 L283.5,225.2 L285.4,226.0 L287.4,226.8 L289.4,227.6 L291.3,228.3 L292.9,229.1 L294.2,229.8 L295.0,230.5 L295.4,231.2 L295.2,231.8 L295.7,226.4 L295.8,225.8 L295.5,225.1 L294.6,224.4 L293.4,223.7 L291.7,223.0 L289.9,222.2 L287.9,221.4 L285.8,220.6 L283.9,219.8 L282.2,219.1 L280.8,218.3 L279.9,217.6 L279.4,217.0ZM277.7,238.5 L278.4,239.1 L279.4,239.9 L280.9,240.6 L282.7,241.4 L284.7,242.2 L286.7,242.9 L288.7,243.7 L290.5,244.5 L292.0,245.3 L293.2,246.0 L293.9,246.7 L294.1,247.3 L293.8,247.9 L294.2,242.5 L294.5,241.9 L294.3,241.3 L293.6,240.6 L292.5,239.9 L290.9,239.1 L289.1,238.4 L287.1,237.6 L285.1,236.8 L283.1,236.0 L281.4,235.2 L279.9,234.5 L278.8,233.8 L278.2,233.1ZM276.3,254.0 L276.6,254.6 L277.3,255.3 L278.5,256.0 L280.1,256.8 L282.0,257.5 L283.9,258.3 L286.0,259.1 L287.9,259.9 L289.7,260.7 L291.1,261.4 L292.1,262.1 L292.7,262.8 L292.8,263.4 L293.2,258.0 L293.1,257.4 L292.6,256.7 L291.5,256.0 L290.1,255.3 L288.4,254.5 L286.4,253.7 L284.4,252.9 L282.4,252.2 L280.5,251.4 L279.0,250.6 L277.8,249.9 L277.0,249.2 L276.7,248.6ZM275.0,270.1 L275.4,270.7 L276.3,271.4 L277.7,272.2 L279.3,272.9 L281.2,273.7 L283.2,274.5 L285.3,275.3 L287.2,276.1 L288.8,276.8 L290.1,277.6 L291.1,278.3 L291.5,278.9 L291.4,279.5 L291.8,274.1 L291.9,273.5 L291.5,272.9 L290.6,272.2 L289.3,271.4 L287.6,270.7 L285.7,269.9 L283.7,269.1 L281.6,268.3 L279.7,267.6 L278.1,266.8 L276.8,266.1 L275.9,265.4 L275.5,264.7ZM273.8,286.2 L274.4,286.9 L275.4,287.6 L276.8,288.3 L278.5,289.1 L280.5,289.9 L282.5,290.7 L284.5,291.5 L286.4,292.2 L287.9,293.0 L289.2,293.7 L289.9,294.4 L290.2,295.0 L290.0,295.6 L290.4,290.3 L290.6,289.7 L290.4,289.0 L289.6,288.3 L288.4,287.6 L286.8,286.8 L285.0,286.1 L283.0,285.3 L280.9,284.5 L279.0,283.7 L277.2,283.0 L275.8,282.2 L274.8,281.5 L274.2,280.8ZM272.6,302.4 L273.3,303.0 L274.4,303.7 L276.0,304.5 L277.8,305.3 L279.8,306.1 L281.8,306.8 L283.8,307.6 L285.6,308.4 L287.0,309.1 L288.1,309.9 L288.8,310.5 L288.9,311.2 L289.3,305.8 L289.2,305.1 L288.6,304.5 L287.5,303.8 L286.0,303.0 L284.2,302.2 L282.2,301.5 L280.2,300.7 L278.2,299.9 L276.4,299.1 L274.9,298.4 L273.7,297.6 L273.1,297.0ZM271.1,317.8 L271.5,318.5 L272.3,319.2 L273.6,319.9 L275.2,320.7 L277.0,321.4 L279.0,322.2 L281.1,323.0 L283.0,323.8 L284.7,324.6 L286.1,325.3 L287.1,326.0 L287.6,326.7 L287.6,327.3 L288.0,321.9 L288.0,321.3 L287.5,320.6 L286.5,319.9 L285.1,319.2 L283.4,318.4 L281.5,317.6 L279.5,316.8 L277.5,316.1 L275.6,315.3 L274.0,314.5 L272.7,313.8 L271.9,313.1 L271.6,312.5Z" fill="#e09a68" stroke="#c07d4c" stroke-width="0.5" stroke-linejoin="round"/><path d="M287.8,218.7 L285.7,219.1 L283.7,219.6 L281.9,220.1 L280.5,220.6 L279.5,221.1 L279.0,221.7 L278.9,222.3 L279.4,217.0 L279.4,216.3 L279.9,215.8 L280.9,215.2 L282.3,214.7 L284.1,214.2 L286.1,213.8 L288.2,213.3ZM295.2,231.8 L294.6,232.3 L293.4,232.9 L291.9,233.4 L290.1,233.9 L288.0,234.3 L285.9,234.8 L283.8,235.2 L281.8,235.7 L280.2,236.2 L278.9,236.7 L278.0,237.2 L277.6,237.8 L277.7,238.5 L278.2,233.1 L278.0,232.5 L278.4,231.9 L279.3,231.3 L280.6,230.8 L282.3,230.3 L284.2,229.8 L286.3,229.4 L288.5,228.9 L290.5,228.5 L292.3,228.0 L293.9,227.5 L295.0,227.0 L295.7,226.4ZM293.8,247.9 L293.0,248.5 L291.7,249.0 L290.1,249.5 L288.2,249.9 L286.1,250.4 L284.0,250.8 L281.9,251.3 L280.0,251.8 L278.5,252.3 L277.3,252.8 L276.5,253.4 L276.3,254.0 L276.7,248.6 L277.0,248.0 L277.7,247.4 L278.9,246.9 L280.5,246.4 L282.4,245.9 L284.4,245.5 L286.6,245.0 L288.6,244.6 L290.6,244.1 L292.2,243.6 L293.4,243.1 L294.2,242.5ZM292.8,263.4 L292.3,264.0 L291.4,264.5 L290.0,265.1 L288.3,265.5 L286.3,266.0 L284.2,266.5 L282.1,266.9 L280.1,267.4 L278.3,267.9 L276.8,268.4 L275.7,268.9 L275.1,269.5 L275.0,270.1 L275.5,264.7 L275.6,264.1 L276.2,263.5 L277.2,263.0 L278.7,262.5 L280.5,262.0 L282.5,261.5 L284.7,261.1 L286.8,260.6 L288.7,260.2 L290.5,259.7 L291.8,259.2 L292.8,258.6 L293.2,258.0ZM291.4,279.5 L290.8,280.1 L289.8,280.6 L288.3,281.2 L286.5,281.6 L284.5,282.1 L282.3,282.5 L280.2,283.0 L278.2,283.5 L276.5,283.9 L275.1,284.5 L274.2,285.0 L273.8,285.6 L273.8,286.2 L274.2,280.8 L274.2,280.2 L274.6,279.6 L275.6,279.1 L277.0,278.6 L278.7,278.1 L280.7,277.6 L282.8,277.2 L284.9,276.7 L286.9,276.2 L288.7,275.8 L290.2,275.3 L291.2,274.7 L291.8,274.1ZM290.0,295.6 L289.3,296.2 L288.1,296.7 L286.5,297.2 L284.6,297.7 L282.6,298.2 L280.4,298.6 L278.3,299.1 L276.4,299.5 L274.8,300.0 L273.5,300.6 L272.7,301.1 L272.4,301.7 L272.6,302.4 L273.1,297.0 L272.9,296.3 L273.2,295.7 L274.0,295.2 L275.2,294.6 L276.9,294.2 L278.8,293.7 L280.9,293.2 L283.0,292.8 L285.1,292.3 L286.9,291.9 L288.5,291.4 L289.7,290.8 L290.4,290.3ZM288.9,311.2 L288.5,311.8 L287.7,312.3 L286.4,312.8 L284.7,313.3 L282.8,313.8 L280.7,314.2 L278.5,314.7 L276.5,315.1 L274.6,315.6 L273.1,316.1 L272.0,316.7 L271.3,317.2 L271.1,317.8 L271.6,312.5 L271.7,311.8 L272.4,311.3 L273.5,310.7 L275.1,310.2 L276.9,309.8 L279.0,309.3 L281.1,308.9 L283.2,308.4 L285.2,307.9 L286.8,307.4 L288.1,306.9 L289.0,306.4 L289.3,305.8ZM287.6,327.3 L287.1,327.9 L286.1,328.4 L284.7,328.9 L282.9,329.4 L280.9,329.9 L281.3,324.5 L283.3,324.0 L285.1,323.5 L286.5,323.0 L287.5,322.5 L288.0,321.9Z" fill="#f7b78a" stroke="#c07d4c" stroke-width="0.6" stroke-linejoin="round"/>
<path d="M295.1,253.5 L296.2,254.0 L297.7,254.5 L299.6,254.9 L301.6,255.3 L303.6,255.7 L305.6,256.1 L307.5,256.5 L309.0,256.9 L310.2,257.4 L310.8,257.9 L311.0,258.5 L310.4,253.2 L310.2,252.6 L309.5,252.0 L308.4,251.5 L306.8,251.1 L305.0,250.7 L303.0,250.3 L300.9,249.9 L298.9,249.5 L297.1,249.1 L295.6,248.7 L294.5,248.2ZM296.3,268.4 L297.0,269.0 L298.2,269.5 L299.7,269.9 L301.6,270.3 L303.6,270.7 L305.6,271.1 L307.6,271.5 L309.4,271.9 L310.9,272.3 L312.1,272.8 L312.7,273.4 L312.8,274.0 L312.2,268.6 L312.1,268.0 L311.4,267.5 L310.3,267.0 L308.8,266.5 L307.0,266.1 L305.0,265.7 L302.9,265.3 L300.9,265.0 L299.1,264.5 L297.5,264.1 L296.4,263.6 L295.6,263.1ZM298.1,283.9 L298.9,284.4 L300.1,284.9 L301.7,285.3 L303.6,285.8 L305.6,286.1 L307.7,286.5 L309.6,286.9 L311.4,287.3 L312.9,287.8 L313.9,288.3 L314.5,288.8 L314.6,289.5 L314.0,284.1 L313.9,283.5 L313.3,282.9 L312.3,282.4 L310.8,282.0 L309.0,281.6 L307.0,281.2 L305.0,280.8 L302.9,280.4 L301.1,280.0 L299.5,279.5 L298.3,279.1 L297.5,278.5ZM300.0,299.3 L300.8,299.9 L302.1,300.3 L303.7,300.8 L305.6,301.2 L307.6,301.6 L309.7,302.0 L311.6,302.4 L313.4,302.8 L314.8,303.2 L315.8,303.7 L316.4,304.3 L316.4,304.9 L315.8,299.6 L315.8,298.9 L315.2,298.4 L314.2,297.9 L312.8,297.4 L311.0,297.0 L309.0,296.6 L307.0,296.2 L304.9,295.8 L303.0,295.4 L301.4,295.0 L300.2,294.5 L299.4,294.0ZM301.5,314.2 L301.9,314.8 L302.7,315.3 L304.0,315.8 L305.7,316.2 L307.6,316.6 L309.6,317.0 L311.7,317.4 L313.6,317.8 L315.4,318.2 L316.8,318.7 L317.7,319.2 L318.2,319.8 L317.6,314.4 L317.1,313.8 L316.1,313.3 L314.7,312.8 L313.0,312.4 L311.0,312.0 L309.0,311.6 L306.9,311.3 L305.0,310.9 L303.4,310.4 L302.1,309.9 L301.2,309.4 L300.9,308.8Z" fill="#e09a68" stroke="#c07d4c" stroke-width="0.5" stroke-linejoin="round"/><path d="M311.0,258.5 L310.7,259.2 L310.0,259.9 L308.8,260.7 L307.2,261.5 L305.4,262.3 L303.5,263.2 L301.6,264.0 L299.8,264.9 L298.3,265.7 L297.1,266.5 L296.3,267.2 L296.1,267.8 L296.3,268.4 L295.6,263.1 L295.4,262.5 L295.7,261.8 L296.5,261.1 L297.6,260.3 L299.2,259.5 L301.0,258.7 L302.9,257.8 L304.8,257.0 L306.6,256.1 L308.1,255.3 L309.3,254.6 L310.1,253.8 L310.4,253.2ZM312.8,274.0 L312.5,274.7 L311.7,275.4 L310.4,276.2 L308.8,277.0 L307.0,277.8 L305.1,278.7 L303.2,279.5 L301.5,280.4 L300.0,281.2 L298.8,281.9 L298.1,282.6 L297.9,283.3 L298.1,283.9 L297.5,278.5 L297.2,277.9 L297.5,277.3 L298.2,276.6 L299.3,275.8 L300.8,275.0 L302.6,274.2 L304.5,273.3 L306.4,272.5 L308.2,271.6 L309.8,270.8 L311.0,270.0 L311.9,269.3 L312.2,268.6ZM314.6,289.5 L314.2,290.1 L313.4,290.9 L312.1,291.6 L310.5,292.5 L308.7,293.3 L306.7,294.2 L304.9,295.0 L303.1,295.8 L301.6,296.6 L300.5,297.4 L299.9,298.1 L299.7,298.7 L300.0,299.3 L299.4,294.0 L299.0,293.4 L299.2,292.7 L299.9,292.0 L301.0,291.3 L302.5,290.5 L304.2,289.6 L306.1,288.8 L308.0,287.9 L309.9,287.1 L311.5,286.3 L312.7,285.5 L313.6,284.8 L314.0,284.1ZM316.4,304.9 L316.0,305.6 L315.1,306.3 L313.8,307.1 L312.1,307.9 L310.3,308.8 L308.4,309.6 L306.5,310.5 L304.8,311.3 L303.3,312.1 L302.3,312.9 L301.6,313.6 L301.5,314.2 L300.9,308.8 L301.0,308.2 L301.6,307.5 L302.7,306.7 L304.1,305.9 L305.9,305.1 L307.7,304.3 L309.7,303.4 L311.5,302.6 L313.1,301.8 L314.4,301.0 L315.4,300.2 L315.8,299.6Z" fill="#f7b78a" stroke="#c07d4c" stroke-width="0.6" stroke-linejoin="round"/>
<path d="M335.2,225.0 L335.9,225.5 L337.0,226.0 L338.6,226.4 L340.4,226.8 L342.5,227.1 L344.7,227.4 L346.9,227.7 L349.0,228.0 L350.7,228.4 L352.1,228.8 L353.1,229.3 L353.6,229.9 L353.5,230.5 L352.8,225.2 L352.8,224.5 L352.3,224.0 L351.4,223.5 L350.0,223.1 L348.2,222.7 L346.2,222.4 L344.0,222.0 L341.8,221.7 L339.7,221.4 L337.8,221.0 L336.2,220.6 L335.1,220.2 L334.4,219.6ZM337.6,241.0 L338.4,241.5 L339.7,241.9 L341.3,242.3 L343.3,242.7 L345.4,243.0 L347.6,243.3 L349.8,243.6 L351.7,244.0 L353.4,244.4 L354.7,244.8 L355.6,245.3 L355.9,245.9 L355.1,240.5 L354.8,240.0 L354.0,239.4 L352.7,239.0 L351.0,238.6 L349.0,238.3 L346.8,238.0 L344.6,237.7 L342.5,237.3 L340.5,237.0 L338.9,236.6 L337.6,236.1 L336.9,235.6ZM339.7,256.4 L340.1,257.0 L341.0,257.5 L342.4,257.9 L344.1,258.3 L346.1,258.6 L348.3,258.9 L350.5,259.2 L352.6,259.5 L354.5,259.9 L356.1,260.3 L357.3,260.8 L358.0,261.3 L358.2,261.9 L357.4,256.5 L357.2,255.9 L356.5,255.4 L355.3,255.0 L353.7,254.6 L351.8,254.2 L349.7,253.9 L347.5,253.6 L345.3,253.3 L343.3,252.9 L341.6,252.5 L340.2,252.1 L339.3,251.6 L338.9,251.0ZM342.0,272.4 L342.6,272.9 L343.6,273.4 L345.1,273.8 L346.9,274.2 L349.0,274.5 L351.2,274.8 L353.3,275.1 L355.4,275.5 L357.3,275.8 L358.7,276.3 L359.8,276.7 L360.4,277.3 L360.4,277.9 L359.7,272.5 L359.6,271.9 L359.0,271.4 L358.0,270.9 L356.5,270.5 L354.7,270.1 L352.6,269.8 L350.4,269.5 L348.2,269.2 L346.1,268.8 L344.3,268.5 L342.8,268.1 L341.8,267.6 L341.2,267.0ZM344.4,288.4 L345.1,288.9 L346.2,289.4 L347.8,289.8 L349.7,290.1 L351.8,290.4 L354.0,290.8 L356.2,291.1 L358.2,291.4 L360.0,291.8 L361.4,292.2 L362.3,292.7 L362.7,293.3 L362.7,293.9 L361.9,288.6 L362.0,287.9 L361.5,287.4 L360.6,286.9 L359.2,286.4 L357.5,286.1 L355.4,285.7 L353.3,285.4 L351.0,285.1 L348.9,284.8 L347.0,284.4 L345.5,284.0 L344.3,283.6 L343.6,283.0ZM346.8,304.4 L347.6,304.9 L348.9,305.3 L350.6,305.7 L352.5,306.0 L354.7,306.4 L356.9,306.7 L359.0,307.0 L361.0,307.3 L362.7,307.7 L363.9,308.2 L364.7,308.7 L365.1,309.3 L364.3,303.9 L364.0,303.3 L363.2,302.8 L361.9,302.4 L360.2,302.0 L358.3,301.6 L356.1,301.3 L353.9,301.0 L351.8,300.7 L349.8,300.4 L348.1,300.0 L346.9,299.5 L346.0,299.0ZM348.8,319.8 L349.3,320.3 L350.2,320.8 L351.6,321.3 L353.4,321.6 L355.4,322.0 L357.6,322.3 L359.8,322.6 L361.9,322.9 L363.8,323.3 L365.3,323.7 L364.6,318.3 L363.0,317.9 L361.1,317.6 L359.0,317.2 L356.8,316.9 L354.6,316.6 L352.6,316.3 L350.8,315.9 L349.4,315.5 L348.5,315.0 L348.0,314.4Z" fill="#e09a68" stroke="#c07d4c" stroke-width="0.5" stroke-linejoin="round"/><path d="M339.2,221.3 L337.6,222.1 L336.3,223.0 L335.4,223.7 L335.1,224.4 L335.2,225.0 L334.4,219.6 L334.3,219.0 L334.7,218.4 L335.5,217.6 L336.8,216.8 L338.4,215.9ZM353.5,230.5 L353.0,231.2 L352.0,232.0 L350.6,232.8 L348.8,233.7 L346.9,234.6 L344.8,235.5 L342.9,236.5 L341.0,237.3 L339.5,238.2 L338.3,239.0 L337.6,239.7 L337.3,240.4 L337.6,241.0 L336.9,235.6 L336.6,235.0 L336.8,234.4 L337.5,233.7 L338.7,232.9 L340.3,232.0 L342.1,231.1 L344.1,230.2 L346.1,229.3 L348.1,228.4 L349.8,227.5 L351.2,226.7 L352.2,225.9 L352.8,225.2ZM355.9,245.9 L355.7,246.5 L355.1,247.3 L353.9,248.0 L352.4,248.9 L350.6,249.8 L348.6,250.7 L346.6,251.6 L344.6,252.5 L342.9,253.4 L341.4,254.3 L340.3,255.0 L339.7,255.7 L339.7,256.4 L338.9,251.0 L339.0,250.4 L339.6,249.7 L340.6,248.9 L342.1,248.1 L343.9,247.2 L345.8,246.3 L347.9,245.4 L349.8,244.4 L351.6,243.6 L353.2,242.7 L354.3,241.9 L355.0,241.2 L355.1,240.5ZM358.2,261.9 L357.9,262.6 L357.1,263.3 L355.8,264.1 L354.2,265.0 L352.4,265.9 L350.4,266.8 L348.3,267.7 L346.4,268.6 L344.7,269.5 L343.4,270.3 L342.4,271.1 L342.0,271.8 L342.0,272.4 L341.2,267.0 L341.2,266.4 L341.7,265.7 L342.6,265.0 L344.0,264.1 L345.7,263.3 L347.6,262.4 L349.6,261.4 L351.6,260.5 L353.5,259.6 L355.1,258.8 L356.3,258.0 L357.1,257.2 L357.4,256.5ZM360.4,277.9 L360.0,278.6 L359.1,279.3 L357.7,280.2 L356.0,281.0 L354.1,281.9 L352.1,282.9 L350.1,283.8 L348.2,284.7 L346.6,285.5 L345.4,286.3 L344.5,287.1 L344.2,287.8 L344.4,288.4 L343.6,283.0 L343.4,282.4 L343.8,281.7 L344.6,281.0 L345.8,280.2 L347.5,279.3 L349.3,278.4 L351.3,277.5 L353.4,276.6 L355.3,275.7 L357.0,274.8 L358.3,274.0 L359.2,273.2 L359.7,272.5ZM362.7,293.9 L362.1,294.6 L361.0,295.4 L359.6,296.2 L357.8,297.1 L355.9,298.0 L353.9,298.9 L351.9,299.9 L350.1,300.7 L348.5,301.6 L347.4,302.4 L346.7,303.1 L346.5,303.8 L346.8,304.4 L346.0,299.0 L345.7,298.4 L345.9,297.8 L346.6,297.0 L347.8,296.3 L349.3,295.4 L351.1,294.5 L353.1,293.6 L355.1,292.7 L357.1,291.8 L358.8,290.9 L360.3,290.0 L361.3,289.3 L361.9,288.6ZM365.1,309.3 L364.8,309.9 L364.1,310.7 L363.0,311.4 L361.4,312.3 L359.6,313.2 L357.6,314.1 L355.6,315.0 L353.6,315.9 L351.9,316.8 L350.5,317.6 L349.4,318.4 L348.9,319.1 L348.8,319.8 L348.0,314.4 L348.1,313.8 L348.7,313.1 L349.7,312.3 L351.1,311.5 L352.9,310.6 L354.8,309.7 L356.9,308.8 L358.8,307.8 L360.7,307.0 L362.2,306.1 L363.4,305.3 L364.1,304.6 L364.3,303.9Z" fill="#f7b78a" stroke="#c07d4c" stroke-width="0.6" stroke-linejoin="round"/>
<path d="M317.6,256.8 L318.2,257.4 L319.2,257.9 L320.7,258.4 L322.5,258.8 L324.4,259.2 L326.5,259.6 L328.5,259.9 L330.4,260.3 L332.0,260.8 L333.2,261.3 L334.0,261.8 L334.3,262.4 L333.6,257.0 L333.4,256.4 L332.6,255.9 L331.4,255.4 L329.8,255.0 L327.9,254.6 L325.9,254.2 L323.8,253.8 L321.8,253.4 L320.1,253.0 L318.6,252.5 L317.5,252.0 L317.0,251.5ZM319.4,272.3 L320.1,272.8 L321.2,273.3 L322.7,273.8 L324.5,274.2 L326.5,274.6 L328.5,275.0 L330.5,275.4 L332.4,275.8 L333.9,276.2 L335.1,276.7 L335.9,277.3 L336.1,277.9 L335.5,272.5 L335.2,271.9 L334.5,271.4 L333.3,270.9 L331.8,270.4 L329.9,270.0 L327.9,269.6 L325.8,269.2 L323.8,268.8 L322.0,268.4 L320.5,268.0 L319.4,267.5 L318.8,266.9ZM321.3,287.7 L322.0,288.3 L323.1,288.8 L324.6,289.2 L326.5,289.6 L328.5,290.0 L330.5,290.4 L332.5,290.8 L334.4,291.2 L335.9,291.7 L337.0,292.2 L337.7,292.7 L337.9,293.3 L337.3,287.9 L337.1,287.3 L336.4,286.8 L335.3,286.3 L333.7,285.9 L331.9,285.4 L329.9,285.1 L327.8,284.7 L325.8,284.3 L324.0,283.9 L322.5,283.4 L321.3,282.9 L320.7,282.4ZM323.1,303.2 L323.9,303.7 L325.1,304.2 L326.6,304.7 L328.5,305.1 L330.5,305.5 L332.5,305.8 L334.5,306.2 L336.3,306.7 L337.8,307.1 L338.9,307.6 L339.6,308.2 L339.7,308.8 L339.1,303.4 L338.9,302.8 L338.3,302.2 L337.2,301.7 L335.7,301.3 L333.9,300.9 L331.9,300.5 L329.8,300.1 L327.8,299.7 L326.0,299.3 L324.4,298.9 L323.2,298.4 L322.5,297.8ZM325.0,318.6 L325.8,319.2 L327.0,319.7 L328.6,320.1 L330.5,320.5 L332.5,320.9 L334.6,321.3 L336.5,321.7 L338.3,322.1 L337.7,316.7 L335.9,316.3 L333.9,315.9 L331.9,315.5 L329.8,315.1 L328.0,314.7 L326.4,314.3 L325.1,313.8 L324.4,313.3Z" fill="#e09a68" stroke="#c07d4c" stroke-width="0.5" stroke-linejoin="round"/><path d="M317.9,255.6 L317.5,256.2 L317.6,256.8 L317.0,251.5 L316.9,250.9 L317.3,250.2ZM334.3,262.4 L334.1,263.1 L333.4,263.8 L332.2,264.5 L330.7,265.3 L329.0,266.2 L327.1,267.0 L325.1,267.9 L323.3,268.7 L321.7,269.5 L320.5,270.3 L319.7,271.0 L319.3,271.7 L319.4,272.3 L318.8,266.9 L318.7,266.3 L319.0,265.7 L319.9,264.9 L321.1,264.2 L322.7,263.3 L324.5,262.5 L326.4,261.6 L328.3,260.8 L330.1,260.0 L331.6,259.2 L332.7,258.4 L333.4,257.7 L333.6,257.0ZM336.1,277.9 L335.8,278.5 L335.1,279.2 L333.9,280.0 L332.4,280.8 L330.6,281.6 L328.7,282.5 L326.8,283.3 L325.0,284.2 L323.4,285.0 L322.2,285.8 L321.4,286.5 L321.1,287.1 L321.3,287.7 L320.7,282.4 L320.5,281.8 L320.8,281.1 L321.6,280.4 L322.8,279.6 L324.3,278.8 L326.1,278.0 L328.1,277.1 L330.0,276.3 L331.7,275.4 L333.3,274.6 L334.4,273.9 L335.2,273.2 L335.5,272.5ZM337.9,293.3 L337.6,294.0 L336.8,294.7 L335.6,295.5 L334.0,296.3 L332.2,297.1 L330.3,298.0 L328.4,298.8 L326.6,299.7 L325.1,300.5 L323.9,301.2 L323.2,301.9 L322.9,302.6 L323.1,303.2 L322.5,297.8 L322.3,297.2 L322.5,296.6 L323.3,295.9 L324.5,295.1 L326.0,294.3 L327.8,293.5 L329.7,292.6 L331.6,291.8 L333.4,290.9 L334.9,290.1 L336.2,289.3 L336.9,288.6 L337.3,287.9ZM339.7,308.8 L339.3,309.4 L338.5,310.2 L337.2,310.9 L335.7,311.8 L333.8,312.6 L331.9,313.4 L330.0,314.3 L328.3,315.1 L326.8,315.9 L325.6,316.7 L324.9,317.4 L324.7,318.1 L325.0,318.6 L324.4,313.3 L324.1,312.7 L324.3,312.0 L325.0,311.3 L326.1,310.6 L327.6,309.8 L329.4,308.9 L331.3,308.1 L333.2,307.2 L335.0,306.4 L336.6,305.6 L337.9,304.8 L338.7,304.1 L339.1,303.4Z" fill="#f7b78a" stroke="#c07d4c" stroke-width="0.6" stroke-linejoin="round"/>
<path d="M310,239 320,234 330,231" fill="none" stroke="#e89a66" stroke-width="1.4" stroke-linejoin="round" stroke-linecap="round"/>
<path d="M278,328 284,333 292,331" fill="none" stroke="#e89a66" stroke-width="1.4" stroke-linejoin="round" stroke-linecap="round"/>
<path d="M356,322 362,328 367,325" fill="none" stroke="#e89a66" stroke-width="1.4" stroke-linejoin="round" stroke-linecap="round"/>
<defs><linearGradient id="fgr" gradientUnits="userSpaceOnUse" x1="440" y1="0" x2="500" y2="0"><stop offset="0" stop-color="#f4f4f4"/><stop offset="0.5" stop-color="#e4e4e4"/><stop offset="0.8" stop-color="#c4c4c4"/><stop offset="1" stop-color="#a4a4a4"/></linearGradient></defs>
<path d="M439.50,213.80 C440.17,210.83 441.08,210.42 443.00,209.20 C444.92,207.98 448.33,207.07 451.00,206.50 C453.67,205.93 455.73,205.73 459.00,205.80 C462.27,205.87 467.72,205.95 470.60,206.90 C473.48,207.85 475.27,208.82 476.30,211.50 C477.33,214.18 475.85,219.17 476.80,223.00 C477.75,226.83 479.97,231.05 482.00,234.50 C484.03,237.95 487.37,240.63 489.00,243.70 C490.63,246.77 491.38,248.68 491.80,252.90 C492.22,257.12 490.92,263.15 491.50,269.00 C492.08,274.85 493.92,279.25 495.30,288.00 C496.68,296.75 500.18,313.83 499.80,321.50 C499.42,329.17 495.25,330.63 493.00,334.00 C490.75,337.37 489.28,340.03 486.30,341.70 C483.32,343.37 480.70,343.62 475.10,344.00 C469.50,344.38 460.22,344.33 452.70,344.00 C445.18,343.67 437.12,342.42 430.00,342.00 C422.88,341.58 414.17,342.50 410.00,341.50 C405.83,340.50 403.33,342.92 405.00,336.00 C406.67,329.08 416.67,311.00 420.00,300.00 C423.33,289.00 424.00,278.33 425.00,270.00 C426.00,261.67 424.83,256.33 426.00,250.00 C427.17,243.67 429.83,235.83 432.00,232.00 C434.17,228.17 437.75,230.03 439.00,227.00 C440.25,223.97 438.83,216.77 439.50,213.80Z" fill="url(#fgr)" stroke="#999" stroke-width="0.5"/>
<path d="M389,262 Q387,270 391,276 Q394,281 398,280 L399,263 Z" fill="#f6f6f6" stroke="#d0d0d0" stroke-width="0.4"/>
<ellipse cx="486" cy="262" rx="2.5" ry="5" fill="#f4f4f4" filter="url(#b1)"/>
<ellipse cx="481" cy="300" rx="3" ry="5" fill="#f2f2f2" filter="url(#b1)"/>
<ellipse cx="487" cy="318" rx="2.5" ry="4" fill="#eeeeee" filter="url(#b1)"/>
<ellipse cx="474" cy="218" rx="3" ry="6" fill="#bcbcbc" filter="url(#b1)"/>
<ellipse cx="452" cy="212" rx="6" ry="3" fill="#d8d8d8" filter="url(#b1)"/>
<ellipse cx="412" cy="338.5" rx="5" ry="2.2" fill="#c0c0c0" filter="url(#b1)"/>
<ellipse cx="457" cy="340.5" rx="6" ry="2.2" fill="#c0c0c0" filter="url(#b1)"/>
<ellipse cx="478" cy="335" rx="5" ry="3" fill="#b8b8b8" filter="url(#b1)"/>
<ellipse cx="491" cy="288" rx="2" ry="4" fill="#d8d8d8" filter="url(#b1)"/>
<defs><linearGradient id="notchg" x1="0" y1="0" x2="0" y2="1"><stop offset="0" stop-color="#f0f0f0"/><stop offset="0.45" stop-color="#d6d6d6"/><stop offset="1" stop-color="#7a7a7a"/></linearGradient></defs>
<path d="M427,238 L433,231 L440,227 L447,224 L453,228 L456,268 L427,268 Z" fill="url(#notchg)"/>
<path d="M434,228 Q440,238 446,248 M442,226 Q447,236 451,246" fill="none" stroke="#fafafa" stroke-width="1.6" filter="url(#b05)"/>
<path d="M429,256 Q436,250 444,254 Q450,255 457,262 L456,268 L430,268 Z" fill="#5a5a5a" filter="url(#b05)"/>
<path d="M446,257 Q452,259 456,266 L448,267 Z" fill="#1e1e1e" filter="url(#b05)"/>
<path d="M430,259 Q437,255 443,259 Q448,258 452,263" fill="none" stroke="#e6e6e6" stroke-width="1.2"/>
<path d="M433,264 Q439,262 444,265" fill="none" stroke="#c0c0c0" stroke-width="0.8"/>
<path d="M437,238 Q442,244 444,252" fill="none" stroke="#aaa" stroke-width="2" filter="url(#b1)"/>
<path d="M446,236 Q449,243 450,250" fill="none" stroke="#bbb" stroke-width="1.5" filter="url(#b1)"/>
<path d="M399.20,227.60 C399.55,226.13 399.97,225.20 401.50,224.90 C403.03,224.60 406.48,225.15 408.40,225.80 C410.32,226.45 411.47,228.80 413.00,228.80 C414.53,228.80 416.07,226.18 417.60,225.80 C419.13,225.42 421.05,225.82 422.20,226.50 C423.35,227.18 423.92,228.18 424.50,229.90 C425.08,231.62 425.32,234.12 425.70,236.80 C426.08,239.48 426.42,243.32 426.80,246.00 C427.18,248.68 428.00,250.60 428.00,252.90 C428.00,255.20 426.62,257.50 426.80,259.80 C426.98,262.10 427.73,265.08 429.10,266.70 C430.47,268.32 432.88,269.03 435.00,269.50 C437.12,269.97 439.33,269.58 441.80,269.50 C444.27,269.42 447.70,269.85 449.80,269.00 C451.90,268.15 453.82,267.08 454.40,264.40 C454.98,261.72 453.68,256.35 453.30,252.90 C452.92,249.45 451.92,246.77 452.10,243.70 C452.28,240.63 453.25,236.98 454.40,234.50 C455.55,232.02 457.47,230.33 459.00,228.80 C460.53,227.27 461.67,225.88 463.60,225.30 C465.53,224.72 469.13,224.72 470.60,225.30 C472.07,225.88 472.00,227.28 472.40,228.80 C472.80,230.32 472.30,231.67 473.00,234.40 C473.70,237.13 475.10,241.00 476.60,245.20 C478.10,249.40 480.50,255.40 482.00,259.60 C483.50,263.80 484.40,267.40 485.60,270.40 C486.80,273.40 488.90,275.22 489.20,277.60 C489.50,279.98 488.90,283.22 487.40,284.70 C485.90,286.18 482.30,285.60 480.20,286.50 C478.10,287.40 476.30,288.30 474.80,290.10 C473.30,291.90 471.80,294.60 471.20,297.30 C470.60,300.00 470.90,303.60 471.20,306.30 C471.50,309.00 473.00,310.50 473.00,313.50 C473.00,316.50 472.40,321.30 471.20,324.30 C470.00,327.30 468.13,329.35 465.80,331.50 C463.47,333.65 459.75,335.88 457.20,337.20 C454.65,338.52 452.37,339.77 450.50,339.40 C448.63,339.03 446.57,337.23 446.00,335.00 C445.43,332.77 447.47,328.07 447.10,326.00 C446.73,323.93 445.10,322.97 443.80,322.60 C442.50,322.23 440.23,322.30 439.30,323.80 C438.37,325.30 438.95,329.55 438.20,331.60 C437.45,333.65 436.48,335.53 434.80,336.10 C433.12,336.67 430.72,335.38 428.10,335.00 C425.48,334.62 421.72,334.00 419.10,333.80 C416.48,333.60 414.45,333.60 412.40,333.80 C410.35,334.00 408.30,335.55 406.80,335.00 C405.30,334.45 405.08,332.37 403.40,330.50 C401.72,328.63 398.18,326.42 396.70,323.80 C395.22,321.18 395.05,318.17 394.50,314.80 C393.95,311.43 393.78,307.33 393.40,303.60 C393.02,299.87 391.65,295.77 392.20,292.40 C392.75,289.03 395.65,286.13 396.70,283.40 C397.75,280.67 398.20,278.90 398.50,276.00 C398.80,273.10 399.58,268.33 398.50,266.00 C397.42,263.67 393.83,263.67 392.00,262.00 C390.17,260.33 388.25,258.17 387.50,256.00 C386.75,253.83 385.95,251.47 387.50,249.00 C389.05,246.53 394.82,243.75 396.80,241.20 C398.78,238.65 399.00,235.97 399.40,233.70 C399.80,231.43 398.85,229.07 399.20,227.60Z" fill="#f8aa82"/>
<ellipse cx="424.5" cy="269" rx="2.4" ry="1.9" fill="#555"/>
<ellipse cx="432.6" cy="267.9" rx="2.4" ry="1.5" fill="#555"/>
<ellipse cx="442.6" cy="310.8" rx="3.3" ry="3.3" fill="#5f5f5f"/>
<ellipse cx="422.6" cy="319.3" rx="1.1" ry="1.1" fill="#111"/>
<ellipse cx="443.3" cy="310" rx="1.6" ry="1.4" fill="#9a9a9a"/>
<path d="M438.5,324 Q441,321 445,324 L446.5,328 Q443,326 440,329 Z" fill="#6a6a6a"/>
<text x="506.3" y="180" font-family="Liberation Sans" font-weight="bold" font-size="16">g</text>
<rect x="515.8" y="182.5" width="31.8" height="58.2" rx="9" fill="none" stroke="#666" stroke-width="0.6" stroke-dasharray="1.6,1.3"/>
<polyline points="524.1,191.8 523.2,193.2 523.6,194.6 524.6,196.0 525.0,197.4 524.1,198.8" fill="none" stroke="#777" stroke-width="0.5"/><polyline points="521.3,191.8 521.4,193.2 522.4,194.6 523.0,196.0 522.3,197.4 521.3,198.8" fill="none" stroke="#777" stroke-width="0.5"/><circle cx="523.1" cy="189.8" r="2.3" fill="#f6c21b" stroke="#666" stroke-width="0.4"/>
<text x="526.8" y="196.3" font-family="Liberation Sans" font-weight="bold" font-size="8.4">PE</text>
<polyline points="524.6,209.2 523.7,210.6 524.1,212.0 525.1,213.4 525.5,214.8 524.6,216.2" fill="none" stroke="#777" stroke-width="0.5"/><polyline points="521.8,209.2 521.9,210.6 522.9,212.0 523.5,213.4 522.8,214.8 521.8,216.2" fill="none" stroke="#777" stroke-width="0.5"/><circle cx="523.6" cy="207.2" r="2.3" fill="#1cc3ee" stroke="#666" stroke-width="0.4"/>
<text x="527.8" y="214.4" font-family="Liberation Sans" font-weight="bold" font-size="8.4">PG</text>
<polyline points="520.9,226.8 520.0,228.2 520.4,229.6 521.4,231.0 521.8,232.4 520.9,233.8" fill="none" stroke="#777" stroke-width="0.5"/><polyline points="518.1,226.8 518.2,228.2 519.2,229.6 519.8,231.0 519.1,232.4 518.1,233.8" fill="none" stroke="#777" stroke-width="0.5"/><circle cx="519.9" cy="224.8" r="2.3" fill="#ef5f98" stroke="#666" stroke-width="0.4"/>
<polyline points="525.8,226.8 524.9,228.2 525.3,229.6 526.3,231.0 526.7,232.4 525.8,233.8" fill="none" stroke="#777" stroke-width="0.5"/><polyline points="523.0,226.8 523.1,228.2 524.1,229.6 524.7,231.0 524.0,232.4 523.0,233.8" fill="none" stroke="#777" stroke-width="0.5"/><circle cx="524.8" cy="224.8" r="2.3" fill="#ef5f98" stroke="#666" stroke-width="0.4"/>
<text x="529.2" y="231.3" font-family="Liberation Sans" font-weight="bold" font-size="8.4">CDL</text>
<path d="M588.5,184.9 Q592.2,183.5 596.0,190.9M588.5,186.5 Q592.2,185.9 596.0,191.8M586.1,188.6 Q591.1,189.2 596.0,192.8M586.1,190.2 Q591.1,191.6 596.0,193.6M584.2,192.2 Q590.1,190.8 596.0,194.6M584.2,193.8 Q590.1,193.2 596.0,195.4M583.1,195.9 Q589.6,196.5 596.0,196.4M583.1,197.5 Q589.6,198.9 596.0,197.2M583.1,199.5 Q589.6,198.1 596.0,198.3M583.1,201.1 Q589.6,200.5 596.0,199.1M584.2,203.2 Q590.1,203.8 596.0,200.1M584.2,204.8 Q590.1,206.2 596.0,200.9M586.1,206.8 Q591.1,205.4 596.0,201.9M586.1,208.4 Q591.1,207.8 596.0,202.7M588.5,210.5 Q592.2,211.1 596.0,203.8M588.5,212.1 Q592.2,213.5 596.0,204.6" fill="none" stroke="#8a8a8a" stroke-width="1.0"/><path d="M588.5,184.9 Q592.2,183.5 596.0,190.9M588.5,186.5 Q592.2,185.9 596.0,191.8M586.1,188.6 Q591.1,189.2 596.0,192.8M586.1,190.2 Q591.1,191.6 596.0,193.6M584.2,192.2 Q590.1,190.8 596.0,194.6M584.2,193.8 Q590.1,193.2 596.0,195.4M583.1,195.9 Q589.6,196.5 596.0,196.4M583.1,197.5 Q589.6,198.9 596.0,197.2M583.1,199.5 Q589.6,198.1 596.0,198.3M583.1,201.1 Q589.6,200.5 596.0,199.1M584.2,203.2 Q590.1,203.8 596.0,200.1M584.2,204.8 Q590.1,206.2 596.0,200.9M586.1,206.8 Q591.1,205.4 596.0,201.9M586.1,208.4 Q591.1,207.8 596.0,202.7M588.5,210.5 Q592.2,211.1 596.0,203.8M588.5,212.1 Q592.2,213.5 596.0,204.6" fill="none" stroke="#ffffff" stroke-width="0.45"/>
<path d="M637.3,185.1 Q634.1,183.7 631.0,191.1M637.3,186.7 Q634.1,186.1 631.0,191.9M639.5,188.7 Q635.2,189.3 631.0,192.9M639.5,190.3 Q635.2,191.7 631.0,193.7M641.2,192.4 Q636.1,191.0 631.0,194.7M641.2,194.0 Q636.1,193.4 631.0,195.5M642.2,196.0 Q636.6,196.6 631.0,196.5M642.2,197.6 Q636.6,199.0 631.0,197.3M642.2,199.6 Q636.6,198.2 631.0,198.3M642.2,201.2 Q636.6,200.6 631.0,199.1M641.2,203.2 Q636.1,203.8 631.0,200.1M641.2,204.8 Q636.1,206.2 631.0,200.9M639.5,206.9 Q635.2,205.5 631.0,201.9M639.5,208.5 Q635.2,207.9 631.0,202.7M637.3,210.5 Q634.1,211.1 631.0,203.8M637.3,212.1 Q634.1,213.5 631.0,204.6" fill="none" stroke="#8a8a8a" stroke-width="1.0"/><path d="M637.3,185.1 Q634.1,183.7 631.0,191.1M637.3,186.7 Q634.1,186.1 631.0,191.9M639.5,188.7 Q635.2,189.3 631.0,192.9M639.5,190.3 Q635.2,191.7 631.0,193.7M641.2,192.4 Q636.1,191.0 631.0,194.7M641.2,194.0 Q636.1,193.4 631.0,195.5M642.2,196.0 Q636.6,196.6 631.0,196.5M642.2,197.6 Q636.6,199.0 631.0,197.3M642.2,199.6 Q636.6,198.2 631.0,198.3M642.2,201.2 Q636.6,200.6 631.0,199.1M641.2,203.2 Q636.1,203.8 631.0,200.1M641.2,204.8 Q636.1,206.2 631.0,200.9M639.5,206.9 Q635.2,205.5 631.0,201.9M639.5,208.5 Q635.2,207.9 631.0,202.7M637.3,210.5 Q634.1,211.1 631.0,203.8M637.3,212.1 Q634.1,213.5 631.0,204.6" fill="none" stroke="#ffffff" stroke-width="0.45"/>
<path d="M595.5,182.3 L606.5,182.3 Q608.6,182.3 609,184.5 L612.6,210.5 Q612.8,212.8 610.5,212.8 L595.5,212.8 Q593.5,212.8 593.5,210.8 L593.5,184.3 Q593.5,182.3 595.5,182.3 Z" fill="#c9c9c9" stroke="#8c8c8c" stroke-width="0.6"/>
<path d="M619.5,182.3 L630,182.3 Q632,182.3 632,184.3 L632,210.8 Q632,212.8 630,212.8 L615.8,212.8 Q613.4,212.8 613.7,210.5 L617.3,184.5 Q617.6,182.3 619.5,182.3 Z" fill="#c9c9c9" stroke="#8c8c8c" stroke-width="0.6"/>
<path d="M597,203 L600,201 L603,202 L606,199 L609,200 M598,207 L601,205 L604,206 L607,203 M616,196 L619,193 L622,194 L625,191 L628,192 M617,200 L620,197 L623,198 L626,195 L629,196 M620,204 L623,201 L626,202 L629,199 M612,207 L611,211 L612.5,216 M614.5,207 L615.5,211 L614.5,216 M606,196 L609,194 L612,195 L615,193 L618,190 L621,191" fill="none" stroke="#555" stroke-width="0.45"/>
<circle cx="586.0" cy="185.7" r="2.8" fill="url(#head)" stroke="#555" stroke-width="0.5"/><circle cx="583.61" cy="189.36" r="2.8" fill="url(#head)" stroke="#555" stroke-width="0.5"/><circle cx="581.7" cy="193.01" r="2.8" fill="url(#head)" stroke="#555" stroke-width="0.5"/><circle cx="580.64" cy="196.67" r="2.8" fill="url(#head)" stroke="#555" stroke-width="0.5"/><circle cx="580.64" cy="200.33" r="2.8" fill="url(#head)" stroke="#555" stroke-width="0.5"/><circle cx="581.7" cy="203.99" r="2.8" fill="url(#head)" stroke="#555" stroke-width="0.5"/><circle cx="583.61" cy="207.64" r="2.8" fill="url(#head)" stroke="#555" stroke-width="0.5"/><circle cx="586.0" cy="211.3" r="2.8" fill="url(#head)" stroke="#555" stroke-width="0.5"/>
<circle cx="639.8" cy="185.9" r="2.8" fill="url(#head)" stroke="#555" stroke-width="0.5"/><circle cx="641.97" cy="189.53" r="2.8" fill="url(#head)" stroke="#555" stroke-width="0.5"/><circle cx="643.71" cy="193.16" r="2.8" fill="url(#head)" stroke="#555" stroke-width="0.5"/><circle cx="644.67" cy="196.79" r="2.8" fill="url(#head)" stroke="#555" stroke-width="0.5"/><circle cx="644.67" cy="200.41" r="2.8" fill="url(#head)" stroke="#555" stroke-width="0.5"/><circle cx="643.71" cy="204.04" r="2.8" fill="url(#head)" stroke="#555" stroke-width="0.5"/><circle cx="641.97" cy="207.67" r="2.8" fill="url(#head)" stroke="#555" stroke-width="0.5"/><circle cx="639.8" cy="211.3" r="2.8" fill="url(#head)" stroke="#555" stroke-width="0.5"/>
<circle cx="609.3" cy="199.8" r="2.6" fill="#f6c21b" stroke="#666" stroke-width="0.4"/>
<circle cx="615.3" cy="200.6" r="2.6" fill="#ef5f98" stroke="#666" stroke-width="0.4"/>
<circle cx="617.9" cy="204.8" r="2.6" fill="#ef5f98" stroke="#666" stroke-width="0.4"/>
<circle cx="611.9" cy="204.8" r="2.6" fill="#1cc3ee" stroke="#666" stroke-width="0.4"/>
<line x1="610.6" y1="223" x2="610.6" y2="273" stroke="#222" stroke-width="1"/>
<path d="M607.6,271.5 L613.6,271.5 L610.6,278.6 Z" fill="#111"/>
<text x="562.6" y="246.6" font-family="Liberation Sans" font-weight="bold" font-size="9.3">Mutations</text>
<path d="M612.8,241.6 Q626,242 630,254" fill="none" stroke="#222" stroke-width="1.3"/>
<path d="M626.8,252.5 L632.6,251.5 L631.3,258.4 Z" fill="#111"/>
<polyline points="637.0,261.4 637.9,259.5 637.5,257.6 636.5,255.7 636.1,253.8 637.0,251.9" fill="none" stroke="#777" stroke-width="0.5"/><polyline points="639.8,261.4 639.7,259.5 638.7,257.6 638.1,255.7 638.8,253.8 639.8,251.9" fill="none" stroke="#777" stroke-width="0.5"/><circle cx="638" cy="263.4" r="2.3" fill="#ef5f98" stroke="#666" stroke-width="0.4"/>
<polyline points="643.0,261.4 643.9,259.5 643.5,257.6 642.5,255.7 642.1,253.8 643.0,251.9" fill="none" stroke="#777" stroke-width="0.5"/><polyline points="645.8,261.4 645.7,259.5 644.7,257.6 644.1,255.7 644.8,253.8 645.8,251.9" fill="none" stroke="#777" stroke-width="0.5"/><circle cx="644" cy="263.4" r="2.3" fill="#ef5f98" stroke="#666" stroke-width="0.4"/>
<polyline points="643.1,269.0 645.6,268.6 647.4,267.2 648.8,265.1 650.7,263.7 653.1,263.3" fill="none" stroke="#777" stroke-width="0.5"/><polyline points="644.5,271.4 646.5,270.2 648.0,268.2 649.7,266.5 652.0,266.0 654.5,265.7" fill="none" stroke="#777" stroke-width="0.5"/><circle cx="641.9" cy="270.9" r="2.3" fill="#f6c21b" stroke="#666" stroke-width="0.4"/>
<polyline points="651.7,274.8 654.2,274.4 656.0,273.0 657.4,270.9 659.3,269.5 661.7,269.1" fill="none" stroke="#777" stroke-width="0.5"/><polyline points="653.1,277.2 655.1,276.0 656.6,274.0 658.3,272.3 660.6,271.8 663.1,271.5" fill="none" stroke="#777" stroke-width="0.5"/><circle cx="650.5" cy="276.7" r="2.3" fill="#1cc3ee" stroke="#666" stroke-width="0.4"/>
<path d="M583.5,285.8 Q587.8,284.4 592.0,292.4M583.5,287.4 Q587.8,286.8 592.0,293.2M581.6,289.4 Q586.8,290.0 592.0,294.2M581.6,291.0 Q586.8,292.4 592.0,295.0M580.1,293.0 Q586.1,291.6 592.0,296.0M580.1,294.6 Q586.1,294.0 592.0,296.8M579.3,296.6 Q585.7,297.2 592.0,297.8M579.3,298.2 Q585.7,299.6 592.0,298.6M579.3,300.3 Q585.7,298.9 592.0,299.6M579.3,301.9 Q585.7,301.3 592.0,300.4M580.1,303.9 Q586.1,304.5 592.0,301.4M580.1,305.5 Q586.1,306.9 592.0,302.2M581.6,307.5 Q586.8,306.1 592.0,303.2M581.6,309.1 Q586.8,308.5 592.0,304.0M583.5,311.1 Q587.8,311.7 592.0,305.0M583.5,312.7 Q587.8,314.1 592.0,305.9" fill="none" stroke="#8a8a8a" stroke-width="1.0"/><path d="M583.5,285.8 Q587.8,284.4 592.0,292.4M583.5,287.4 Q587.8,286.8 592.0,293.2M581.6,289.4 Q586.8,290.0 592.0,294.2M581.6,291.0 Q586.8,292.4 592.0,295.0M580.1,293.0 Q586.1,291.6 592.0,296.0M580.1,294.6 Q586.1,294.0 592.0,296.8M579.3,296.6 Q585.7,297.2 592.0,297.8M579.3,298.2 Q585.7,299.6 592.0,298.6M579.3,300.3 Q585.7,298.9 592.0,299.6M579.3,301.9 Q585.7,301.3 592.0,300.4M580.1,303.9 Q586.1,304.5 592.0,301.4M580.1,305.5 Q586.1,306.9 592.0,302.2M581.6,307.5 Q586.8,306.1 592.0,303.2M581.6,309.1 Q586.8,308.5 592.0,304.0M583.5,311.1 Q587.8,311.7 592.0,305.0M583.5,312.7 Q587.8,314.1 592.0,305.9" fill="none" stroke="#ffffff" stroke-width="0.45"/>
<path d="M640.6,285.8 Q637.3,284.4 634.0,292.4M640.6,287.4 Q637.3,286.8 634.0,293.2M642.5,289.4 Q638.2,290.0 634.0,294.2M642.5,291.0 Q638.2,292.4 634.0,295.0M644.0,293.0 Q639.0,291.6 634.0,296.0M644.0,294.6 Q639.0,294.0 634.0,296.8M644.8,296.6 Q639.4,297.2 634.0,297.8M644.8,298.2 Q639.4,299.6 634.0,298.6M644.8,300.3 Q639.4,298.9 634.0,299.6M644.8,301.9 Q639.4,301.3 634.0,300.4M644.0,303.9 Q639.0,304.5 634.0,301.4M644.0,305.5 Q639.0,306.9 634.0,302.2M642.5,307.5 Q638.2,306.1 634.0,303.2M642.5,309.1 Q638.2,308.5 634.0,304.0M640.6,311.1 Q637.3,311.7 634.0,305.0M640.6,312.7 Q637.3,314.1 634.0,305.9" fill="none" stroke="#8a8a8a" stroke-width="1.0"/><path d="M640.6,285.8 Q637.3,284.4 634.0,292.4M640.6,287.4 Q637.3,286.8 634.0,293.2M642.5,289.4 Q638.2,290.0 634.0,294.2M642.5,291.0 Q638.2,292.4 634.0,295.0M644.0,293.0 Q639.0,291.6 634.0,296.0M644.0,294.6 Q639.0,294.0 634.0,296.8M644.8,296.6 Q639.4,297.2 634.0,297.8M644.8,298.2 Q639.4,299.6 634.0,298.6M644.8,300.3 Q639.4,298.9 634.0,299.6M644.8,301.9 Q639.4,301.3 634.0,300.4M644.0,303.9 Q639.0,304.5 634.0,301.4M644.0,305.5 Q639.0,306.9 634.0,302.2M642.5,307.5 Q638.2,306.1 634.0,303.2M642.5,309.1 Q638.2,308.5 634.0,304.0M640.6,311.1 Q637.3,311.7 634.0,305.0M640.6,312.7 Q637.3,314.1 634.0,305.9" fill="none" stroke="#ffffff" stroke-width="0.45"/>
<path d="M591,283.4 L606,284.2 Q609.5,285 610.3,289 L610.8,310 Q610.8,313.5 607,313.5 L591,313.5 Q588.5,313.5 588.5,310.5 L588.8,286.5 Q589,283.4 591,283.4 Z" fill="#cdcdcd" stroke="#9a9a9a" stroke-width="0.5"/>
<path d="M603,296 L611,290 L611.5,313.5 L600,313.5 Z" fill="#e0e0e0"/>
<path d="M591.5,285.5 L605.5,285.5 L605.5,312 L591.5,312 Z" fill="#c4c4c4" stroke="#a8a8a8" stroke-width="0.4" stroke-dasharray="1.5,1"/>
<path d="M615,283 L632.5,283.6 Q635.5,284.5 635.7,288 L635.9,310.5 Q635.9,313.8 632.5,313.8 L617,313.8 Q613.2,313.8 613,310.5 L612.7,287 Q612.8,283 615,283 Z" fill="#cdcdcd" stroke="#9a9a9a" stroke-width="0.5"/>
<path d="M621,296 L613,290 L612.5,313.8 L624,313.8 Z" fill="#e0e0e0"/>
<path d="M618.5,285.5 L632.5,285.5 L632.5,312 L618.5,312 Z" fill="#c4c4c4" stroke="#a8a8a8" stroke-width="0.4" stroke-dasharray="1.5,1"/>
<circle cx="581.0" cy="286.6" r="2.8" fill="url(#head)" stroke="#555" stroke-width="0.5"/><circle cx="578.85" cy="290.82" r="2.8" fill="url(#head)" stroke="#555" stroke-width="0.5"/><circle cx="577.28" cy="295.03" r="2.8" fill="url(#head)" stroke="#555" stroke-width="0.5"/><circle cx="576.7" cy="299.25" r="2.8" fill="url(#head)" stroke="#555" stroke-width="0.5"/><circle cx="577.28" cy="303.47" r="2.8" fill="url(#head)" stroke="#555" stroke-width="0.5"/><circle cx="578.85" cy="307.68" r="2.8" fill="url(#head)" stroke="#555" stroke-width="0.5"/><circle cx="581.0" cy="311.9" r="2.8" fill="url(#head)" stroke="#555" stroke-width="0.5"/>
<circle cx="643.1" cy="286.6" r="2.8" fill="url(#head)" stroke="#555" stroke-width="0.5"/><circle cx="645.25" cy="290.82" r="2.8" fill="url(#head)" stroke="#555" stroke-width="0.5"/><circle cx="646.82" cy="295.03" r="2.8" fill="url(#head)" stroke="#555" stroke-width="0.5"/><circle cx="647.4" cy="299.25" r="2.8" fill="url(#head)" stroke="#555" stroke-width="0.5"/><circle cx="646.82" cy="303.47" r="2.8" fill="url(#head)" stroke="#555" stroke-width="0.5"/><circle cx="645.25" cy="307.68" r="2.8" fill="url(#head)" stroke="#555" stroke-width="0.5"/><circle cx="643.1" cy="311.9" r="2.8" fill="url(#head)" stroke="#555" stroke-width="0.5"/>
<text x="556.8" y="330.4" font-family="Liberation Sans" font-weight="bold" font-size="9.35">Conformational</text>
<text x="556.8" y="342.2" font-family="Liberation Sans" font-weight="bold" font-size="9.35">Heterogeneity and Instability</text></svg>
</body></html>
